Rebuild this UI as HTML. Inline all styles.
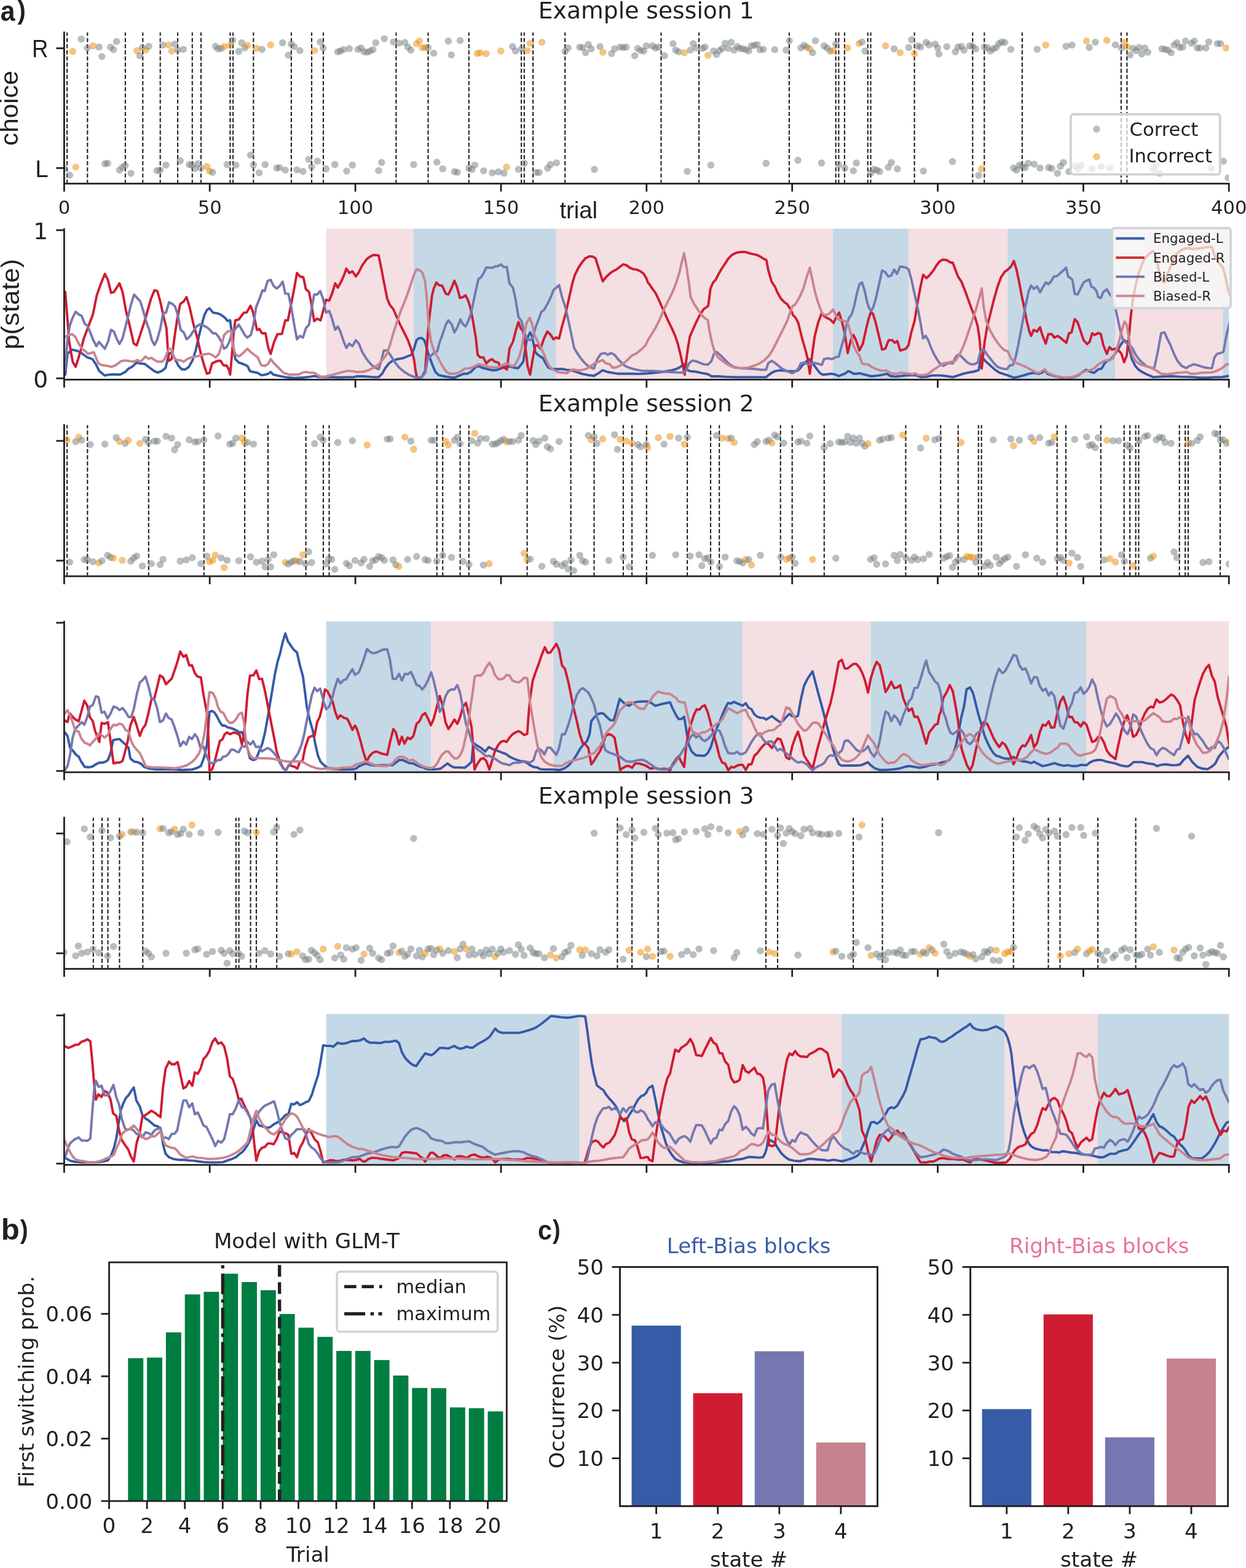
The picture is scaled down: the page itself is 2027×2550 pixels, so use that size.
<!DOCTYPE html>
<html><head><meta charset="utf-8"><title>Figure</title>
<style>html,body{margin:0;padding:0;background:#fff;}svg{display:block;}</style>
</head><body><svg width="2027" height="2550" viewBox="0 0 2027 2550"><rect x="530.7" y="372" width="142.1" height="245.4" fill="#f4dfe2"/><rect x="672.8" y="372" width="232.1" height="245.4" fill="#c5d8e6"/><rect x="905" y="372" width="450" height="245.4" fill="#f4dfe2"/><rect x="1355" y="372" width="123.2" height="245.4" fill="#c5d8e6"/><rect x="1478.1" y="372" width="161.1" height="245.4" fill="#f4dfe2"/><rect x="1639.2" y="372" width="175.3" height="245.4" fill="#c5d8e6"/><rect x="1814.5" y="372" width="175.3" height="245.4" fill="#f4dfe2"/><rect x="1989.7" y="372" width="9.5" height="245.4" fill="#c5d8e6"/><rect x="530.7" y="1010.5" width="170.5" height="245.4" fill="#c5d8e6"/><rect x="701.3" y="1010.5" width="199" height="245.4" fill="#f4dfe2"/><rect x="900.2" y="1010.5" width="307.9" height="245.4" fill="#c5d8e6"/><rect x="1208.1" y="1010.5" width="208.4" height="245.4" fill="#f4dfe2"/><rect x="1416.5" y="1010.5" width="350.5" height="245.4" fill="#c5d8e6"/><rect x="1767.1" y="1010.5" width="232.1" height="245.4" fill="#f4dfe2"/><rect x="530.7" y="1649" width="412.1" height="245.4" fill="#c5d8e6"/><rect x="942.8" y="1649" width="426.3" height="245.4" fill="#f4dfe2"/><rect x="1369.2" y="1649" width="265.3" height="245.4" fill="#c5d8e6"/><rect x="1634.5" y="1649" width="151.6" height="245.4" fill="#f4dfe2"/><rect x="1786" y="1649" width="213.2" height="245.4" fill="#c5d8e6"/><clipPath id="cc0"><rect x="104.4" y="48.4" width="1894.8" height="250.2"/></clipPath><line x1="109.1" y1="52.8" x2="109.1" y2="297.3" stroke="#231f20" stroke-width="2.1" stroke-dasharray="6.68 3.34" stroke-dashoffset="1.11"/><line x1="142.3" y1="52.8" x2="142.3" y2="297.3" stroke="#231f20" stroke-width="2.1" stroke-dasharray="6.68 3.34" stroke-dashoffset="1.11"/><line x1="203.9" y1="52.8" x2="203.9" y2="297.3" stroke="#231f20" stroke-width="2.1" stroke-dasharray="6.68 3.34" stroke-dashoffset="1.11"/><line x1="232.3" y1="52.8" x2="232.3" y2="297.3" stroke="#231f20" stroke-width="2.1" stroke-dasharray="6.68 3.34" stroke-dashoffset="1.11"/><line x1="260.7" y1="52.8" x2="260.7" y2="297.3" stroke="#231f20" stroke-width="2.1" stroke-dasharray="6.68 3.34" stroke-dashoffset="1.11"/><line x1="289.1" y1="52.8" x2="289.1" y2="297.3" stroke="#231f20" stroke-width="2.1" stroke-dasharray="6.68 3.34" stroke-dashoffset="1.11"/><line x1="312.8" y1="52.8" x2="312.8" y2="297.3" stroke="#231f20" stroke-width="2.1" stroke-dasharray="6.68 3.34" stroke-dashoffset="1.11"/><line x1="327" y1="52.8" x2="327" y2="297.3" stroke="#231f20" stroke-width="2.1" stroke-dasharray="6.68 3.34" stroke-dashoffset="1.11"/><line x1="374.4" y1="52.8" x2="374.4" y2="297.3" stroke="#231f20" stroke-width="2.1" stroke-dasharray="6.68 3.34" stroke-dashoffset="1.11"/><line x1="379.1" y1="52.8" x2="379.1" y2="297.3" stroke="#231f20" stroke-width="2.1" stroke-dasharray="6.68 3.34" stroke-dashoffset="1.11"/><line x1="412.3" y1="52.8" x2="412.3" y2="297.3" stroke="#231f20" stroke-width="2.1" stroke-dasharray="6.68 3.34" stroke-dashoffset="1.11"/><line x1="473.9" y1="52.8" x2="473.9" y2="297.3" stroke="#231f20" stroke-width="2.1" stroke-dasharray="6.68 3.34" stroke-dashoffset="1.11"/><line x1="507" y1="52.8" x2="507" y2="297.3" stroke="#231f20" stroke-width="2.1" stroke-dasharray="6.68 3.34" stroke-dashoffset="1.11"/><line x1="526" y1="52.8" x2="526" y2="297.3" stroke="#231f20" stroke-width="2.1" stroke-dasharray="6.68 3.34" stroke-dashoffset="1.11"/><line x1="644.4" y1="52.8" x2="644.4" y2="297.3" stroke="#231f20" stroke-width="2.1" stroke-dasharray="6.68 3.34" stroke-dashoffset="1.11"/><line x1="696.5" y1="52.8" x2="696.5" y2="297.3" stroke="#231f20" stroke-width="2.1" stroke-dasharray="6.68 3.34" stroke-dashoffset="1.11"/><line x1="762.8" y1="52.8" x2="762.8" y2="297.3" stroke="#231f20" stroke-width="2.1" stroke-dasharray="6.68 3.34" stroke-dashoffset="1.11"/><line x1="848.1" y1="52.8" x2="848.1" y2="297.3" stroke="#231f20" stroke-width="2.1" stroke-dasharray="6.68 3.34" stroke-dashoffset="1.11"/><line x1="852.8" y1="52.8" x2="852.8" y2="297.3" stroke="#231f20" stroke-width="2.1" stroke-dasharray="6.68 3.34" stroke-dashoffset="1.11"/><line x1="867.1" y1="52.8" x2="867.1" y2="297.3" stroke="#231f20" stroke-width="2.1" stroke-dasharray="6.68 3.34" stroke-dashoffset="1.11"/><line x1="919.2" y1="52.8" x2="919.2" y2="297.3" stroke="#231f20" stroke-width="2.1" stroke-dasharray="6.68 3.34" stroke-dashoffset="1.11"/><line x1="1075.5" y1="52.8" x2="1075.5" y2="297.3" stroke="#231f20" stroke-width="2.1" stroke-dasharray="6.68 3.34" stroke-dashoffset="1.11"/><line x1="1137.1" y1="52.8" x2="1137.1" y2="297.3" stroke="#231f20" stroke-width="2.1" stroke-dasharray="6.68 3.34" stroke-dashoffset="1.11"/><line x1="1283.9" y1="52.8" x2="1283.9" y2="297.3" stroke="#231f20" stroke-width="2.1" stroke-dasharray="6.68 3.34" stroke-dashoffset="1.11"/><line x1="1359.7" y1="52.8" x2="1359.7" y2="297.3" stroke="#231f20" stroke-width="2.1" stroke-dasharray="6.68 3.34" stroke-dashoffset="1.11"/><line x1="1364.4" y1="52.8" x2="1364.4" y2="297.3" stroke="#231f20" stroke-width="2.1" stroke-dasharray="6.68 3.34" stroke-dashoffset="1.11"/><line x1="1373.9" y1="52.8" x2="1373.9" y2="297.3" stroke="#231f20" stroke-width="2.1" stroke-dasharray="6.68 3.34" stroke-dashoffset="1.11"/><line x1="1411.8" y1="52.8" x2="1411.8" y2="297.3" stroke="#231f20" stroke-width="2.1" stroke-dasharray="6.68 3.34" stroke-dashoffset="1.11"/><line x1="1416.5" y1="52.8" x2="1416.5" y2="297.3" stroke="#231f20" stroke-width="2.1" stroke-dasharray="6.68 3.34" stroke-dashoffset="1.11"/><line x1="1487.6" y1="52.8" x2="1487.6" y2="297.3" stroke="#231f20" stroke-width="2.1" stroke-dasharray="6.68 3.34" stroke-dashoffset="1.11"/><line x1="1582.3" y1="52.8" x2="1582.3" y2="297.3" stroke="#231f20" stroke-width="2.1" stroke-dasharray="6.68 3.34" stroke-dashoffset="1.11"/><line x1="1601.3" y1="52.8" x2="1601.3" y2="297.3" stroke="#231f20" stroke-width="2.1" stroke-dasharray="6.68 3.34" stroke-dashoffset="1.11"/><line x1="1662.9" y1="52.8" x2="1662.9" y2="297.3" stroke="#231f20" stroke-width="2.1" stroke-dasharray="6.68 3.34" stroke-dashoffset="1.11"/><line x1="1823.9" y1="52.8" x2="1823.9" y2="297.3" stroke="#231f20" stroke-width="2.1" stroke-dasharray="6.68 3.34" stroke-dashoffset="1.11"/><line x1="1833.4" y1="52.8" x2="1833.4" y2="297.3" stroke="#231f20" stroke-width="2.1" stroke-dasharray="6.68 3.34" stroke-dashoffset="1.11"/><g clip-path="url(#cc0)" fill-opacity="0.5"><circle cx="104.2" cy="274" r="5.75" fill="#727b80"/><circle cx="113.4" cy="284.7" r="5.75" fill="#727b80"/><circle cx="118.2" cy="83.6" r="5.75" fill="#eb8901"/><circle cx="123.2" cy="271.8" r="5.75" fill="#eb8901"/><circle cx="132.2" cy="63.4" r="5.75" fill="#727b80"/><circle cx="142" cy="78" r="5.75" fill="#727b80"/><circle cx="151.2" cy="74.6" r="5.75" fill="#eb8901"/><circle cx="161.1" cy="76.6" r="5.75" fill="#727b80"/><circle cx="165.8" cy="92" r="5.75" fill="#727b80"/><circle cx="170.6" cy="266.2" r="5.75" fill="#727b80"/><circle cx="175.1" cy="265.6" r="5.75" fill="#727b80"/><circle cx="179.8" cy="76.6" r="5.75" fill="#727b80"/><circle cx="184.6" cy="80.8" r="5.75" fill="#727b80"/><circle cx="189.6" cy="67.4" r="5.75" fill="#727b80"/><circle cx="194.4" cy="276.8" r="5.75" fill="#727b80"/><circle cx="199.4" cy="272.1" r="5.75" fill="#727b80"/><circle cx="203.6" cy="269" r="5.75" fill="#727b80"/><circle cx="213.1" cy="281.9" r="5.75" fill="#727b80"/><circle cx="222.7" cy="82.2" r="5.75" fill="#eb8901"/><circle cx="227.4" cy="90.6" r="5.75" fill="#727b80"/><circle cx="231.6" cy="77.4" r="5.75" fill="#727b80"/><circle cx="237.2" cy="81.4" r="5.75" fill="#eb8901"/><circle cx="242" cy="75.2" r="5.75" fill="#727b80"/><circle cx="255.4" cy="277.4" r="5.75" fill="#727b80"/><circle cx="260.5" cy="276.8" r="5.75" fill="#727b80"/><circle cx="265.2" cy="73.2" r="5.75" fill="#727b80"/><circle cx="270" cy="268.4" r="5.75" fill="#727b80"/><circle cx="274.5" cy="73" r="5.75" fill="#eb8901"/><circle cx="279.2" cy="83" r="5.75" fill="#eb8901"/><circle cx="284.3" cy="71.8" r="5.75" fill="#727b80"/><circle cx="289" cy="81.4" r="5.75" fill="#727b80"/><circle cx="293.2" cy="261.4" r="5.75" fill="#727b80"/><circle cx="298.3" cy="80.2" r="5.75" fill="#727b80"/><circle cx="307.8" cy="267.6" r="5.75" fill="#727b80"/><circle cx="312.3" cy="268.4" r="5.75" fill="#727b80"/><circle cx="317" cy="274" r="5.75" fill="#727b80"/><circle cx="322.1" cy="266.2" r="5.75" fill="#727b80"/><circle cx="326.8" cy="273.5" r="5.75" fill="#727b80"/><circle cx="336.6" cy="270.7" r="5.75" fill="#eb8901"/><circle cx="340.8" cy="278.2" r="5.75" fill="#eb8901"/><circle cx="345.9" cy="280.2" r="5.75" fill="#727b80"/><circle cx="350.6" cy="75.2" r="5.75" fill="#727b80"/><circle cx="354.8" cy="79.4" r="5.75" fill="#727b80"/><circle cx="359.9" cy="78.8" r="5.75" fill="#727b80"/><circle cx="364.6" cy="75.8" r="5.75" fill="#eb8901"/><circle cx="369.4" cy="267.6" r="5.75" fill="#727b80"/><circle cx="373.9" cy="73.8" r="5.75" fill="#eb8901"/><circle cx="378.6" cy="65.4" r="5.75" fill="#727b80"/><circle cx="383.7" cy="268.4" r="5.75" fill="#727b80"/><circle cx="388.4" cy="83.6" r="5.75" fill="#727b80"/><circle cx="393.2" cy="69.6" r="5.75" fill="#727b80"/><circle cx="398.2" cy="78" r="5.75" fill="#727b80"/><circle cx="402.5" cy="73.8" r="5.75" fill="#eb8901"/><circle cx="407.5" cy="252.2" r="5.75" fill="#727b80"/><circle cx="412.3" cy="268.4" r="5.75" fill="#727b80"/><circle cx="417" cy="78.8" r="5.75" fill="#eb8901"/><circle cx="421.5" cy="281" r="5.75" fill="#727b80"/><circle cx="426.3" cy="80.2" r="5.75" fill="#727b80"/><circle cx="431.3" cy="267.6" r="5.75" fill="#727b80"/><circle cx="440.3" cy="73" r="5.75" fill="#eb8901"/><circle cx="450.1" cy="273.2" r="5.75" fill="#727b80"/><circle cx="454.8" cy="272.6" r="5.75" fill="#727b80"/><circle cx="459.6" cy="69.6" r="5.75" fill="#727b80"/><circle cx="464.1" cy="276.8" r="5.75" fill="#727b80"/><circle cx="469.1" cy="89.8" r="5.75" fill="#727b80"/><circle cx="473.9" cy="71.8" r="5.75" fill="#727b80"/><circle cx="478.6" cy="75.8" r="5.75" fill="#727b80"/><circle cx="483.1" cy="276.3" r="5.75" fill="#727b80"/><circle cx="487.9" cy="82.2" r="5.75" fill="#727b80"/><circle cx="492.9" cy="278.8" r="5.75" fill="#727b80"/><circle cx="502.1" cy="259.2" r="5.75" fill="#727b80"/><circle cx="506.9" cy="271.2" r="5.75" fill="#727b80"/><circle cx="511.7" cy="82.2" r="5.75" fill="#eb8901"/><circle cx="516.4" cy="262" r="5.75" fill="#727b80"/><circle cx="520.9" cy="68.2" r="5.75" fill="#727b80"/><circle cx="525.7" cy="78" r="5.75" fill="#727b80"/><circle cx="530.4" cy="274.6" r="5.75" fill="#727b80"/><circle cx="544.7" cy="267.6" r="5.75" fill="#727b80"/><circle cx="549.5" cy="84.2" r="5.75" fill="#727b80"/><circle cx="553.7" cy="83" r="5.75" fill="#727b80"/><circle cx="558.7" cy="80.8" r="5.75" fill="#727b80"/><circle cx="564" cy="278.2" r="5.75" fill="#727b80"/><circle cx="568.2" cy="79.1" r="5.75" fill="#727b80"/><circle cx="573.3" cy="268.4" r="5.75" fill="#727b80"/><circle cx="582.4" cy="80.2" r="5.75" fill="#727b80"/><circle cx="587.4" cy="78" r="5.75" fill="#727b80"/><circle cx="592.2" cy="84.2" r="5.75" fill="#727b80"/><circle cx="597.2" cy="85" r="5.75" fill="#727b80"/><circle cx="602" cy="83" r="5.75" fill="#727b80"/><circle cx="606.8" cy="80.8" r="5.75" fill="#727b80"/><circle cx="611.2" cy="69.6" r="5.75" fill="#727b80"/><circle cx="616" cy="277.4" r="5.75" fill="#727b80"/><circle cx="620.8" cy="264.2" r="5.75" fill="#727b80"/><circle cx="625.2" cy="62.9" r="5.75" fill="#727b80"/><circle cx="639.8" cy="68.2" r="5.75" fill="#727b80"/><circle cx="649.1" cy="70.2" r="5.75" fill="#727b80"/><circle cx="658.6" cy="69" r="5.75" fill="#727b80"/><circle cx="663.6" cy="76.6" r="5.75" fill="#727b80"/><circle cx="668.4" cy="81.4" r="5.75" fill="#727b80"/><circle cx="672.9" cy="267.6" r="5.75" fill="#727b80"/><circle cx="677.6" cy="71" r="5.75" fill="#eb8901"/><circle cx="682.4" cy="66.8" r="5.75" fill="#eb8901"/><circle cx="686.9" cy="77.4" r="5.75" fill="#eb8901"/><circle cx="691.6" cy="77.4" r="5.75" fill="#eb8901"/><circle cx="696.4" cy="77.4" r="5.75" fill="#727b80"/><circle cx="705.6" cy="86.4" r="5.75" fill="#727b80"/><circle cx="710.7" cy="263.7" r="5.75" fill="#727b80"/><circle cx="720.2" cy="274.6" r="5.75" fill="#727b80"/><circle cx="729.4" cy="66.8" r="5.75" fill="#727b80"/><circle cx="734.2" cy="89.2" r="5.75" fill="#727b80"/><circle cx="739.2" cy="279.1" r="5.75" fill="#727b80"/><circle cx="744" cy="280.2" r="5.75" fill="#727b80"/><circle cx="748.5" cy="66" r="5.75" fill="#727b80"/><circle cx="763" cy="273.5" r="5.75" fill="#727b80"/><circle cx="767.8" cy="275.4" r="5.75" fill="#727b80"/><circle cx="772.3" cy="268.4" r="5.75" fill="#727b80"/><circle cx="776.5" cy="87" r="5.75" fill="#eb8901"/><circle cx="781.2" cy="85.8" r="5.75" fill="#eb8901"/><circle cx="786.8" cy="277.7" r="5.75" fill="#727b80"/><circle cx="791" cy="87.2" r="5.75" fill="#eb8901"/><circle cx="800.8" cy="281" r="5.75" fill="#727b80"/><circle cx="810.6" cy="279.6" r="5.75" fill="#727b80"/><circle cx="814.8" cy="83" r="5.75" fill="#eb8901"/><circle cx="819.9" cy="281.6" r="5.75" fill="#727b80"/><circle cx="824.1" cy="271.8" r="5.75" fill="#eb8901"/><circle cx="833.9" cy="75.8" r="5.75" fill="#727b80"/><circle cx="838.6" cy="83" r="5.75" fill="#727b80"/><circle cx="843.4" cy="275.4" r="5.75" fill="#727b80"/><circle cx="848.4" cy="79.4" r="5.75" fill="#727b80"/><circle cx="852.9" cy="265.6" r="5.75" fill="#727b80"/><circle cx="857.7" cy="82.2" r="5.75" fill="#eb8901"/><circle cx="862.4" cy="70.4" r="5.75" fill="#eb8901"/><circle cx="872.2" cy="280.5" r="5.75" fill="#727b80"/><circle cx="877" cy="280.5" r="5.75" fill="#727b80"/><circle cx="881.5" cy="68.8" r="5.75" fill="#eb8901"/><circle cx="891" cy="273.5" r="5.75" fill="#727b80"/><circle cx="895.5" cy="267.6" r="5.75" fill="#727b80"/><circle cx="905.3" cy="264.8" r="5.75" fill="#727b80"/><circle cx="919.3" cy="83.6" r="5.75" fill="#727b80"/><circle cx="924.1" cy="78" r="5.75" fill="#727b80"/><circle cx="943.1" cy="76.6" r="5.75" fill="#727b80"/><circle cx="947.9" cy="77.4" r="5.75" fill="#727b80"/><circle cx="952.6" cy="85.8" r="5.75" fill="#727b80"/><circle cx="957.1" cy="72.4" r="5.75" fill="#727b80"/><circle cx="961.9" cy="79.4" r="5.75" fill="#727b80"/><circle cx="966.9" cy="275.4" r="5.75" fill="#727b80"/><circle cx="976.1" cy="75.8" r="5.75" fill="#727b80"/><circle cx="980.9" cy="85" r="5.75" fill="#eb8901"/><circle cx="994.9" cy="87.2" r="5.75" fill="#727b80"/><circle cx="999.7" cy="79.4" r="5.75" fill="#727b80"/><circle cx="1008.9" cy="76.6" r="5.75" fill="#727b80"/><circle cx="1013.7" cy="77.2" r="5.75" fill="#727b80"/><circle cx="1018.7" cy="76.6" r="5.75" fill="#727b80"/><circle cx="1032.7" cy="90.6" r="5.75" fill="#727b80"/><circle cx="1037.5" cy="78.8" r="5.75" fill="#727b80"/><circle cx="1042.2" cy="82.2" r="5.75" fill="#727b80"/><circle cx="1047.3" cy="83" r="5.75" fill="#727b80"/><circle cx="1051.5" cy="74.6" r="5.75" fill="#727b80"/><circle cx="1061.4" cy="74.6" r="5.75" fill="#727b80"/><circle cx="1066.2" cy="78" r="5.75" fill="#727b80"/><circle cx="1071.2" cy="76.6" r="5.75" fill="#727b80"/><circle cx="1080.8" cy="90.6" r="5.75" fill="#727b80"/><circle cx="1094.8" cy="71" r="5.75" fill="#727b80"/><circle cx="1099.2" cy="81.4" r="5.75" fill="#727b80"/><circle cx="1104" cy="84.2" r="5.75" fill="#727b80"/><circle cx="1113.3" cy="85.8" r="5.75" fill="#eb8901"/><circle cx="1118" cy="278.8" r="5.75" fill="#727b80"/><circle cx="1123.1" cy="81.4" r="5.75" fill="#727b80"/><circle cx="1127.8" cy="71" r="5.75" fill="#727b80"/><circle cx="1132.6" cy="78" r="5.75" fill="#727b80"/><circle cx="1142.4" cy="78.6" r="5.75" fill="#727b80"/><circle cx="1146.9" cy="76.6" r="5.75" fill="#727b80"/><circle cx="1151.6" cy="90" r="5.75" fill="#eb8901"/><circle cx="1156.4" cy="268.4" r="5.75" fill="#727b80"/><circle cx="1160.9" cy="83" r="5.75" fill="#727b80"/><circle cx="1165.6" cy="88.6" r="5.75" fill="#727b80"/><circle cx="1170.4" cy="82.2" r="5.75" fill="#727b80"/><circle cx="1174.9" cy="78.8" r="5.75" fill="#727b80"/><circle cx="1179.6" cy="70.2" r="5.75" fill="#727b80"/><circle cx="1184.4" cy="78.8" r="5.75" fill="#727b80"/><circle cx="1189.4" cy="68.8" r="5.75" fill="#727b80"/><circle cx="1194.2" cy="81.6" r="5.75" fill="#727b80"/><circle cx="1199.2" cy="75.8" r="5.75" fill="#727b80"/><circle cx="1203.7" cy="78.6" r="5.75" fill="#727b80"/><circle cx="1208.5" cy="79.4" r="5.75" fill="#727b80"/><circle cx="1213.2" cy="80.8" r="5.75" fill="#727b80"/><circle cx="1218" cy="82.8" r="5.75" fill="#727b80"/><circle cx="1222.5" cy="74.6" r="5.75" fill="#727b80"/><circle cx="1227.2" cy="73.8" r="5.75" fill="#727b80"/><circle cx="1232" cy="72.4" r="5.75" fill="#727b80"/><circle cx="1236.5" cy="80.8" r="5.75" fill="#727b80"/><circle cx="1241.8" cy="80.2" r="5.75" fill="#727b80"/><circle cx="1246.3" cy="265.6" r="5.75" fill="#727b80"/><circle cx="1260.3" cy="80.8" r="5.75" fill="#727b80"/><circle cx="1279" cy="81.4" r="5.75" fill="#727b80"/><circle cx="1284.1" cy="66.2" r="5.75" fill="#727b80"/><circle cx="1298.1" cy="260.6" r="5.75" fill="#727b80"/><circle cx="1302.8" cy="78" r="5.75" fill="#727b80"/><circle cx="1307.9" cy="73.8" r="5.75" fill="#727b80"/><circle cx="1312.6" cy="76.6" r="5.75" fill="#727b80"/><circle cx="1317.4" cy="79.4" r="5.75" fill="#eb8901"/><circle cx="1321.9" cy="85.8" r="5.75" fill="#727b80"/><circle cx="1326.6" cy="66.2" r="5.75" fill="#727b80"/><circle cx="1336.4" cy="265.1" r="5.75" fill="#727b80"/><circle cx="1340.6" cy="74.6" r="5.75" fill="#727b80"/><circle cx="1345.4" cy="78" r="5.75" fill="#727b80"/><circle cx="1350.5" cy="83" r="5.75" fill="#727b80"/><circle cx="1355.2" cy="82.2" r="5.75" fill="#eb8901"/><circle cx="1359.7" cy="71.8" r="5.75" fill="#727b80"/><circle cx="1364.5" cy="267.6" r="5.75" fill="#727b80"/><circle cx="1374.3" cy="273.5" r="5.75" fill="#727b80"/><circle cx="1379" cy="78" r="5.75" fill="#eb8901"/><circle cx="1388.3" cy="277.7" r="5.75" fill="#727b80"/><circle cx="1393" cy="265.1" r="5.75" fill="#727b80"/><circle cx="1397.5" cy="71" r="5.75" fill="#eb8901"/><circle cx="1402.3" cy="68.2" r="5.75" fill="#727b80"/><circle cx="1407" cy="83" r="5.75" fill="#727b80"/><circle cx="1417.1" cy="281" r="5.75" fill="#727b80"/><circle cx="1421.9" cy="275.4" r="5.75" fill="#727b80"/><circle cx="1426.6" cy="276.8" r="5.75" fill="#727b80"/><circle cx="1431.1" cy="279.1" r="5.75" fill="#727b80"/><circle cx="1440.6" cy="74.6" r="5.75" fill="#eb8901"/><circle cx="1445.1" cy="272.1" r="5.75" fill="#727b80"/><circle cx="1450.1" cy="264.2" r="5.75" fill="#727b80"/><circle cx="1454.6" cy="79.4" r="5.75" fill="#727b80"/><circle cx="1459.7" cy="274.6" r="5.75" fill="#727b80"/><circle cx="1464.4" cy="85.8" r="5.75" fill="#eb8901"/><circle cx="1478.4" cy="77.2" r="5.75" fill="#727b80"/><circle cx="1482.9" cy="64.6" r="5.75" fill="#727b80"/><circle cx="1487.7" cy="87.2" r="5.75" fill="#eb8901"/><circle cx="1492.7" cy="74.6" r="5.75" fill="#727b80"/><circle cx="1497.5" cy="76.6" r="5.75" fill="#727b80"/><circle cx="1502.2" cy="278.2" r="5.75" fill="#727b80"/><circle cx="1506.7" cy="69" r="5.75" fill="#727b80"/><circle cx="1511.5" cy="73" r="5.75" fill="#727b80"/><circle cx="1521.3" cy="71.8" r="5.75" fill="#727b80"/><circle cx="1525.5" cy="78" r="5.75" fill="#727b80"/><circle cx="1527.4" cy="87.8" r="5.75" fill="#727b80"/><circle cx="1540.2" cy="76" r="5.75" fill="#727b80"/><circle cx="1549.4" cy="262.8" r="5.75" fill="#727b80"/><circle cx="1554.2" cy="84.2" r="5.75" fill="#727b80"/><circle cx="1558.4" cy="76.6" r="5.75" fill="#727b80"/><circle cx="1564" cy="75.2" r="5.75" fill="#727b80"/><circle cx="1568.2" cy="81.4" r="5.75" fill="#727b80"/><circle cx="1577.4" cy="74.6" r="5.75" fill="#727b80"/><circle cx="1582.2" cy="75.2" r="5.75" fill="#727b80"/><circle cx="1587.3" cy="79.4" r="5.75" fill="#727b80"/><circle cx="1592" cy="285.2" r="5.75" fill="#727b80"/><circle cx="1596.8" cy="274.6" r="5.75" fill="#eb8901"/><circle cx="1601.3" cy="76.6" r="5.75" fill="#727b80"/><circle cx="1606" cy="77.4" r="5.75" fill="#727b80"/><circle cx="1611.1" cy="83" r="5.75" fill="#727b80"/><circle cx="1615.8" cy="79.4" r="5.75" fill="#727b80"/><circle cx="1620.6" cy="77.2" r="5.75" fill="#727b80"/><circle cx="1625.1" cy="71" r="5.75" fill="#727b80"/><circle cx="1629.8" cy="68.2" r="5.75" fill="#727b80"/><circle cx="1634.6" cy="69" r="5.75" fill="#727b80"/><circle cx="1644.4" cy="80.2" r="5.75" fill="#727b80"/><circle cx="1648.9" cy="273.2" r="5.75" fill="#727b80"/><circle cx="1653.6" cy="276.8" r="5.75" fill="#727b80"/><circle cx="1658.4" cy="268.4" r="5.75" fill="#727b80"/><circle cx="1662.9" cy="270.7" r="5.75" fill="#727b80"/><circle cx="1667.6" cy="272.6" r="5.75" fill="#727b80"/><circle cx="1672.7" cy="265.6" r="5.75" fill="#727b80"/><circle cx="1682.5" cy="267" r="5.75" fill="#727b80"/><circle cx="1687.2" cy="80.2" r="5.75" fill="#727b80"/><circle cx="1692" cy="273.2" r="5.75" fill="#727b80"/><circle cx="1701.2" cy="73.2" r="5.75" fill="#eb8901"/><circle cx="1706" cy="272.6" r="5.75" fill="#727b80"/><circle cx="1711" cy="274" r="5.75" fill="#727b80"/><circle cx="1720.3" cy="281.9" r="5.75" fill="#727b80"/><circle cx="1725" cy="270.4" r="5.75" fill="#727b80"/><circle cx="1729.8" cy="264.2" r="5.75" fill="#727b80"/><circle cx="1734.3" cy="75.2" r="5.75" fill="#727b80"/><circle cx="1739" cy="279.1" r="5.75" fill="#727b80"/><circle cx="1743.8" cy="73.2" r="5.75" fill="#727b80"/><circle cx="1748.8" cy="269.8" r="5.75" fill="#727b80"/><circle cx="1753.9" cy="274.9" r="5.75" fill="#727b80"/><circle cx="1758.6" cy="268.4" r="5.75" fill="#727b80"/><circle cx="1767.6" cy="66.8" r="5.75" fill="#eb8901"/><circle cx="1772.1" cy="77.2" r="5.75" fill="#727b80"/><circle cx="1776.8" cy="274" r="5.75" fill="#727b80"/><circle cx="1781.9" cy="68.8" r="5.75" fill="#727b80"/><circle cx="1791.4" cy="270.7" r="5.75" fill="#727b80"/><circle cx="1800.6" cy="65.4" r="5.75" fill="#eb8901"/><circle cx="1805.4" cy="273.2" r="5.75" fill="#727b80"/><circle cx="1814.6" cy="73" r="5.75" fill="#727b80"/><circle cx="1824.5" cy="78" r="5.75" fill="#727b80"/><circle cx="1829.2" cy="69" r="5.75" fill="#eb8901"/><circle cx="1833.7" cy="76" r="5.75" fill="#eb8901"/><circle cx="1838.5" cy="89.2" r="5.75" fill="#727b80"/><circle cx="1843.2" cy="78.6" r="5.75" fill="#727b80"/><circle cx="1848.3" cy="82.2" r="5.75" fill="#727b80"/><circle cx="1853" cy="77.2" r="5.75" fill="#727b80"/><circle cx="1857.5" cy="87.8" r="5.75" fill="#727b80"/><circle cx="1862.3" cy="78" r="5.75" fill="#727b80"/><circle cx="1867.3" cy="85" r="5.75" fill="#727b80"/><circle cx="1876.3" cy="275.4" r="5.75" fill="#727b80"/><circle cx="1881" cy="267.9" r="5.75" fill="#727b80"/><circle cx="1886.1" cy="281.6" r="5.75" fill="#727b80"/><circle cx="1890.3" cy="79.4" r="5.75" fill="#727b80"/><circle cx="1895.3" cy="80.2" r="5.75" fill="#727b80"/><circle cx="1900.1" cy="81.4" r="5.75" fill="#727b80"/><circle cx="1905.1" cy="85.8" r="5.75" fill="#727b80"/><circle cx="1909.9" cy="73.2" r="5.75" fill="#727b80"/><circle cx="1914.6" cy="69.6" r="5.75" fill="#727b80"/><circle cx="1919.1" cy="77.2" r="5.75" fill="#727b80"/><circle cx="1923.9" cy="76.6" r="5.75" fill="#727b80"/><circle cx="1928.6" cy="66.8" r="5.75" fill="#727b80"/><circle cx="1938.4" cy="70.4" r="5.75" fill="#727b80"/><circle cx="1942.9" cy="66.8" r="5.75" fill="#727b80"/><circle cx="1947.7" cy="78" r="5.75" fill="#727b80"/><circle cx="1952.4" cy="78" r="5.75" fill="#727b80"/><circle cx="1961.7" cy="78" r="5.75" fill="#727b80"/><circle cx="1966.4" cy="68.2" r="5.75" fill="#727b80"/><circle cx="1970.9" cy="273.5" r="5.75" fill="#727b80"/><circle cx="1980.4" cy="71" r="5.75" fill="#727b80"/><circle cx="1985.5" cy="71" r="5.75" fill="#727b80"/><circle cx="1990.2" cy="262" r="5.75" fill="#727b80"/><circle cx="1994.7" cy="78" r="5.75" fill="#eb8901"/><circle cx="1998.1" cy="289.4" r="5.75" fill="#727b80"/></g><clipPath id="cc1"><rect x="104.4" y="686.9" width="1894.8" height="250.2"/></clipPath><line x1="109.1" y1="691.3" x2="109.1" y2="935.8" stroke="#231f20" stroke-width="2.1" stroke-dasharray="6.68 3.34" stroke-dashoffset="1.11"/><line x1="142.3" y1="691.3" x2="142.3" y2="935.8" stroke="#231f20" stroke-width="2.1" stroke-dasharray="6.68 3.34" stroke-dashoffset="1.11"/><line x1="241.8" y1="691.3" x2="241.8" y2="935.8" stroke="#231f20" stroke-width="2.1" stroke-dasharray="6.68 3.34" stroke-dashoffset="1.11"/><line x1="331.8" y1="691.3" x2="331.8" y2="935.8" stroke="#231f20" stroke-width="2.1" stroke-dasharray="6.68 3.34" stroke-dashoffset="1.11"/><line x1="398.1" y1="691.3" x2="398.1" y2="935.8" stroke="#231f20" stroke-width="2.1" stroke-dasharray="6.68 3.34" stroke-dashoffset="1.11"/><line x1="436" y1="691.3" x2="436" y2="935.8" stroke="#231f20" stroke-width="2.1" stroke-dasharray="6.68 3.34" stroke-dashoffset="1.11"/><line x1="497.6" y1="691.3" x2="497.6" y2="935.8" stroke="#231f20" stroke-width="2.1" stroke-dasharray="6.68 3.34" stroke-dashoffset="1.11"/><line x1="526" y1="691.3" x2="526" y2="935.8" stroke="#231f20" stroke-width="2.1" stroke-dasharray="6.68 3.34" stroke-dashoffset="1.11"/><line x1="535.5" y1="691.3" x2="535.5" y2="935.8" stroke="#231f20" stroke-width="2.1" stroke-dasharray="6.68 3.34" stroke-dashoffset="1.11"/><line x1="710.7" y1="691.3" x2="710.7" y2="935.8" stroke="#231f20" stroke-width="2.1" stroke-dasharray="6.68 3.34" stroke-dashoffset="1.11"/><line x1="720.2" y1="691.3" x2="720.2" y2="935.8" stroke="#231f20" stroke-width="2.1" stroke-dasharray="6.68 3.34" stroke-dashoffset="1.11"/><line x1="748.6" y1="691.3" x2="748.6" y2="935.8" stroke="#231f20" stroke-width="2.1" stroke-dasharray="6.68 3.34" stroke-dashoffset="1.11"/><line x1="762.8" y1="691.3" x2="762.8" y2="935.8" stroke="#231f20" stroke-width="2.1" stroke-dasharray="6.68 3.34" stroke-dashoffset="1.11"/><line x1="857.6" y1="691.3" x2="857.6" y2="935.8" stroke="#231f20" stroke-width="2.1" stroke-dasharray="6.68 3.34" stroke-dashoffset="1.11"/><line x1="928.6" y1="691.3" x2="928.6" y2="935.8" stroke="#231f20" stroke-width="2.1" stroke-dasharray="6.68 3.34" stroke-dashoffset="1.11"/><line x1="966.5" y1="691.3" x2="966.5" y2="935.8" stroke="#231f20" stroke-width="2.1" stroke-dasharray="6.68 3.34" stroke-dashoffset="1.11"/><line x1="1013.9" y1="691.3" x2="1013.9" y2="935.8" stroke="#231f20" stroke-width="2.1" stroke-dasharray="6.68 3.34" stroke-dashoffset="1.11"/><line x1="1028.1" y1="691.3" x2="1028.1" y2="935.8" stroke="#231f20" stroke-width="2.1" stroke-dasharray="6.68 3.34" stroke-dashoffset="1.11"/><line x1="1051.8" y1="691.3" x2="1051.8" y2="935.8" stroke="#231f20" stroke-width="2.1" stroke-dasharray="6.68 3.34" stroke-dashoffset="1.11"/><line x1="1118.1" y1="691.3" x2="1118.1" y2="935.8" stroke="#231f20" stroke-width="2.1" stroke-dasharray="6.68 3.34" stroke-dashoffset="1.11"/><line x1="1156" y1="691.3" x2="1156" y2="935.8" stroke="#231f20" stroke-width="2.1" stroke-dasharray="6.68 3.34" stroke-dashoffset="1.11"/><line x1="1170.2" y1="691.3" x2="1170.2" y2="935.8" stroke="#231f20" stroke-width="2.1" stroke-dasharray="6.68 3.34" stroke-dashoffset="1.11"/><line x1="1269.7" y1="691.3" x2="1269.7" y2="935.8" stroke="#231f20" stroke-width="2.1" stroke-dasharray="6.68 3.34" stroke-dashoffset="1.11"/><line x1="1288.7" y1="691.3" x2="1288.7" y2="935.8" stroke="#231f20" stroke-width="2.1" stroke-dasharray="6.68 3.34" stroke-dashoffset="1.11"/><line x1="1340.8" y1="691.3" x2="1340.8" y2="935.8" stroke="#231f20" stroke-width="2.1" stroke-dasharray="6.68 3.34" stroke-dashoffset="1.11"/><line x1="1473.4" y1="691.3" x2="1473.4" y2="935.8" stroke="#231f20" stroke-width="2.1" stroke-dasharray="6.68 3.34" stroke-dashoffset="1.11"/><line x1="1530.2" y1="691.3" x2="1530.2" y2="935.8" stroke="#231f20" stroke-width="2.1" stroke-dasharray="6.68 3.34" stroke-dashoffset="1.11"/><line x1="1558.7" y1="691.3" x2="1558.7" y2="935.8" stroke="#231f20" stroke-width="2.1" stroke-dasharray="6.68 3.34" stroke-dashoffset="1.11"/><line x1="1591.8" y1="691.3" x2="1591.8" y2="935.8" stroke="#231f20" stroke-width="2.1" stroke-dasharray="6.68 3.34" stroke-dashoffset="1.11"/><line x1="1596.6" y1="691.3" x2="1596.6" y2="935.8" stroke="#231f20" stroke-width="2.1" stroke-dasharray="6.68 3.34" stroke-dashoffset="1.11"/><line x1="1719.7" y1="691.3" x2="1719.7" y2="935.8" stroke="#231f20" stroke-width="2.1" stroke-dasharray="6.68 3.34" stroke-dashoffset="1.11"/><line x1="1733.9" y1="691.3" x2="1733.9" y2="935.8" stroke="#231f20" stroke-width="2.1" stroke-dasharray="6.68 3.34" stroke-dashoffset="1.11"/><line x1="1790.8" y1="691.3" x2="1790.8" y2="935.8" stroke="#231f20" stroke-width="2.1" stroke-dasharray="6.68 3.34" stroke-dashoffset="1.11"/><line x1="1828.7" y1="691.3" x2="1828.7" y2="935.8" stroke="#231f20" stroke-width="2.1" stroke-dasharray="6.68 3.34" stroke-dashoffset="1.11"/><line x1="1838.1" y1="691.3" x2="1838.1" y2="935.8" stroke="#231f20" stroke-width="2.1" stroke-dasharray="6.68 3.34" stroke-dashoffset="1.11"/><line x1="1847.6" y1="691.3" x2="1847.6" y2="935.8" stroke="#231f20" stroke-width="2.1" stroke-dasharray="6.68 3.34" stroke-dashoffset="1.11"/><line x1="1852.4" y1="691.3" x2="1852.4" y2="935.8" stroke="#231f20" stroke-width="2.1" stroke-dasharray="6.68 3.34" stroke-dashoffset="1.11"/><line x1="1918.7" y1="691.3" x2="1918.7" y2="935.8" stroke="#231f20" stroke-width="2.1" stroke-dasharray="6.68 3.34" stroke-dashoffset="1.11"/><line x1="1928.1" y1="691.3" x2="1928.1" y2="935.8" stroke="#231f20" stroke-width="2.1" stroke-dasharray="6.68 3.34" stroke-dashoffset="1.11"/><line x1="1932.9" y1="691.3" x2="1932.9" y2="935.8" stroke="#231f20" stroke-width="2.1" stroke-dasharray="6.68 3.34" stroke-dashoffset="1.11"/><line x1="1985" y1="691.3" x2="1985" y2="935.8" stroke="#231f20" stroke-width="2.1" stroke-dasharray="6.68 3.34" stroke-dashoffset="1.11"/><g clip-path="url(#cc1)" fill-opacity="0.5"><circle cx="109" cy="715.4" r="5.75" fill="#eb8901"/><circle cx="113.4" cy="914.3" r="5.75" fill="#727b80"/><circle cx="123.2" cy="718.2" r="5.75" fill="#727b80"/><circle cx="128" cy="711" r="5.75" fill="#eb8901"/><circle cx="132.8" cy="716" r="5.75" fill="#727b80"/><circle cx="137.2" cy="910.1" r="5.75" fill="#727b80"/><circle cx="142" cy="910.1" r="5.75" fill="#727b80"/><circle cx="146.8" cy="723" r="5.75" fill="#727b80"/><circle cx="151.2" cy="913.4" r="5.75" fill="#727b80"/><circle cx="160.8" cy="915.4" r="5.75" fill="#eb8901"/><circle cx="165.8" cy="912" r="5.75" fill="#727b80"/><circle cx="170.6" cy="722.2" r="5.75" fill="#727b80"/><circle cx="175.1" cy="903.1" r="5.75" fill="#727b80"/><circle cx="179.8" cy="906.4" r="5.75" fill="#727b80"/><circle cx="184.6" cy="907.8" r="5.75" fill="#eb8901"/><circle cx="189.1" cy="711.8" r="5.75" fill="#727b80"/><circle cx="194.4" cy="718" r="5.75" fill="#eb8901"/><circle cx="198.9" cy="911.2" r="5.75" fill="#eb8901"/><circle cx="203.6" cy="721" r="5.75" fill="#727b80"/><circle cx="208.4" cy="716" r="5.75" fill="#eb8901"/><circle cx="212.9" cy="912.6" r="5.75" fill="#727b80"/><circle cx="217.6" cy="907.3" r="5.75" fill="#727b80"/><circle cx="222.4" cy="904.2" r="5.75" fill="#727b80"/><circle cx="227.4" cy="721" r="5.75" fill="#eb8901"/><circle cx="231.6" cy="920.4" r="5.75" fill="#727b80"/><circle cx="236.7" cy="714.6" r="5.75" fill="#727b80"/><circle cx="241.4" cy="719.4" r="5.75" fill="#727b80"/><circle cx="246.2" cy="916.8" r="5.75" fill="#727b80"/><circle cx="251.2" cy="717.4" r="5.75" fill="#727b80"/><circle cx="256" cy="717.4" r="5.75" fill="#727b80"/><circle cx="260.5" cy="918.2" r="5.75" fill="#727b80"/><circle cx="265.2" cy="909.8" r="5.75" fill="#727b80"/><circle cx="270" cy="709.6" r="5.75" fill="#727b80"/><circle cx="279.2" cy="712.4" r="5.75" fill="#727b80"/><circle cx="284" cy="731.4" r="5.75" fill="#727b80"/><circle cx="289" cy="723" r="5.75" fill="#727b80"/><circle cx="293.2" cy="912.6" r="5.75" fill="#727b80"/><circle cx="303" cy="910.6" r="5.75" fill="#727b80"/><circle cx="307.8" cy="715.2" r="5.75" fill="#727b80"/><circle cx="312.8" cy="907" r="5.75" fill="#727b80"/><circle cx="317" cy="718.8" r="5.75" fill="#727b80"/><circle cx="321.8" cy="718.2" r="5.75" fill="#727b80"/><circle cx="326.8" cy="916.8" r="5.75" fill="#727b80"/><circle cx="331.6" cy="715.4" r="5.75" fill="#727b80"/><circle cx="336.6" cy="904.5" r="5.75" fill="#727b80"/><circle cx="340.8" cy="913.4" r="5.75" fill="#eb8901"/><circle cx="345.9" cy="911.5" r="5.75" fill="#eb8901"/><circle cx="350.1" cy="902.8" r="5.75" fill="#eb8901"/><circle cx="354.8" cy="709" r="5.75" fill="#727b80"/><circle cx="359.9" cy="907.3" r="5.75" fill="#727b80"/><circle cx="364.6" cy="923.2" r="5.75" fill="#eb8901"/><circle cx="369.4" cy="911.2" r="5.75" fill="#727b80"/><circle cx="373.9" cy="722.2" r="5.75" fill="#727b80"/><circle cx="378.6" cy="721" r="5.75" fill="#727b80"/><circle cx="383.7" cy="712.6" r="5.75" fill="#727b80"/><circle cx="388.4" cy="912" r="5.75" fill="#727b80"/><circle cx="393.2" cy="712.4" r="5.75" fill="#eb8901"/><circle cx="397.7" cy="719.4" r="5.75" fill="#eb8901"/><circle cx="402.5" cy="719.4" r="5.75" fill="#727b80"/><circle cx="407.5" cy="905.6" r="5.75" fill="#727b80"/><circle cx="412.3" cy="722.2" r="5.75" fill="#727b80"/><circle cx="417" cy="914.3" r="5.75" fill="#727b80"/><circle cx="426.3" cy="912.6" r="5.75" fill="#727b80"/><circle cx="431.3" cy="921.8" r="5.75" fill="#727b80"/><circle cx="436.1" cy="909.8" r="5.75" fill="#727b80"/><circle cx="440.3" cy="921.8" r="5.75" fill="#727b80"/><circle cx="445.3" cy="902.2" r="5.75" fill="#727b80"/><circle cx="464.1" cy="914.8" r="5.75" fill="#eb8901"/><circle cx="469.1" cy="917.1" r="5.75" fill="#727b80"/><circle cx="473.9" cy="914.3" r="5.75" fill="#727b80"/><circle cx="478.6" cy="912" r="5.75" fill="#727b80"/><circle cx="483.1" cy="912" r="5.75" fill="#eb8901"/><circle cx="487.9" cy="913.4" r="5.75" fill="#727b80"/><circle cx="492.6" cy="902.2" r="5.75" fill="#eb8901"/><circle cx="497.1" cy="916.8" r="5.75" fill="#727b80"/><circle cx="502.1" cy="897.5" r="5.75" fill="#727b80"/><circle cx="506.9" cy="914.8" r="5.75" fill="#727b80"/><circle cx="511.7" cy="721.6" r="5.75" fill="#727b80"/><circle cx="520.9" cy="711" r="5.75" fill="#727b80"/><circle cx="525.7" cy="716" r="5.75" fill="#727b80"/><circle cx="530.4" cy="917.1" r="5.75" fill="#727b80"/><circle cx="534.9" cy="908.4" r="5.75" fill="#727b80"/><circle cx="539.7" cy="909.8" r="5.75" fill="#727b80"/><circle cx="544.7" cy="926" r="5.75" fill="#727b80"/><circle cx="549.5" cy="719.6" r="5.75" fill="#727b80"/><circle cx="563.5" cy="916.2" r="5.75" fill="#727b80"/><circle cx="568.2" cy="919.9" r="5.75" fill="#727b80"/><circle cx="573.3" cy="716.8" r="5.75" fill="#727b80"/><circle cx="577.5" cy="911.5" r="5.75" fill="#727b80"/><circle cx="587.4" cy="915.4" r="5.75" fill="#727b80"/><circle cx="592.2" cy="909.8" r="5.75" fill="#727b80"/><circle cx="597.2" cy="723.8" r="5.75" fill="#eb8901"/><circle cx="601.4" cy="921" r="5.75" fill="#727b80"/><circle cx="606.2" cy="912" r="5.75" fill="#727b80"/><circle cx="611.2" cy="910.6" r="5.75" fill="#727b80"/><circle cx="616" cy="905" r="5.75" fill="#727b80"/><circle cx="620.8" cy="907" r="5.75" fill="#727b80"/><circle cx="625.2" cy="911.2" r="5.75" fill="#727b80"/><circle cx="630" cy="714" r="5.75" fill="#727b80"/><circle cx="634.8" cy="713.8" r="5.75" fill="#727b80"/><circle cx="639.3" cy="910.6" r="5.75" fill="#727b80"/><circle cx="644" cy="918.5" r="5.75" fill="#727b80"/><circle cx="648.8" cy="921" r="5.75" fill="#eb8901"/><circle cx="658.6" cy="711" r="5.75" fill="#eb8901"/><circle cx="663.1" cy="909.8" r="5.75" fill="#727b80"/><circle cx="668.4" cy="717.4" r="5.75" fill="#727b80"/><circle cx="672.9" cy="730.6" r="5.75" fill="#eb8901"/><circle cx="677.6" cy="905" r="5.75" fill="#727b80"/><circle cx="691.6" cy="910.1" r="5.75" fill="#727b80"/><circle cx="696.4" cy="911.5" r="5.75" fill="#727b80"/><circle cx="701.4" cy="716" r="5.75" fill="#727b80"/><circle cx="706.2" cy="716" r="5.75" fill="#727b80"/><circle cx="710.7" cy="912.6" r="5.75" fill="#727b80"/><circle cx="720.2" cy="903.1" r="5.75" fill="#727b80"/><circle cx="724.7" cy="717.4" r="5.75" fill="#eb8901"/><circle cx="729.4" cy="723.8" r="5.75" fill="#eb8901"/><circle cx="734.5" cy="906.4" r="5.75" fill="#727b80"/><circle cx="739.2" cy="716" r="5.75" fill="#727b80"/><circle cx="744" cy="711" r="5.75" fill="#727b80"/><circle cx="748.5" cy="721.6" r="5.75" fill="#727b80"/><circle cx="753.2" cy="912.9" r="5.75" fill="#727b80"/><circle cx="763" cy="918.2" r="5.75" fill="#727b80"/><circle cx="767.2" cy="716.8" r="5.75" fill="#727b80"/><circle cx="772.3" cy="704.8" r="5.75" fill="#eb8901"/><circle cx="777" cy="720.8" r="5.75" fill="#727b80"/><circle cx="781.8" cy="713.2" r="5.75" fill="#727b80"/><circle cx="786.3" cy="919" r="5.75" fill="#727b80"/><circle cx="791" cy="713.2" r="5.75" fill="#727b80"/><circle cx="795.8" cy="916.8" r="5.75" fill="#eb8901"/><circle cx="800.8" cy="722.2" r="5.75" fill="#727b80"/><circle cx="805.6" cy="722.2" r="5.75" fill="#727b80"/><circle cx="810.1" cy="720.2" r="5.75" fill="#727b80"/><circle cx="814.8" cy="716.8" r="5.75" fill="#727b80"/><circle cx="819.6" cy="714.6" r="5.75" fill="#727b80"/><circle cx="824.1" cy="718.8" r="5.75" fill="#eb8901"/><circle cx="828.8" cy="718" r="5.75" fill="#727b80"/><circle cx="833.9" cy="718" r="5.75" fill="#727b80"/><circle cx="843.4" cy="716" r="5.75" fill="#727b80"/><circle cx="847.9" cy="708.2" r="5.75" fill="#727b80"/><circle cx="852.6" cy="900" r="5.75" fill="#eb8901"/><circle cx="857.7" cy="910.1" r="5.75" fill="#eb8901"/><circle cx="862.4" cy="909.2" r="5.75" fill="#727b80"/><circle cx="867.2" cy="716.6" r="5.75" fill="#727b80"/><circle cx="871.7" cy="723" r="5.75" fill="#727b80"/><circle cx="876.5" cy="717.4" r="5.75" fill="#727b80"/><circle cx="881.5" cy="921" r="5.75" fill="#727b80"/><circle cx="886.3" cy="712.6" r="5.75" fill="#727b80"/><circle cx="890.5" cy="726.6" r="5.75" fill="#727b80"/><circle cx="895.5" cy="730" r="5.75" fill="#727b80"/><circle cx="900.3" cy="912.9" r="5.75" fill="#727b80"/><circle cx="905.3" cy="917.6" r="5.75" fill="#727b80"/><circle cx="909.5" cy="718" r="5.75" fill="#727b80"/><circle cx="914.3" cy="919.9" r="5.75" fill="#727b80"/><circle cx="919" cy="916.2" r="5.75" fill="#727b80"/><circle cx="924.1" cy="925.5" r="5.75" fill="#727b80"/><circle cx="928.8" cy="910.6" r="5.75" fill="#727b80"/><circle cx="933.3" cy="928" r="5.75" fill="#727b80"/><circle cx="943.1" cy="903.1" r="5.75" fill="#727b80"/><circle cx="947.9" cy="912" r="5.75" fill="#727b80"/><circle cx="952.6" cy="914.3" r="5.75" fill="#727b80"/><circle cx="957.1" cy="708.2" r="5.75" fill="#727b80"/><circle cx="961.9" cy="715.2" r="5.75" fill="#eb8901"/><circle cx="966.6" cy="710.4" r="5.75" fill="#727b80"/><circle cx="971.1" cy="721" r="5.75" fill="#727b80"/><circle cx="980.6" cy="713.8" r="5.75" fill="#eb8901"/><circle cx="990.4" cy="911.5" r="5.75" fill="#727b80"/><circle cx="999.7" cy="707" r="5.75" fill="#727b80"/><circle cx="1004.4" cy="730.8" r="5.75" fill="#727b80"/><circle cx="1008.9" cy="714.6" r="5.75" fill="#eb8901"/><circle cx="1013.7" cy="905.9" r="5.75" fill="#727b80"/><circle cx="1018.7" cy="717.4" r="5.75" fill="#eb8901"/><circle cx="1023.5" cy="921.8" r="5.75" fill="#727b80"/><circle cx="1028.2" cy="721" r="5.75" fill="#eb8901"/><circle cx="1037.5" cy="723" r="5.75" fill="#727b80"/><circle cx="1042.2" cy="726.6" r="5.75" fill="#727b80"/><circle cx="1051.5" cy="723" r="5.75" fill="#727b80"/><circle cx="1053.4" cy="728" r="5.75" fill="#eb8901"/><circle cx="1061.4" cy="903.1" r="5.75" fill="#727b80"/><circle cx="1071" cy="711.8" r="5.75" fill="#eb8901"/><circle cx="1080.2" cy="722.2" r="5.75" fill="#727b80"/><circle cx="1090" cy="709.8" r="5.75" fill="#eb8901"/><circle cx="1099.2" cy="902.2" r="5.75" fill="#727b80"/><circle cx="1104" cy="712.4" r="5.75" fill="#727b80"/><circle cx="1113.3" cy="722.4" r="5.75" fill="#eb8901"/><circle cx="1118" cy="711" r="5.75" fill="#727b80"/><circle cx="1122.8" cy="904.2" r="5.75" fill="#727b80"/><circle cx="1137.1" cy="902.2" r="5.75" fill="#727b80"/><circle cx="1141.8" cy="919.9" r="5.75" fill="#727b80"/><circle cx="1146.6" cy="908.4" r="5.75" fill="#727b80"/><circle cx="1151.6" cy="907.3" r="5.75" fill="#727b80"/><circle cx="1156.4" cy="914" r="5.75" fill="#727b80"/><circle cx="1165.6" cy="708.2" r="5.75" fill="#727b80"/><circle cx="1170.4" cy="921.3" r="5.75" fill="#727b80"/><circle cx="1174.9" cy="712.4" r="5.75" fill="#eb8901"/><circle cx="1179.6" cy="905.9" r="5.75" fill="#727b80"/><circle cx="1184.4" cy="713.2" r="5.75" fill="#eb8901"/><circle cx="1189.4" cy="712.6" r="5.75" fill="#727b80"/><circle cx="1194.2" cy="719.6" r="5.75" fill="#eb8901"/><circle cx="1198.7" cy="912" r="5.75" fill="#727b80"/><circle cx="1203.4" cy="912.9" r="5.75" fill="#727b80"/><circle cx="1208.5" cy="915.4" r="5.75" fill="#727b80"/><circle cx="1213.2" cy="910.1" r="5.75" fill="#eb8901"/><circle cx="1218" cy="910.1" r="5.75" fill="#727b80"/><circle cx="1222.5" cy="919" r="5.75" fill="#eb8901"/><circle cx="1227.2" cy="723" r="5.75" fill="#727b80"/><circle cx="1232" cy="718.2" r="5.75" fill="#727b80"/><circle cx="1237" cy="903.1" r="5.75" fill="#727b80"/><circle cx="1246.3" cy="718" r="5.75" fill="#727b80"/><circle cx="1251" cy="716" r="5.75" fill="#727b80"/><circle cx="1255.8" cy="720.2" r="5.75" fill="#eb8901"/><circle cx="1260.3" cy="707.6" r="5.75" fill="#727b80"/><circle cx="1265" cy="710.4" r="5.75" fill="#727b80"/><circle cx="1270.1" cy="905.9" r="5.75" fill="#727b80"/><circle cx="1274.8" cy="720.8" r="5.75" fill="#727b80"/><circle cx="1279.6" cy="909.8" r="5.75" fill="#eb8901"/><circle cx="1284.1" cy="907.8" r="5.75" fill="#eb8901"/><circle cx="1288.8" cy="905.9" r="5.75" fill="#727b80"/><circle cx="1293.6" cy="916.2" r="5.75" fill="#727b80"/><circle cx="1298.1" cy="718.8" r="5.75" fill="#727b80"/><circle cx="1302.8" cy="717.4" r="5.75" fill="#727b80"/><circle cx="1312.6" cy="720.8" r="5.75" fill="#727b80"/><circle cx="1317.4" cy="709" r="5.75" fill="#727b80"/><circle cx="1321.9" cy="909.8" r="5.75" fill="#eb8901"/><circle cx="1340.6" cy="727.8" r="5.75" fill="#727b80"/><circle cx="1350.5" cy="721.6" r="5.75" fill="#727b80"/><circle cx="1359.7" cy="907.8" r="5.75" fill="#727b80"/><circle cx="1364.5" cy="718.8" r="5.75" fill="#727b80"/><circle cx="1369.2" cy="719.4" r="5.75" fill="#727b80"/><circle cx="1374.3" cy="718.8" r="5.75" fill="#727b80"/><circle cx="1379" cy="709.6" r="5.75" fill="#727b80"/><circle cx="1383.5" cy="719.6" r="5.75" fill="#727b80"/><circle cx="1388.3" cy="712.6" r="5.75" fill="#727b80"/><circle cx="1393" cy="721" r="5.75" fill="#727b80"/><circle cx="1398.1" cy="712.4" r="5.75" fill="#727b80"/><circle cx="1402.8" cy="721" r="5.75" fill="#727b80"/><circle cx="1407" cy="725.8" r="5.75" fill="#727b80"/><circle cx="1412.1" cy="721.6" r="5.75" fill="#eb8901"/><circle cx="1416.3" cy="909.8" r="5.75" fill="#727b80"/><circle cx="1421.9" cy="907" r="5.75" fill="#727b80"/><circle cx="1426.1" cy="917.6" r="5.75" fill="#727b80"/><circle cx="1430.8" cy="716" r="5.75" fill="#727b80"/><circle cx="1435.9" cy="714" r="5.75" fill="#727b80"/><circle cx="1440.6" cy="917.1" r="5.75" fill="#727b80"/><circle cx="1445.1" cy="712.4" r="5.75" fill="#727b80"/><circle cx="1449.9" cy="711.8" r="5.75" fill="#727b80"/><circle cx="1454.6" cy="903.1" r="5.75" fill="#727b80"/><circle cx="1459.7" cy="911.5" r="5.75" fill="#727b80"/><circle cx="1464.4" cy="901.7" r="5.75" fill="#727b80"/><circle cx="1468.6" cy="707.6" r="5.75" fill="#eb8901"/><circle cx="1473.7" cy="907.3" r="5.75" fill="#727b80"/><circle cx="1482.9" cy="911.2" r="5.75" fill="#727b80"/><circle cx="1487.7" cy="905.9" r="5.75" fill="#727b80"/><circle cx="1492.7" cy="910.1" r="5.75" fill="#727b80"/><circle cx="1497.5" cy="728.6" r="5.75" fill="#727b80"/><circle cx="1502.2" cy="908.7" r="5.75" fill="#727b80"/><circle cx="1506.7" cy="712.6" r="5.75" fill="#eb8901"/><circle cx="1511.5" cy="901.7" r="5.75" fill="#727b80"/><circle cx="1520.7" cy="715.2" r="5.75" fill="#727b80"/><circle cx="1527.4" cy="713.2" r="5.75" fill="#727b80"/><circle cx="1535.4" cy="907.8" r="5.75" fill="#727b80"/><circle cx="1540.2" cy="905" r="5.75" fill="#727b80"/><circle cx="1545" cy="903.6" r="5.75" fill="#727b80"/><circle cx="1549.4" cy="922.7" r="5.75" fill="#727b80"/><circle cx="1554.2" cy="914.3" r="5.75" fill="#727b80"/><circle cx="1559" cy="910.6" r="5.75" fill="#727b80"/><circle cx="1563.4" cy="719.6" r="5.75" fill="#eb8901"/><circle cx="1568.2" cy="909.8" r="5.75" fill="#727b80"/><circle cx="1573.2" cy="905" r="5.75" fill="#eb8901"/><circle cx="1578" cy="905.9" r="5.75" fill="#eb8901"/><circle cx="1582.8" cy="906.4" r="5.75" fill="#eb8901"/><circle cx="1587.3" cy="914.3" r="5.75" fill="#727b80"/><circle cx="1592" cy="905.9" r="5.75" fill="#727b80"/><circle cx="1601.8" cy="920.4" r="5.75" fill="#727b80"/><circle cx="1606.6" cy="914.8" r="5.75" fill="#727b80"/><circle cx="1611.1" cy="919.6" r="5.75" fill="#727b80"/><circle cx="1615.8" cy="715.2" r="5.75" fill="#727b80"/><circle cx="1620.6" cy="905.9" r="5.75" fill="#727b80"/><circle cx="1625.6" cy="916.8" r="5.75" fill="#727b80"/><circle cx="1629.8" cy="912" r="5.75" fill="#727b80"/><circle cx="1634.6" cy="908.4" r="5.75" fill="#727b80"/><circle cx="1639.6" cy="905.9" r="5.75" fill="#727b80"/><circle cx="1644.4" cy="714" r="5.75" fill="#727b80"/><circle cx="1648.9" cy="725" r="5.75" fill="#eb8901"/><circle cx="1653.6" cy="921" r="5.75" fill="#727b80"/><circle cx="1658.4" cy="716" r="5.75" fill="#727b80"/><circle cx="1668.2" cy="902.2" r="5.75" fill="#727b80"/><circle cx="1677.4" cy="711.8" r="5.75" fill="#727b80"/><circle cx="1682.2" cy="718" r="5.75" fill="#eb8901"/><circle cx="1686.7" cy="907.8" r="5.75" fill="#727b80"/><circle cx="1691.4" cy="711.8" r="5.75" fill="#727b80"/><circle cx="1696.2" cy="914.3" r="5.75" fill="#727b80"/><circle cx="1706" cy="720.8" r="5.75" fill="#727b80"/><circle cx="1711" cy="719.6" r="5.75" fill="#727b80"/><circle cx="1715.2" cy="710.4" r="5.75" fill="#eb8901"/><circle cx="1720.3" cy="908.4" r="5.75" fill="#727b80"/><circle cx="1725" cy="906.4" r="5.75" fill="#727b80"/><circle cx="1729.8" cy="911.2" r="5.75" fill="#727b80"/><circle cx="1739" cy="915.7" r="5.75" fill="#eb8901"/><circle cx="1743.8" cy="899.4" r="5.75" fill="#727b80"/><circle cx="1748.3" cy="714.6" r="5.75" fill="#727b80"/><circle cx="1753" cy="906.4" r="5.75" fill="#727b80"/><circle cx="1758.1" cy="921.3" r="5.75" fill="#727b80"/><circle cx="1767.6" cy="710.4" r="5.75" fill="#727b80"/><circle cx="1772.1" cy="724.4" r="5.75" fill="#727b80"/><circle cx="1776.8" cy="723" r="5.75" fill="#727b80"/><circle cx="1781.9" cy="728" r="5.75" fill="#727b80"/><circle cx="1786.6" cy="711.8" r="5.75" fill="#727b80"/><circle cx="1795.9" cy="910.6" r="5.75" fill="#727b80"/><circle cx="1800.6" cy="716" r="5.75" fill="#eb8901"/><circle cx="1805.4" cy="908.7" r="5.75" fill="#eb8901"/><circle cx="1810.4" cy="716.8" r="5.75" fill="#727b80"/><circle cx="1814.6" cy="914" r="5.75" fill="#eb8901"/><circle cx="1819.7" cy="716.8" r="5.75" fill="#727b80"/><circle cx="1824.5" cy="902.2" r="5.75" fill="#727b80"/><circle cx="1829.2" cy="912.9" r="5.75" fill="#727b80"/><circle cx="1833.7" cy="723.8" r="5.75" fill="#727b80"/><circle cx="1838.5" cy="728.6" r="5.75" fill="#727b80"/><circle cx="1843.2" cy="919.9" r="5.75" fill="#eb8901"/><circle cx="1853" cy="716.6" r="5.75" fill="#727b80"/><circle cx="1862.3" cy="709.8" r="5.75" fill="#727b80"/><circle cx="1867" cy="708.4" r="5.75" fill="#727b80"/><circle cx="1871.5" cy="907.8" r="5.75" fill="#727b80"/><circle cx="1876.3" cy="904.5" r="5.75" fill="#eb8901"/><circle cx="1881" cy="715.2" r="5.75" fill="#727b80"/><circle cx="1886.1" cy="711.2" r="5.75" fill="#727b80"/><circle cx="1891.1" cy="711.8" r="5.75" fill="#727b80"/><circle cx="1895.3" cy="719.4" r="5.75" fill="#727b80"/><circle cx="1905.1" cy="721" r="5.75" fill="#727b80"/><circle cx="1909.9" cy="897.5" r="5.75" fill="#727b80"/><circle cx="1914.6" cy="907" r="5.75" fill="#727b80"/><circle cx="1933.1" cy="720.8" r="5.75" fill="#eb8901"/><circle cx="1938.4" cy="721" r="5.75" fill="#727b80"/><circle cx="1947.7" cy="716.6" r="5.75" fill="#727b80"/><circle cx="1952.4" cy="710.4" r="5.75" fill="#727b80"/><circle cx="1956.9" cy="914.8" r="5.75" fill="#727b80"/><circle cx="1966.7" cy="913.4" r="5.75" fill="#727b80"/><circle cx="1976.2" cy="704.8" r="5.75" fill="#727b80"/><circle cx="1980.7" cy="706.2" r="5.75" fill="#727b80"/><circle cx="1985.5" cy="716" r="5.75" fill="#727b80"/><circle cx="1990.2" cy="715.2" r="5.75" fill="#727b80"/><circle cx="1995.3" cy="721" r="5.75" fill="#727b80"/><circle cx="1999.5" cy="718.8" r="5.75" fill="#eb8901"/><circle cx="1999.5" cy="917.1" r="5.75" fill="#727b80"/></g><clipPath id="cc2"><rect x="104.4" y="1325.4" width="1894.8" height="250.2"/></clipPath><line x1="151.8" y1="1329.8" x2="151.8" y2="1574.3" stroke="#231f20" stroke-width="2.1" stroke-dasharray="6.68 3.34" stroke-dashoffset="1.11"/><line x1="166" y1="1329.8" x2="166" y2="1574.3" stroke="#231f20" stroke-width="2.1" stroke-dasharray="6.68 3.34" stroke-dashoffset="1.11"/><line x1="175.5" y1="1329.8" x2="175.5" y2="1574.3" stroke="#231f20" stroke-width="2.1" stroke-dasharray="6.68 3.34" stroke-dashoffset="1.11"/><line x1="194.4" y1="1329.8" x2="194.4" y2="1574.3" stroke="#231f20" stroke-width="2.1" stroke-dasharray="6.68 3.34" stroke-dashoffset="1.11"/><line x1="232.3" y1="1329.8" x2="232.3" y2="1574.3" stroke="#231f20" stroke-width="2.1" stroke-dasharray="6.68 3.34" stroke-dashoffset="1.11"/><line x1="383.9" y1="1329.8" x2="383.9" y2="1574.3" stroke="#231f20" stroke-width="2.1" stroke-dasharray="6.68 3.34" stroke-dashoffset="1.11"/><line x1="388.6" y1="1329.8" x2="388.6" y2="1574.3" stroke="#231f20" stroke-width="2.1" stroke-dasharray="6.68 3.34" stroke-dashoffset="1.11"/><line x1="407.6" y1="1329.8" x2="407.6" y2="1574.3" stroke="#231f20" stroke-width="2.1" stroke-dasharray="6.68 3.34" stroke-dashoffset="1.11"/><line x1="417" y1="1329.8" x2="417" y2="1574.3" stroke="#231f20" stroke-width="2.1" stroke-dasharray="6.68 3.34" stroke-dashoffset="1.11"/><line x1="450.2" y1="1329.8" x2="450.2" y2="1574.3" stroke="#231f20" stroke-width="2.1" stroke-dasharray="6.68 3.34" stroke-dashoffset="1.11"/><line x1="1004.4" y1="1329.8" x2="1004.4" y2="1574.3" stroke="#231f20" stroke-width="2.1" stroke-dasharray="6.68 3.34" stroke-dashoffset="1.11"/><line x1="1028.1" y1="1329.8" x2="1028.1" y2="1574.3" stroke="#231f20" stroke-width="2.1" stroke-dasharray="6.68 3.34" stroke-dashoffset="1.11"/><line x1="1070.7" y1="1329.8" x2="1070.7" y2="1574.3" stroke="#231f20" stroke-width="2.1" stroke-dasharray="6.68 3.34" stroke-dashoffset="1.11"/><line x1="1246" y1="1329.8" x2="1246" y2="1574.3" stroke="#231f20" stroke-width="2.1" stroke-dasharray="6.68 3.34" stroke-dashoffset="1.11"/><line x1="1265" y1="1329.8" x2="1265" y2="1574.3" stroke="#231f20" stroke-width="2.1" stroke-dasharray="6.68 3.34" stroke-dashoffset="1.11"/><line x1="1388.1" y1="1329.8" x2="1388.1" y2="1574.3" stroke="#231f20" stroke-width="2.1" stroke-dasharray="6.68 3.34" stroke-dashoffset="1.11"/><line x1="1435.5" y1="1329.8" x2="1435.5" y2="1574.3" stroke="#231f20" stroke-width="2.1" stroke-dasharray="6.68 3.34" stroke-dashoffset="1.11"/><line x1="1648.7" y1="1329.8" x2="1648.7" y2="1574.3" stroke="#231f20" stroke-width="2.1" stroke-dasharray="6.68 3.34" stroke-dashoffset="1.11"/><line x1="1705.5" y1="1329.8" x2="1705.5" y2="1574.3" stroke="#231f20" stroke-width="2.1" stroke-dasharray="6.68 3.34" stroke-dashoffset="1.11"/><line x1="1724.5" y1="1329.8" x2="1724.5" y2="1574.3" stroke="#231f20" stroke-width="2.1" stroke-dasharray="6.68 3.34" stroke-dashoffset="1.11"/><line x1="1786" y1="1329.8" x2="1786" y2="1574.3" stroke="#231f20" stroke-width="2.1" stroke-dasharray="6.68 3.34" stroke-dashoffset="1.11"/><line x1="1847.6" y1="1329.8" x2="1847.6" y2="1574.3" stroke="#231f20" stroke-width="2.1" stroke-dasharray="6.68 3.34" stroke-dashoffset="1.11"/><g clip-path="url(#cc2)" fill-opacity="0.5"><circle cx="104.2" cy="1548.8" r="5.75" fill="#727b80"/><circle cx="109" cy="1369" r="5.75" fill="#727b80"/><circle cx="123" cy="1554.4" r="5.75" fill="#727b80"/><circle cx="127.4" cy="1538.4" r="5.75" fill="#727b80"/><circle cx="132.8" cy="1550.2" r="5.75" fill="#727b80"/><circle cx="137.2" cy="1348" r="5.75" fill="#727b80"/><circle cx="142" cy="1548.2" r="5.75" fill="#727b80"/><circle cx="146.8" cy="1361.2" r="5.75" fill="#727b80"/><circle cx="151.2" cy="1544" r="5.75" fill="#727b80"/><circle cx="160.8" cy="1549.6" r="5.75" fill="#727b80"/><circle cx="165.8" cy="1350.8" r="5.75" fill="#727b80"/><circle cx="175.1" cy="1554.7" r="5.75" fill="#727b80"/><circle cx="179.8" cy="1362.6" r="5.75" fill="#727b80"/><circle cx="184.6" cy="1539.3" r="5.75" fill="#727b80"/><circle cx="194.4" cy="1360" r="5.75" fill="#727b80"/><circle cx="198.9" cy="1357" r="5.75" fill="#eb8901"/><circle cx="212.9" cy="1353" r="5.75" fill="#727b80"/><circle cx="217.6" cy="1353" r="5.75" fill="#eb8901"/><circle cx="222.4" cy="1353.6" r="5.75" fill="#727b80"/><circle cx="232.2" cy="1354.2" r="5.75" fill="#727b80"/><circle cx="236.4" cy="1546.8" r="5.75" fill="#727b80"/><circle cx="241.4" cy="1550.2" r="5.75" fill="#727b80"/><circle cx="246.2" cy="1556.1" r="5.75" fill="#727b80"/><circle cx="260.2" cy="1348" r="5.75" fill="#eb8901"/><circle cx="265.2" cy="1347.2" r="5.75" fill="#727b80"/><circle cx="270" cy="1550.2" r="5.75" fill="#727b80"/><circle cx="274.5" cy="1354.2" r="5.75" fill="#727b80"/><circle cx="279.2" cy="1352.8" r="5.75" fill="#727b80"/><circle cx="284" cy="1348.6" r="5.75" fill="#eb8901"/><circle cx="289" cy="1357.2" r="5.75" fill="#727b80"/><circle cx="293.8" cy="1355.6" r="5.75" fill="#727b80"/><circle cx="298.3" cy="1348.6" r="5.75" fill="#727b80"/><circle cx="303" cy="1550.2" r="5.75" fill="#727b80"/><circle cx="307.8" cy="1357" r="5.75" fill="#727b80"/><circle cx="312.3" cy="1341.8" r="5.75" fill="#eb8901"/><circle cx="317" cy="1544.6" r="5.75" fill="#727b80"/><circle cx="321.8" cy="1543.2" r="5.75" fill="#727b80"/><circle cx="326.8" cy="1354.4" r="5.75" fill="#727b80"/><circle cx="336.1" cy="1551.9" r="5.75" fill="#727b80"/><circle cx="345.6" cy="1547.4" r="5.75" fill="#727b80"/><circle cx="354.8" cy="1353.6" r="5.75" fill="#727b80"/><circle cx="359.9" cy="1545.4" r="5.75" fill="#727b80"/><circle cx="364.6" cy="1550.5" r="5.75" fill="#727b80"/><circle cx="369.4" cy="1566.4" r="5.75" fill="#727b80"/><circle cx="373.9" cy="1546" r="5.75" fill="#727b80"/><circle cx="378.6" cy="1551" r="5.75" fill="#727b80"/><circle cx="388.4" cy="1551" r="5.75" fill="#727b80"/><circle cx="393.2" cy="1555.2" r="5.75" fill="#727b80"/><circle cx="397.7" cy="1351.4" r="5.75" fill="#727b80"/><circle cx="402.5" cy="1354.2" r="5.75" fill="#727b80"/><circle cx="417" cy="1353.6" r="5.75" fill="#eb8901"/><circle cx="421.5" cy="1550.2" r="5.75" fill="#727b80"/><circle cx="431" cy="1546" r="5.75" fill="#727b80"/><circle cx="440.3" cy="1551.6" r="5.75" fill="#727b80"/><circle cx="445.3" cy="1353" r="5.75" fill="#727b80"/><circle cx="450.1" cy="1345.2" r="5.75" fill="#727b80"/><circle cx="454.8" cy="1555.2" r="5.75" fill="#727b80"/><circle cx="469.1" cy="1551" r="5.75" fill="#727b80"/><circle cx="473.9" cy="1551.6" r="5.75" fill="#eb8901"/><circle cx="478.1" cy="1357" r="5.75" fill="#727b80"/><circle cx="483.1" cy="1547.7" r="5.75" fill="#eb8901"/><circle cx="487.9" cy="1350" r="5.75" fill="#727b80"/><circle cx="492.6" cy="1554.7" r="5.75" fill="#727b80"/><circle cx="497.1" cy="1560.8" r="5.75" fill="#727b80"/><circle cx="502.1" cy="1560" r="5.75" fill="#727b80"/><circle cx="506.6" cy="1545.4" r="5.75" fill="#727b80"/><circle cx="511.7" cy="1549.6" r="5.75" fill="#727b80"/><circle cx="516.4" cy="1553.8" r="5.75" fill="#727b80"/><circle cx="520.9" cy="1560.8" r="5.75" fill="#727b80"/><circle cx="525.7" cy="1543.5" r="5.75" fill="#eb8901"/><circle cx="544.7" cy="1558" r="5.75" fill="#727b80"/><circle cx="549.5" cy="1539" r="5.75" fill="#eb8901"/><circle cx="554.2" cy="1553" r="5.75" fill="#727b80"/><circle cx="559.3" cy="1560" r="5.75" fill="#727b80"/><circle cx="563.5" cy="1541.2" r="5.75" fill="#727b80"/><circle cx="573.3" cy="1543.5" r="5.75" fill="#727b80"/><circle cx="579.4" cy="1541.2" r="5.75" fill="#727b80"/><circle cx="587.4" cy="1561.7" r="5.75" fill="#727b80"/><circle cx="592.2" cy="1551.6" r="5.75" fill="#eb8901"/><circle cx="601.4" cy="1542.1" r="5.75" fill="#727b80"/><circle cx="606.2" cy="1550.2" r="5.75" fill="#727b80"/><circle cx="616" cy="1558" r="5.75" fill="#727b80"/><circle cx="620.8" cy="1560.8" r="5.75" fill="#727b80"/><circle cx="630" cy="1550.5" r="5.75" fill="#727b80"/><circle cx="634.8" cy="1549.1" r="5.75" fill="#727b80"/><circle cx="639.3" cy="1538.4" r="5.75" fill="#727b80"/><circle cx="649.1" cy="1549.1" r="5.75" fill="#eb8901"/><circle cx="653.8" cy="1546.8" r="5.75" fill="#727b80"/><circle cx="658.6" cy="1555.2" r="5.75" fill="#727b80"/><circle cx="663.1" cy="1551.9" r="5.75" fill="#727b80"/><circle cx="668.4" cy="1543.2" r="5.75" fill="#727b80"/><circle cx="672.9" cy="1363.4" r="5.75" fill="#727b80"/><circle cx="677.6" cy="1554.7" r="5.75" fill="#727b80"/><circle cx="682.4" cy="1545.4" r="5.75" fill="#727b80"/><circle cx="686.9" cy="1556.1" r="5.75" fill="#727b80"/><circle cx="691.6" cy="1550.2" r="5.75" fill="#eb8901"/><circle cx="696.4" cy="1543.2" r="5.75" fill="#727b80"/><circle cx="700.9" cy="1542.6" r="5.75" fill="#727b80"/><circle cx="705.6" cy="1552.4" r="5.75" fill="#727b80"/><circle cx="710.4" cy="1544.9" r="5.75" fill="#727b80"/><circle cx="715.4" cy="1543.2" r="5.75" fill="#eb8901"/><circle cx="720.2" cy="1550.2" r="5.75" fill="#727b80"/><circle cx="729.4" cy="1546" r="5.75" fill="#727b80"/><circle cx="739.2" cy="1547.4" r="5.75" fill="#eb8901"/><circle cx="744" cy="1557.5" r="5.75" fill="#727b80"/><circle cx="748.5" cy="1543.2" r="5.75" fill="#727b80"/><circle cx="753.2" cy="1535.6" r="5.75" fill="#727b80"/><circle cx="758" cy="1543.2" r="5.75" fill="#eb8901"/><circle cx="763" cy="1553.3" r="5.75" fill="#727b80"/><circle cx="767.8" cy="1543.5" r="5.75" fill="#727b80"/><circle cx="772.3" cy="1552.4" r="5.75" fill="#727b80"/><circle cx="781.8" cy="1549.1" r="5.75" fill="#727b80"/><circle cx="786.3" cy="1554.4" r="5.75" fill="#727b80"/><circle cx="791" cy="1544.9" r="5.75" fill="#727b80"/><circle cx="795.8" cy="1551" r="5.75" fill="#727b80"/><circle cx="800.8" cy="1543.5" r="5.75" fill="#727b80"/><circle cx="805.3" cy="1555.8" r="5.75" fill="#eb8901"/><circle cx="810.1" cy="1550.2" r="5.75" fill="#727b80"/><circle cx="814.8" cy="1543.2" r="5.75" fill="#727b80"/><circle cx="819.6" cy="1548.8" r="5.75" fill="#727b80"/><circle cx="828.8" cy="1546" r="5.75" fill="#727b80"/><circle cx="838.6" cy="1551.9" r="5.75" fill="#727b80"/><circle cx="843.4" cy="1536.5" r="5.75" fill="#727b80"/><circle cx="847.9" cy="1544" r="5.75" fill="#727b80"/><circle cx="852.6" cy="1553.8" r="5.75" fill="#727b80"/><circle cx="862.4" cy="1541.8" r="5.75" fill="#727b80"/><circle cx="867.2" cy="1549.1" r="5.75" fill="#727b80"/><circle cx="871.7" cy="1551" r="5.75" fill="#727b80"/><circle cx="876.5" cy="1551" r="5.75" fill="#727b80"/><circle cx="885.7" cy="1557.5" r="5.75" fill="#727b80"/><circle cx="895.5" cy="1553" r="5.75" fill="#eb8901"/><circle cx="900.3" cy="1542.6" r="5.75" fill="#727b80"/><circle cx="905" cy="1558" r="5.75" fill="#eb8901"/><circle cx="914.3" cy="1555.8" r="5.75" fill="#727b80"/><circle cx="919" cy="1549.1" r="5.75" fill="#727b80"/><circle cx="924.1" cy="1546.8" r="5.75" fill="#727b80"/><circle cx="928.8" cy="1537.6" r="5.75" fill="#727b80"/><circle cx="943.1" cy="1544.6" r="5.75" fill="#eb8901"/><circle cx="947.3" cy="1553.8" r="5.75" fill="#727b80"/><circle cx="952.1" cy="1544.9" r="5.75" fill="#eb8901"/><circle cx="961.9" cy="1551" r="5.75" fill="#727b80"/><circle cx="966.6" cy="1355" r="5.75" fill="#727b80"/><circle cx="971.1" cy="1554.4" r="5.75" fill="#727b80"/><circle cx="976.1" cy="1544.6" r="5.75" fill="#727b80"/><circle cx="985.1" cy="1548.8" r="5.75" fill="#727b80"/><circle cx="990.4" cy="1544.6" r="5.75" fill="#727b80"/><circle cx="1008.9" cy="1346.6" r="5.75" fill="#727b80"/><circle cx="1013.7" cy="1560" r="5.75" fill="#727b80"/><circle cx="1018.7" cy="1357.2" r="5.75" fill="#727b80"/><circle cx="1023.5" cy="1545.4" r="5.75" fill="#eb8901"/><circle cx="1028.2" cy="1349.4" r="5.75" fill="#727b80"/><circle cx="1032.7" cy="1362.8" r="5.75" fill="#727b80"/><circle cx="1042.2" cy="1548.8" r="5.75" fill="#eb8901"/><circle cx="1047.3" cy="1353.6" r="5.75" fill="#727b80"/><circle cx="1051.5" cy="1555.8" r="5.75" fill="#727b80"/><circle cx="1053.4" cy="1543.5" r="5.75" fill="#eb8901"/><circle cx="1061.4" cy="1555.2" r="5.75" fill="#eb8901"/><circle cx="1066.2" cy="1347.2" r="5.75" fill="#727b80"/><circle cx="1071" cy="1357.2" r="5.75" fill="#727b80"/><circle cx="1075.4" cy="1547.4" r="5.75" fill="#727b80"/><circle cx="1080.2" cy="1546.8" r="5.75" fill="#727b80"/><circle cx="1085" cy="1355" r="5.75" fill="#727b80"/><circle cx="1090" cy="1555.2" r="5.75" fill="#eb8901"/><circle cx="1094.8" cy="1354.2" r="5.75" fill="#727b80"/><circle cx="1099.2" cy="1365.6" r="5.75" fill="#727b80"/><circle cx="1104" cy="1364" r="5.75" fill="#727b80"/><circle cx="1108.8" cy="1552.4" r="5.75" fill="#727b80"/><circle cx="1113.3" cy="1353" r="5.75" fill="#727b80"/><circle cx="1118" cy="1546.8" r="5.75" fill="#727b80"/><circle cx="1127.8" cy="1552.4" r="5.75" fill="#727b80"/><circle cx="1132.6" cy="1352.2" r="5.75" fill="#727b80"/><circle cx="1137.1" cy="1543.2" r="5.75" fill="#727b80"/><circle cx="1146.6" cy="1348" r="5.75" fill="#727b80"/><circle cx="1151.6" cy="1357.2" r="5.75" fill="#727b80"/><circle cx="1156.4" cy="1344.4" r="5.75" fill="#727b80"/><circle cx="1160.9" cy="1546" r="5.75" fill="#727b80"/><circle cx="1170.4" cy="1348" r="5.75" fill="#727b80"/><circle cx="1184.4" cy="1354.4" r="5.75" fill="#727b80"/><circle cx="1194.2" cy="1557.2" r="5.75" fill="#727b80"/><circle cx="1198.7" cy="1549.1" r="5.75" fill="#727b80"/><circle cx="1203.4" cy="1352.2" r="5.75" fill="#eb8901"/><circle cx="1208.2" cy="1357.8" r="5.75" fill="#727b80"/><circle cx="1213.2" cy="1348.6" r="5.75" fill="#727b80"/><circle cx="1232" cy="1355.8" r="5.75" fill="#727b80"/><circle cx="1237" cy="1546.3" r="5.75" fill="#727b80"/><circle cx="1241.8" cy="1357" r="5.75" fill="#727b80"/><circle cx="1251" cy="1548.2" r="5.75" fill="#eb8901"/><circle cx="1255.8" cy="1348.8" r="5.75" fill="#727b80"/><circle cx="1260.3" cy="1550.5" r="5.75" fill="#eb8901"/><circle cx="1265" cy="1358.6" r="5.75" fill="#727b80"/><circle cx="1269.8" cy="1346.6" r="5.75" fill="#727b80"/><circle cx="1274.3" cy="1371.8" r="5.75" fill="#727b80"/><circle cx="1279" cy="1355" r="5.75" fill="#727b80"/><circle cx="1284.1" cy="1347.2" r="5.75" fill="#727b80"/><circle cx="1288.8" cy="1352.8" r="5.75" fill="#727b80"/><circle cx="1293.6" cy="1355.8" r="5.75" fill="#727b80"/><circle cx="1298.1" cy="1553.3" r="5.75" fill="#727b80"/><circle cx="1302.8" cy="1359.2" r="5.75" fill="#727b80"/><circle cx="1307.9" cy="1348.6" r="5.75" fill="#727b80"/><circle cx="1317.4" cy="1347.2" r="5.75" fill="#727b80"/><circle cx="1321.9" cy="1354.4" r="5.75" fill="#727b80"/><circle cx="1331.7" cy="1355.8" r="5.75" fill="#727b80"/><circle cx="1336.4" cy="1357" r="5.75" fill="#727b80"/><circle cx="1345.7" cy="1357" r="5.75" fill="#727b80"/><circle cx="1350.5" cy="1356.4" r="5.75" fill="#727b80"/><circle cx="1355.2" cy="1548.2" r="5.75" fill="#eb8901"/><circle cx="1359.7" cy="1546.8" r="5.75" fill="#727b80"/><circle cx="1364.5" cy="1355.6" r="5.75" fill="#727b80"/><circle cx="1369.5" cy="1555.2" r="5.75" fill="#727b80"/><circle cx="1383.5" cy="1555.2" r="5.75" fill="#727b80"/><circle cx="1388.3" cy="1551.9" r="5.75" fill="#727b80"/><circle cx="1393" cy="1532.8" r="5.75" fill="#727b80"/><circle cx="1397.5" cy="1361.2" r="5.75" fill="#727b80"/><circle cx="1402.3" cy="1341.8" r="5.75" fill="#eb8901"/><circle cx="1412.1" cy="1541.2" r="5.75" fill="#727b80"/><circle cx="1417.1" cy="1553.8" r="5.75" fill="#eb8901"/><circle cx="1426.1" cy="1551.6" r="5.75" fill="#727b80"/><circle cx="1431.1" cy="1556.6" r="5.75" fill="#727b80"/><circle cx="1435.9" cy="1552.4" r="5.75" fill="#727b80"/><circle cx="1440.6" cy="1560.8" r="5.75" fill="#727b80"/><circle cx="1445.1" cy="1549.1" r="5.75" fill="#727b80"/><circle cx="1454.6" cy="1548.8" r="5.75" fill="#727b80"/><circle cx="1459.7" cy="1550.2" r="5.75" fill="#727b80"/><circle cx="1464.4" cy="1544.9" r="5.75" fill="#727b80"/><circle cx="1468.9" cy="1553.3" r="5.75" fill="#727b80"/><circle cx="1473.7" cy="1553.8" r="5.75" fill="#727b80"/><circle cx="1482.9" cy="1547.4" r="5.75" fill="#727b80"/><circle cx="1487.7" cy="1547.4" r="5.75" fill="#727b80"/><circle cx="1497.5" cy="1551.9" r="5.75" fill="#eb8901"/><circle cx="1502.2" cy="1548.2" r="5.75" fill="#727b80"/><circle cx="1506.7" cy="1550.2" r="5.75" fill="#727b80"/><circle cx="1511.5" cy="1541.2" r="5.75" fill="#eb8901"/><circle cx="1516.2" cy="1544.9" r="5.75" fill="#727b80"/><circle cx="1521.3" cy="1550.2" r="5.75" fill="#eb8901"/><circle cx="1526.9" cy="1354.2" r="5.75" fill="#727b80"/><circle cx="1535.4" cy="1535.6" r="5.75" fill="#727b80"/><circle cx="1540.2" cy="1547.4" r="5.75" fill="#727b80"/><circle cx="1545" cy="1554.4" r="5.75" fill="#727b80"/><circle cx="1554.2" cy="1550.2" r="5.75" fill="#727b80"/><circle cx="1563.4" cy="1548.2" r="5.75" fill="#727b80"/><circle cx="1568.2" cy="1549.6" r="5.75" fill="#727b80"/><circle cx="1573.2" cy="1551.9" r="5.75" fill="#727b80"/><circle cx="1578" cy="1555.2" r="5.75" fill="#eb8901"/><circle cx="1582.8" cy="1552.4" r="5.75" fill="#727b80"/><circle cx="1587.3" cy="1559.4" r="5.75" fill="#727b80"/><circle cx="1597.1" cy="1556.1" r="5.75" fill="#727b80"/><circle cx="1601.8" cy="1547.4" r="5.75" fill="#727b80"/><circle cx="1606.6" cy="1549.1" r="5.75" fill="#727b80"/><circle cx="1611.1" cy="1544.6" r="5.75" fill="#727b80"/><circle cx="1615.8" cy="1561.7" r="5.75" fill="#727b80"/><circle cx="1620.6" cy="1545.4" r="5.75" fill="#eb8901"/><circle cx="1625.6" cy="1562.2" r="5.75" fill="#727b80"/><circle cx="1634.6" cy="1551" r="5.75" fill="#eb8901"/><circle cx="1639.6" cy="1547.7" r="5.75" fill="#eb8901"/><circle cx="1644.4" cy="1547.7" r="5.75" fill="#eb8901"/><circle cx="1648.9" cy="1540.7" r="5.75" fill="#727b80"/><circle cx="1653.6" cy="1361.2" r="5.75" fill="#727b80"/><circle cx="1658.4" cy="1346" r="5.75" fill="#727b80"/><circle cx="1667.6" cy="1366.8" r="5.75" fill="#727b80"/><circle cx="1672.7" cy="1356.4" r="5.75" fill="#727b80"/><circle cx="1682.2" cy="1343.8" r="5.75" fill="#727b80"/><circle cx="1687.2" cy="1347.2" r="5.75" fill="#727b80"/><circle cx="1691.4" cy="1355.8" r="5.75" fill="#727b80"/><circle cx="1696.2" cy="1362.8" r="5.75" fill="#727b80"/><circle cx="1701.2" cy="1348.8" r="5.75" fill="#727b80"/><circle cx="1706" cy="1355" r="5.75" fill="#727b80"/><circle cx="1715.2" cy="1351.6" r="5.75" fill="#727b80"/><circle cx="1720.3" cy="1360" r="5.75" fill="#727b80"/><circle cx="1725" cy="1554.7" r="5.75" fill="#eb8901"/><circle cx="1734.3" cy="1357.2" r="5.75" fill="#727b80"/><circle cx="1739" cy="1551" r="5.75" fill="#eb8901"/><circle cx="1743.8" cy="1345.8" r="5.75" fill="#727b80"/><circle cx="1748.3" cy="1549.1" r="5.75" fill="#727b80"/><circle cx="1753" cy="1543.5" r="5.75" fill="#eb8901"/><circle cx="1758.1" cy="1345.8" r="5.75" fill="#727b80"/><circle cx="1762.8" cy="1358.6" r="5.75" fill="#727b80"/><circle cx="1767.6" cy="1551" r="5.75" fill="#727b80"/><circle cx="1772.1" cy="1546.8" r="5.75" fill="#eb8901"/><circle cx="1776.8" cy="1544" r="5.75" fill="#eb8901"/><circle cx="1781.9" cy="1355" r="5.75" fill="#727b80"/><circle cx="1786.1" cy="1550.2" r="5.75" fill="#727b80"/><circle cx="1791.4" cy="1553" r="5.75" fill="#727b80"/><circle cx="1795.9" cy="1561.7" r="5.75" fill="#727b80"/><circle cx="1800.6" cy="1546.8" r="5.75" fill="#727b80"/><circle cx="1810.4" cy="1557.2" r="5.75" fill="#727b80"/><circle cx="1814.6" cy="1553.3" r="5.75" fill="#727b80"/><circle cx="1824.5" cy="1545.4" r="5.75" fill="#727b80"/><circle cx="1829.2" cy="1542.1" r="5.75" fill="#727b80"/><circle cx="1833.7" cy="1557.2" r="5.75" fill="#727b80"/><circle cx="1838.5" cy="1544.6" r="5.75" fill="#727b80"/><circle cx="1848.3" cy="1553" r="5.75" fill="#727b80"/><circle cx="1853" cy="1553.8" r="5.75" fill="#727b80"/><circle cx="1857.5" cy="1551.9" r="5.75" fill="#727b80"/><circle cx="1867" cy="1543.5" r="5.75" fill="#727b80"/><circle cx="1871.5" cy="1553.3" r="5.75" fill="#727b80"/><circle cx="1876.3" cy="1539.8" r="5.75" fill="#eb8901"/><circle cx="1881.3" cy="1347.2" r="5.75" fill="#727b80"/><circle cx="1886.1" cy="1548.8" r="5.75" fill="#727b80"/><circle cx="1909.9" cy="1544.9" r="5.75" fill="#eb8901"/><circle cx="1914.6" cy="1557.2" r="5.75" fill="#727b80"/><circle cx="1919.1" cy="1558.6" r="5.75" fill="#727b80"/><circle cx="1923.9" cy="1548.8" r="5.75" fill="#727b80"/><circle cx="1928.6" cy="1543.5" r="5.75" fill="#727b80"/><circle cx="1933.7" cy="1540.7" r="5.75" fill="#727b80"/><circle cx="1938.4" cy="1359.8" r="5.75" fill="#727b80"/><circle cx="1942.9" cy="1554.4" r="5.75" fill="#727b80"/><circle cx="1952.4" cy="1541.8" r="5.75" fill="#727b80"/><circle cx="1956.9" cy="1553.3" r="5.75" fill="#727b80"/><circle cx="1961.7" cy="1568.4" r="5.75" fill="#727b80"/><circle cx="1966.7" cy="1550.2" r="5.75" fill="#727b80"/><circle cx="1971.5" cy="1547.4" r="5.75" fill="#727b80"/><circle cx="1976.2" cy="1549.1" r="5.75" fill="#727b80"/><circle cx="1980.7" cy="1550.2" r="5.75" fill="#727b80"/><circle cx="1985.5" cy="1537.6" r="5.75" fill="#727b80"/><circle cx="1990.2" cy="1556.1" r="5.75" fill="#727b80"/></g><clipPath id="pc0"><rect x="104.4" y="367.3" width="1894.8" height="254.1"/></clipPath><polyline clip-path="url(#pc0)" points="103.4,609.2 106.2,609.2 109.8,575.6 116.8,568.6 123.8,570 130.8,572.8 136.4,577 142,581.2 150.4,584 156,592.4 161.6,603.6 170,610.6 178.4,609.2 186.8,608.7 195.2,609.2 203.6,605 209.2,599.4 214.8,596.6 222.4,589.6 227.4,591 235.8,591.9 242.8,597.5 251.2,603.6 256.8,605.9 263.8,603.1 269.4,598 272.2,586.8 275,575.6 279.2,572.8 284.8,584 290.4,595.2 296,600.8 301.6,600.8 307.2,596.6 312.8,586.8 318.4,570 324,544.8 328.2,528 332.4,512.6 336.6,504.2 340.8,501.4 346.4,508.4 354.8,509.8 360.4,512.6 366,516.8 370.2,521.9 374.4,521 377.2,542 380,567.2 382.8,584 388.4,589.6 396.8,592.4 402.5,595.2 406.7,603.6 412.3,605 419.3,606.4 424.9,610.1 431.9,609.2 436.1,607.8 440.3,605 444.5,609.2 452.9,611.2 464.1,613.4 478.1,614.8 492.1,614 503.3,612.9 511.7,611.5 520.1,613.4 531.3,613.4 542.5,613.4 553.7,613.7 564.9,613.4 576.1,613.4 580,612 582.4,612 590.8,612 602,612.9 610.4,613.4 616,613.4 621.6,607.8 627.2,598 632.8,591 638.4,586.8 646.8,584 655.2,582.6 662.2,579.8 669.2,577 673.4,567.2 677.6,553.2 681.8,549.9 686,549.6 690.2,553.2 693,561.6 695.8,572.8 700,584 704.2,595.2 708.4,605 714,610.1 722.4,612 730.8,613.4 739.2,614.3 747.6,610.6 754.6,607.8 760.2,607.8 765.8,605 770,600.8 774.2,596.6 778.4,595.2 784,598 789.6,599.4 795.2,600.8 800.8,602.2 807.8,601.7 814.8,599.4 820.4,596.6 826,596.1 831.6,596.6 837.2,598 842.8,598.9 847,593.8 851.2,588.2 854,570 856.8,553.2 859.6,546.2 862.4,540.6 865.2,546.2 868,558.8 870.8,572.8 875.1,577 879.3,579.8 883.5,582.6 887.7,591 891.9,597.5 897.5,600 904.5,600.3 914.3,600 921.3,601.4 929.7,602.2 938.1,605 946.5,607.8 957.7,610.1 966.1,611.2 974.5,606.4 980.1,602.2 988.5,605 996.9,606.4 1005.3,607.8 1016.5,607.8 1027.7,607.8 1038.9,608.1 1054,607.3 1056.4,607 1064.8,606.4 1076,605 1084.4,603.6 1092.8,602.2 1099.8,600.3 1105.4,597.5 1109.6,594.7 1113,592.4 1116.6,600.8 1122.2,603.6 1132,604.5 1140.4,606.4 1148.8,607.8 1153,609.2 1157.2,612 1168.4,612 1182.4,612.9 1199.2,613.4 1216,613.4 1232.8,613.4 1246.3,613.4 1249.6,610.6 1255.2,606.4 1260.8,603.6 1269.2,602.2 1277.6,603.1 1284.6,603.6 1291.6,603.6 1297.2,603.1 1301.4,599.4 1305.6,593.8 1311.2,588.2 1316.8,584 1321,589.6 1325.2,595.2 1329.4,600.8 1333.6,606.4 1337.8,609.2 1344.8,608.7 1353.3,607.8 1358.9,609.2 1364.5,611.5 1370.1,609.2 1374.3,607.8 1379.9,603.6 1384.1,605 1388.3,607.8 1393.9,607.8 1398.1,607 1406.5,609.2 1417.7,612 1428.9,610.6 1437.3,609.2 1442.9,607.8 1448.5,611.5 1456.9,612.6 1465.3,611.5 1473.7,610.6 1482.1,610.1 1490.5,610.6 1498.9,613.4 1507.3,612.9 1515.7,610.6 1528,610.6 1530.4,610.6 1538.8,611.5 1550,613.4 1558.4,610.6 1566.8,607.8 1575.2,605.9 1583.6,604.5 1592,602.2 1595.4,584 1599,582.6 1603.2,587.4 1608.8,592.4 1614.4,597.5 1620,602.2 1625.6,605.9 1634,608.7 1642.4,611.5 1649.4,614.3 1656.4,612.9 1664.8,610.6 1673.2,607.8 1681.6,606.4 1690,607.8 1695.6,605.9 1699.8,602.2 1704,607.8 1712.4,610.6 1720.8,612.9 1729.2,614.3 1737.6,614.3 1746,613.4 1754.4,610.1 1761.4,605 1767,601.4 1772.6,604.2 1779.6,606.4 1786.6,600.8 1792.2,599.4 1797.8,589.6 1802,586.8 1807.6,584 1811.8,578.4 1816,572.8 1820.2,565.8 1824.5,558.8 1828.7,553.2 1832.9,556 1837.1,567.2 1841.3,584 1846.9,595.2 1852.5,601.4 1858.1,605 1866.5,609.2 1876.3,613.4 1886.1,612.6 1897.3,612 1908.5,612 1919.7,612.6 1930.9,612.9 1942.1,613.4 1953.3,614.3 1964.5,614.3 1975.7,613.4 1986.9,613.4 1995.3,612 2002,610.6" fill="none" stroke="#345aa8" stroke-width="3.9" stroke-linejoin="round"/><polyline clip-path="url(#pc0)" points="103.4,474.8 106.2,474.8 112.6,556 118.2,588.2 123,596.6 128,581.2 136.4,550.4 144.8,528 151.2,511.2 157.4,480.4 164.4,460.8 170.6,445.4 175.6,455.2 180.7,476.2 185.4,474.8 194.4,460.8 199.4,474.8 205,505.6 210.6,528 217.6,558.8 222.4,561.6 228.8,542 234.4,525.2 240,505.6 245.6,486 251.2,472 256,473.4 261,491.6 266.6,516.8 270.8,533.6 274.2,586.8 279.2,584 284.8,542 288.2,519.6 293.2,494.4 298.8,490.2 303.6,483.2 308.6,500 314.2,525.2 321.2,550.4 326.8,575.6 332.4,595.2 336.6,607.8 340.8,606.4 345,591 350.6,588.2 354.8,586.8 359,586.8 363.2,593.8 368.8,594.7 372.2,600.8 374.4,609.2 377.2,578.4 380,542 382.8,521 388.4,519.6 392.6,514 396.8,508.4 401.1,508.4 407.5,497.2 410.9,505.6 415.1,522.4 417.9,536.4 422.1,535 426.3,542 431.9,542 436.1,564.4 440.3,575.6 445.9,556 451.5,543.4 458.5,543.4 464.1,521 468.3,521 472.5,500 478.1,472 483.1,444 487.9,449.6 493.5,451 497.7,470.6 502.7,474.8 506.1,491.6 511.1,522.4 515.9,518.2 521.5,521 525.7,505.6 530.4,487.4 535.5,488.8 540.2,477.6 545.3,460.8 549.5,467.8 555.1,458 559.3,448.2 563.5,437 568.2,444 573.3,441.2 578.9,449.6 583.8,442.6 589.4,431.4 596.4,421.6 602,417.4 607.6,414.6 616,415.4 620.2,435.6 624.4,458 630,486 634.2,495.8 639.8,502.8 645.4,515.4 651,528 656.6,539.2 663.6,553.2 669.2,568.6 673.4,584 676.2,603.6 678.2,613.4 681.8,614.3 686,613.4 691.6,603.6 697.2,528 702.8,480.4 705.6,469.2 709.8,459.4 714,463.6 719.6,465 725.2,477.6 729.4,479 734.2,469.2 739.2,456.6 743.4,466.4 748.2,484.6 753.2,483.2 757.4,480.4 761.6,488.8 765.8,502.8 770,525.2 774.2,550.4 777,577 781.2,581.2 786.3,581.2 791,591 795.2,586.8 800.3,584 805,588.2 810.6,589.6 814.8,598 820.4,598 824.6,600.8 828.8,567.2 834.4,556 839.5,536.4 843.4,523.8 847,533.6 851.2,539.2 855.4,570 858.2,595.2 862.4,609.2 866.6,584 870.8,561.6 875.1,561.6 879.3,567.2 884.9,550.4 890.5,539.2 896.1,544.8 900.3,551.8 904.5,549 909.5,550.4 914.3,530.8 919.9,511.2 925.5,486 931.1,460.8 935.3,446.8 940.9,435.6 946.5,427.2 952.1,420.2 959.1,416.8 964.7,417.4 968.9,420.2 974.5,438.4 980.6,457.5 985.7,451 991.3,445.4 996.9,441.2 1002.5,438.4 1008.1,434.2 1013.7,430 1019.3,431.4 1024.9,435.6 1030.5,437.9 1036.1,438.4 1041.7,441.2 1047.3,445.4 1051.5,452.4 1054,459.4 1056.4,462.2 1062,470.6 1066.2,476.2 1070.4,484.6 1076,497.2 1081.6,509.8 1087.2,522.4 1092.8,533.6 1098.4,546.2 1102.6,558.8 1106.8,575.6 1111,595.2 1113.8,609.2 1116.6,584 1119.4,564.4 1122.2,547.6 1126.4,537.8 1132,525.2 1137.6,514 1144.6,502.8 1148.8,500 1152.2,497.2 1155.8,469.2 1160,459.4 1164.2,455.2 1168.4,446.8 1174,437 1179.6,428.6 1185.2,420.2 1190.8,414.6 1197.8,411 1204.8,409.8 1213.2,409.8 1218.8,411.8 1224.4,413.2 1231.4,414.6 1237,417.4 1241.2,420.2 1246.8,423 1249.6,438.4 1255.2,458 1260.8,466.4 1265,476.2 1270.6,486 1276.2,491.6 1280.4,494.4 1286,502.8 1290.2,512.6 1294.4,516.8 1298.6,525.2 1301.4,536.4 1305.6,553.2 1309.8,567.2 1314,584 1317.4,607.8 1321,578.4 1325.2,547.6 1330.8,525.2 1336.4,509.8 1340.6,514 1344.8,516.8 1350.5,519.6 1356.1,525.2 1360.3,515.4 1365,508.4 1369.5,522.4 1374.3,542 1379,574.2 1384.1,553.2 1388.3,544.8 1392.5,553.2 1398.1,570 1403.7,558.8 1409.3,533.6 1413.5,516.8 1417.1,507 1420.5,511.2 1424.7,525.2 1429.4,544.8 1435,568.6 1440.1,567.2 1445.7,553.2 1451.3,553.2 1455.5,557.4 1459.7,554.6 1464.4,570 1469.5,568.6 1473.7,567.2 1477.9,561.6 1482.1,542 1487.7,522.4 1493.3,488.8 1497.5,466.4 1501.7,446.8 1507.3,452.4 1512.9,446.8 1518.5,439.8 1522.7,432.8 1528,425.8 1533.2,422.2 1540.2,423 1545.8,426.7 1550,427.2 1554.2,438.4 1558.4,449.6 1564,458 1569.6,472 1575.2,487.4 1580.8,502.8 1586.4,516.8 1590.6,530.8 1593.4,550.4 1595.4,572.8 1597.1,599.4 1599,581.2 1601.8,556 1606,530.8 1611.6,508.4 1617.2,486 1622.8,466.4 1628.4,451 1634,442.6 1639.6,438.4 1645.2,432.8 1649.4,424.4 1653.6,438.4 1657.8,458 1662,480.4 1666.2,500 1670.4,522.4 1674.6,539.2 1677.4,546.2 1681.6,536.4 1687.2,539.2 1692,532.2 1695.6,544.8 1701.2,558.8 1705.4,543.4 1711,543.4 1715.2,549 1720.8,546.2 1726.4,550.4 1734.8,557.4 1739,542 1743.2,540.6 1748.3,519.1 1753,523.8 1757.2,536.4 1762.8,553.2 1768.4,559.4 1772.6,556 1776.8,542 1781,544.8 1786.6,541.5 1790.8,543.4 1795,561.6 1800.6,575.6 1804.8,564.4 1809,568.6 1814.6,567.2 1818.8,568.6 1824.5,575.6 1828.7,589.1 1832.9,578.4 1837.1,542 1839.9,511.2 1842.7,488.8 1846.9,466.4 1852.5,444 1858.1,428.6 1863.7,418.8 1869.3,413.2 1876.3,408.2 1881.9,424.4 1886.1,444 1890.3,456.6 1894.5,459.4 1898.7,446.8 1904.3,434.2 1911.3,416 1916.9,410.4 1922.5,406.2 1930.9,403.4 1939.3,404.8 1947.7,404.2 1956.1,403.4 1963.1,402 1971.5,401.4 1977.1,418.8 1982.7,427.2 1989.7,435.6 1993.9,452.4 1998.1,472 2002,483.2" fill="none" stroke="#d01c32" stroke-width="3.9" stroke-linejoin="round"/><polyline clip-path="url(#pc0)" points="103.4,600.8 106.2,600.8 109.8,550.4 114,528 118.2,516.8 123,507 128,511.2 133,514 137.8,526.6 142,529.4 146.2,539.2 151.8,553.2 156.8,563 161.1,556 165.8,561.6 170.6,567.2 175.6,556 180.7,536.4 185.4,539.2 189.6,550.4 194.4,559.4 199.4,550.4 205,528 209.2,511.2 213.4,494.4 218.2,479 223.2,484.6 228.3,490.2 233,505.6 238.6,525.2 242.8,536.4 247,553.2 251.2,561.1 255.4,553.2 261,533.6 265.2,509.8 270,508.4 275,491.6 280.6,494.4 284.8,498.6 289,511.2 293.8,536.4 298.8,540.6 303.6,551.8 308.6,547.6 314.2,539.2 319.8,530.8 325.4,527.5 331,529.4 336.6,532.2 341.4,536.4 346.4,542 350.6,542 355.4,547.6 360.4,556 364.6,567.2 368.8,564.4 373,556 377.2,542 382.8,535 388.4,528 392.6,535 398.2,544.8 402.5,549 408.1,544.8 412.3,528 416.5,500 422.1,486 427.1,472 430.5,473.4 435.5,456.6 440.3,455.2 445,465 450.1,469.2 455.1,465 459.9,458 464.1,477.6 469.1,477.6 473.9,500 478.1,525.2 483.1,551.8 487.9,546.2 492.9,549 497.7,533.6 502.7,528 507.5,498.6 511.1,479 515.9,479 520.9,473.4 525.7,486 530.4,508.4 535.5,505.6 539.7,516.8 545.3,536.4 549.5,530.8 553.7,539.2 559.3,556 563.5,565.8 568.2,558.8 573.3,563 578.9,553.2 583.8,558.8 589.4,572.8 596.4,584 603.4,592.4 610.4,598 616,600.3 620.2,586.8 624.4,570 630,570 635.6,578.4 642.6,589.6 649.6,598 658,605 666.4,610.1 673.4,612.9 679,614.3 686,613.4 691.6,606.4 695.8,584 700,579.8 705.6,574.2 711.2,571.4 715.4,556 719.6,544.8 725.2,528 729.4,521 735,528 739.2,540.6 743.4,533.6 749,519.6 753.2,527.5 757.4,530.8 761.6,522.4 765.8,511.2 770,491.6 774.2,472 778.4,453.8 782.6,451 786.8,444 791,435.1 795.2,435.1 800.8,435.6 805,433.4 810.1,432.8 814.8,430 819,434.2 824.6,434.2 828.8,460.8 834.4,467.8 838.6,486 843.4,515.4 848.4,522.4 852.6,539.2 856.8,550.4 862.4,553.2 866.6,550.4 870.8,533.6 875.1,522.4 880.7,507 884.9,504.2 890.5,494.4 896.1,483.2 900.3,472 905,467.8 909.5,463.6 914.3,483.2 919.9,500 925.5,525.2 929.7,544.8 933.9,565.8 938.1,572.8 943.7,581.2 949.3,588.2 954.9,593.8 961.9,598 966.1,599.4 971.7,584 977.3,575.6 984.3,574.2 988.5,577 994.1,574.2 999.7,577 1005.3,584 1010.9,589.6 1016.5,594.7 1022.1,597.5 1033.3,600.8 1044.5,603.1 1054,603.1 1062,603.1 1076,604.2 1090,605 1104,605.9 1112.4,605.9 1116.6,600.8 1120.8,591 1126.4,586.3 1132,587.4 1137.6,589.6 1144.6,592.4 1151.6,593 1157.2,587.4 1161.4,575.6 1165.6,572.3 1171.2,577 1178.2,584 1185.2,591 1193.6,596.6 1204.8,598.9 1216,599.4 1227.2,600 1238.4,601.4 1246.3,601.4 1249.6,591 1255.2,586.8 1260.8,590.2 1266.4,594.7 1272,599.4 1280.4,603.6 1288.8,607 1294.4,603.6 1298.6,599.4 1302.8,591 1308.4,589.6 1314,592.4 1318.2,593 1322.4,589.6 1328,591 1333.6,592.4 1337,593.3 1340.6,584 1346.2,582.6 1353.3,584 1358.9,581.2 1364.5,579.8 1368.7,564.4 1372.9,550.4 1377.1,528 1381.3,516.8 1385.5,511.2 1389.7,497.2 1393.9,477.6 1398.1,462.2 1402.3,459.4 1406.5,472 1410.7,491.6 1413.5,500 1417.1,505.6 1420.5,500 1424.7,486 1429.4,465 1435,439.8 1440.1,442.6 1445.1,449.6 1449.9,448.2 1454.6,438.4 1459.1,445.4 1464.4,433.4 1469.5,434.2 1473.7,435.1 1478.4,438.4 1483.5,458 1487.7,477.6 1493.3,502.8 1497.5,525.2 1501.7,550.4 1505.9,546.2 1510.1,553.2 1514.3,564.4 1518.5,574.2 1524.1,584 1528,589.6 1530.4,592.4 1534.6,595.2 1538.8,592.4 1544.4,590.2 1550,591 1554.2,581.2 1558.4,577 1562.6,578.4 1568.2,584 1573.8,589.6 1579.4,592.4 1585,592.4 1590.6,589.6 1594.8,572.8 1597.6,568.6 1601.8,570.6 1606,577 1611.6,584 1617.2,591 1622.8,596.6 1628.4,598.9 1634,600 1638.2,600.3 1642.4,594.7 1648,593.3 1652.2,581.2 1656.4,561.6 1660.6,539.2 1664.8,516.8 1669,494.4 1673.2,474.8 1677.4,464.2 1681.6,469.8 1687.2,465.9 1692,475.4 1697,466.4 1701.2,459.4 1705.4,462.2 1709.6,458 1714.7,449.6 1719.4,449.1 1725,444 1729.8,439.8 1734.3,435.1 1737.6,449.6 1741.8,452.4 1744.6,455.2 1748.3,477.6 1753,479 1757.2,470.6 1762.8,459.4 1767,456.6 1772.1,454.7 1775.4,466.4 1779.6,467.8 1783.8,473.4 1786.6,483.2 1790.8,484.6 1795,474.8 1800.6,470.6 1804.8,477.6 1809,483.2 1813.2,494.4 1817.4,514 1821.6,533.6 1825.9,550.4 1830.1,556 1834.3,558.8 1838.5,561.6 1842.7,567.2 1846.9,575.6 1852.5,584 1858.1,589.6 1865.1,595.2 1872.1,598 1877.7,599.4 1883.3,572.8 1888.9,542 1894.5,540.6 1898.7,550.4 1904.3,561.6 1909.9,575.6 1915.5,586.8 1922.5,595.2 1929.5,598.6 1935.1,595.2 1942.1,592.4 1950.5,594.7 1958.9,597.5 1967.3,598.6 1971.5,598.9 1975.7,581.2 1979.9,575.6 1985.5,574.2 1990.2,572.3 1995.3,544.8 1999.5,528 2002,519.6" fill="none" stroke="#7678b0" stroke-width="3.9" stroke-linejoin="round"/><polyline clip-path="url(#pc0)" points="103.4,547.6 106.2,547.6 111.2,544.8 117.4,543.4 122.4,547.6 128,558.8 133.6,567.2 139.2,571.4 143.4,575.6 147.6,574.2 152.6,572.8 156,581.2 160.2,591 165.8,593.8 172.8,594.7 181.2,596.6 186.8,594.7 192.4,591 196.6,587.4 203.6,586.3 212,587.4 217.6,588.2 223.2,585.4 227.4,588.2 231.6,585.4 236.4,579.8 241.4,583.5 246.2,581.8 251.2,585.4 256.8,588.2 263.8,588.2 268,584 272.2,572.8 275,567.2 279.2,567.8 282.6,581.2 287.6,585.4 294.6,586.3 298.8,588.2 304.4,584 311.4,581.2 318.4,579.8 325.4,578.4 332.4,576.2 339.4,575.1 345,577 350.6,581.2 356.2,575.6 360.4,561.6 364.6,544.8 370.2,539.2 375.8,537.8 378.6,561.6 382.8,575.6 388.4,579.8 394,575.6 398.2,571.4 402.5,567.2 408.1,572.8 413.7,577 419.3,581.2 424.9,593.8 430.5,595.2 436.1,591.9 440.3,584 445.9,591 452.9,598 461.3,606.4 469.7,609.2 478.1,609.2 486.5,608.7 492.1,605.9 497.7,605 503.3,605.9 511.7,606.4 517.3,610.6 522.9,612.9 531.3,612 542.5,609.2 553.7,605.9 564.9,603.1 573.3,603.6 580,605 582.4,605 590.8,604.5 599.2,602.2 607.6,598 616,592.4 623,584 628.6,577 634.2,561.6 639.8,542 645.4,525.2 651,508.4 656.6,494.4 662.2,480.4 667.8,463.6 673.4,446.8 677.6,437.9 683.2,439.8 687.4,444 691.6,458 694.4,486 697.2,528 701.4,556 707,572.8 714,584 719.6,595.2 725.2,603.6 730.8,607.8 739.2,607.8 744.8,606.4 750.4,603.6 756,599.4 761.6,599.4 767.2,598 772.8,595.2 778.4,592.4 784,593.3 789.6,595.2 795.2,596.6 800.8,597.5 806.4,597.5 812,596.6 817.6,593.8 823.2,591 827.4,592.4 831.6,595.2 835.8,595.2 840,589.6 844.2,581.2 848.4,567.2 852.6,542 856.8,525.2 861.9,516.8 865.2,525.2 869.4,544.8 875.1,556 880.7,567.2 884.9,575.6 889.1,586.8 893.3,595.2 898.9,600.8 904.5,603.6 910.1,605.9 915.7,605.9 921.3,607 926.9,603.6 932.5,600.8 938.1,602.2 943.7,602.2 950.7,600.8 957.7,598 963.3,593.8 968.9,589.6 974.5,588.2 980.1,585.4 985.7,591 991.3,591.9 996.9,598 1002.5,597.5 1010.9,593.8 1019.3,586.8 1027.7,578.4 1036.1,574.2 1044.5,567.2 1050.1,561.6 1054,553.2 1059.2,544.8 1066.2,533.6 1073.2,519.6 1080.2,502.8 1087.2,488.8 1094.2,474.8 1099.8,460.8 1105.4,442.6 1109.6,424.4 1113,411.8 1116.6,432.8 1120.8,460.8 1123.6,483.2 1129.2,494.4 1134.8,502.8 1140.4,511.2 1146,516.8 1151.6,521 1154.4,539.2 1158.6,558.8 1162.8,572.8 1168.4,581.2 1176.8,588.2 1185.2,593.8 1193.6,597.5 1204.8,598.6 1216,598 1227.2,594.7 1235.6,591 1244,585.4 1251,578.4 1258,567.2 1265,553.2 1272,539.2 1280.4,522.4 1288.8,498.6 1294.4,494.4 1301.4,481.8 1307,469.2 1312.6,449.6 1317.4,435.6 1321,452.4 1325.2,472 1329.4,487.4 1333.6,500 1337.8,509.8 1342,512.6 1347.6,511.2 1351.9,507 1355.5,503.4 1360.3,514 1364.5,519.6 1370.1,521 1374.3,522.4 1379,525.2 1384.1,542 1388.3,561.6 1393.9,572.8 1398.1,578.4 1402.3,591 1406.5,592.4 1412.1,592.4 1417.7,596.6 1423.3,599.4 1428.9,601.4 1435.9,603.1 1441.5,602.2 1447.1,605.9 1452.7,607.8 1459.7,607.8 1465.3,605.9 1470.9,607 1479.3,607.8 1484.9,608.7 1489.1,607 1493.3,609.8 1500.3,610.1 1507.3,609.2 1512.9,605.9 1518.5,601.4 1524.1,598 1528,595.2 1534.6,591 1541.6,589.6 1548.6,588.2 1554.2,586.8 1559.8,578.4 1565.4,567.2 1571,553.2 1576.6,536.4 1582.2,519.6 1587.8,502.8 1593.4,483.2 1597.1,469.2 1600.4,500 1604.6,522.4 1610.2,536.4 1617.2,549 1622.8,557.4 1628.4,564.4 1634,569.5 1639.6,571.4 1643.8,581.2 1649.4,588.2 1655,591 1662,593.8 1669,596.6 1676,600.8 1681.6,603.6 1687.2,606.4 1691.4,605.9 1695.6,603.1 1699.8,600.8 1704,605.9 1711,609.2 1719.4,612 1727.8,613.4 1734.8,614.3 1743.2,613.4 1751.6,610.6 1758.6,607 1765.6,603.6 1772.6,602.2 1779.6,599.4 1785.2,593.8 1790.8,590.2 1797.8,586.3 1804.8,586.3 1810.4,582.6 1816,570 1820.2,556 1824.5,539.2 1829.2,523 1832.9,528 1835.7,544.8 1838.5,561.6 1842.7,578.4 1848.3,588.2 1855.3,593 1863.7,595.2 1872.1,598 1880.5,602.2 1888.9,607.8 1897.3,608.7 1905.7,607.8 1914.1,606.4 1922.5,605.9 1930.9,605 1936.5,607.8 1944.9,607.8 1953.3,606.4 1961.7,605.9 1970.1,605.9 1978.5,603.6 1986.9,599.4 1992.5,595.2 1995.3,591.9 1999.5,593 2002,595.2" fill="none" stroke="#c88490" stroke-width="3.9" stroke-linejoin="round"/><clipPath id="pc1"><rect x="104.4" y="1005.8" width="1894.8" height="254.1"/></clipPath><polyline clip-path="url(#pc1)" points="103.4,1191.2 105.6,1191.2 109.8,1196.8 114,1216.4 119.6,1222 123.8,1227.6 128,1230.4 132.2,1238.8 137.8,1247.2 144.8,1247.8 150.4,1246.7 156,1243 161.6,1240.2 167.2,1240.2 171.4,1238.8 175.6,1236 179.8,1224.8 184,1203.8 189.6,1202.4 194.4,1201.9 199.4,1206.6 204.2,1210.8 209.2,1216.4 212,1233.2 217.6,1238.3 223.2,1239.4 228.8,1241.6 234.4,1247.2 242.8,1250 254,1251.4 268,1251.4 282,1251.4 296,1252.3 312.8,1251.4 321.2,1248.6 326.8,1245.8 332.4,1230.4 336.6,1210.8 340.8,1157.6 345,1156.2 349.2,1159 353.4,1166 357.6,1174.4 361.8,1180 366,1180 370.2,1182.8 375.8,1184.2 381.4,1186.2 385.6,1188.4 389.8,1191.2 393.5,1190.7 398.2,1202.4 402.5,1216.4 406.7,1233.2 410.9,1236 416.5,1234.6 421.5,1222 426.3,1210.8 430.5,1194 434.7,1171.6 438.9,1146.4 443.1,1121.2 447.3,1096 451.5,1076.4 455.7,1062.4 459.9,1044.2 464.1,1030.2 468.3,1042.8 473.9,1051.2 478.1,1056.8 483.1,1061 487.9,1082 492.9,1100.2 496.3,1126.8 499.1,1149.2 503.3,1168.8 508.9,1188.4 513.1,1210.8 517.3,1229 521.5,1238.8 527.1,1244.4 532.7,1248.6 542.5,1250.6 553.7,1251.4 564.9,1251.4 576.1,1250.9 580,1249.5 582.4,1247.2 590.8,1243 596.4,1241.6 602,1243.9 610.4,1245 620.2,1244.4 630,1244.4 638.4,1244.4 644,1240.2 649.6,1236 655.2,1236 660.8,1238.8 666.4,1241.1 672,1241.6 677.6,1244.4 683.2,1246.7 688.8,1248.1 694.4,1250.6 702.8,1251.4 711.2,1250.9 716.8,1250 722.4,1245.8 728,1241.6 733.6,1245.8 739.2,1248.1 747.6,1248.1 756,1248.6 761.6,1244.4 767.2,1238.8 770,1208 775.6,1212.2 782.6,1216.4 789.6,1222 795.2,1215 800.8,1217.8 806.4,1219.8 812,1222 817.6,1224.3 823.2,1226.2 828.8,1230.4 834.4,1233.2 840,1235.5 845.6,1237.4 851.2,1238.3 856.8,1240.2 862.4,1244.4 868,1247.2 873.6,1248.1 879.3,1250.9 887.7,1251.4 898.9,1251.4 910.1,1252.3 918.5,1249.5 925.5,1244.4 932.5,1236 938.1,1227.6 943.7,1217.8 949.3,1210.3 954.9,1205.2 959.1,1194 961.9,1173 966.1,1167.4 971.7,1161.8 977.3,1159.9 981.5,1160.4 987.1,1166 992.7,1171.1 998.3,1171.6 1002.5,1157.6 1008.1,1136.6 1013.7,1142.2 1019.3,1146.4 1023.5,1147.8 1029.1,1143.6 1036.1,1141.4 1044.5,1140.8 1054,1140.8 1057.8,1142.2 1062,1145 1066.2,1147.8 1076,1145 1090,1142.2 1094.2,1152 1099.8,1163.2 1104,1169.4 1108.2,1169.4 1113,1165.5 1116.6,1188.4 1120.3,1210.8 1125,1222 1132,1228.2 1140.4,1229 1146.6,1229 1151.6,1224.3 1156.4,1215 1160.9,1199.6 1165.6,1185.6 1170.4,1174.4 1174.9,1163.2 1179.6,1152 1184.4,1143.1 1189.4,1144.2 1193.6,1141.4 1198.7,1143.6 1203.4,1145.6 1208.2,1147.8 1213.2,1143.6 1217.4,1150.6 1222.5,1153.4 1227.2,1161.8 1232,1165.5 1237,1167.4 1241.8,1167.4 1246.3,1170.2 1251,1167.4 1255.8,1164.6 1260.3,1168.3 1265,1171.6 1269.8,1175 1274.3,1171.6 1279,1166 1284.1,1161 1288.8,1164.6 1293.6,1166 1298.1,1164.1 1302.8,1138 1307.9,1115.6 1312.6,1105.8 1317.4,1098.3 1321.9,1091.8 1326.6,1110 1331.7,1129.6 1336.4,1146.4 1341.5,1166 1346.2,1184.2 1351,1202.4 1355.5,1219.2 1360.3,1233.2 1365,1243 1369.5,1245.3 1375.7,1245 1384.1,1245 1392.5,1245 1400.9,1244.4 1407.9,1241.6 1412.1,1239.4 1416.3,1244.4 1423.3,1249.5 1431.7,1252.3 1440.1,1252.3 1451.3,1251.4 1462.5,1250 1473.7,1246.7 1479.3,1245.8 1487.7,1247.2 1496.1,1248.6 1504.5,1247.2 1512.9,1244.4 1521.3,1243 1528,1241.6 1530.4,1240.2 1537.4,1238.8 1544.4,1236 1550,1227.6 1555.6,1210.8 1559.8,1188.4 1564,1166 1568.2,1149.2 1572.4,1121.2 1578,1117.9 1582.8,1126.8 1587.8,1146.4 1592,1163.2 1597.1,1180 1601.8,1196.8 1606.6,1208 1611.6,1217.8 1615.8,1224.3 1620.6,1229 1625.6,1230.4 1631.2,1232.7 1636.8,1233.8 1642.4,1233.8 1648.9,1231 1653.6,1234.6 1659.2,1236.9 1664.8,1238.3 1670.4,1238.8 1677.4,1241.1 1682.2,1238.8 1687.2,1241.6 1695.6,1245.8 1704,1244.4 1715.2,1241.1 1723.6,1243.9 1730.6,1245.3 1737.6,1244.4 1744.6,1245.8 1751.6,1245.8 1758.6,1243.9 1767.6,1244.4 1772.6,1240.2 1778.2,1237.4 1785.2,1236 1792.2,1236 1799.2,1238.3 1807.6,1240.2 1814.6,1241.6 1821.6,1244.4 1828.7,1245.8 1834.3,1246.4 1838.5,1244.4 1844.1,1239.4 1851.1,1239.4 1858.1,1239.4 1865.1,1241.1 1872.1,1242.2 1877.7,1243 1881.9,1245.8 1888.9,1243.9 1897.3,1243 1905.7,1244.4 1914.1,1244.4 1919.7,1243 1925.3,1236 1932.8,1229 1939.3,1238.8 1947.7,1247.2 1956.1,1250 1964.5,1250.9 1971.5,1246.7 1977.1,1241.6 1982.7,1230.4 1989.7,1222 1996.7,1216.4 2002,1212.2" fill="none" stroke="#345aa8" stroke-width="3.9" stroke-linejoin="round"/><polyline clip-path="url(#pc1)" points="103.4,1171.6 105.6,1171.6 109.8,1174.4 113.4,1159.9 118.2,1166 123,1170.2 128,1173 132.2,1157.6 137.2,1139.4 142,1147.8 146.2,1166 151,1173 154.6,1188.4 158.8,1199.6 161.6,1206.6 165.3,1175.8 170,1177.2 175.6,1174.4 179.8,1205.2 184.6,1241.6 189.6,1240.2 194.4,1240.2 199.4,1237.4 203.6,1222 207.8,1205.2 212,1180 217.6,1166 222.4,1180 227.4,1196.8 231.6,1185.6 236.7,1178.6 241.4,1160.4 246.2,1138 251.2,1135.2 255.4,1118.4 260.2,1098.3 265.2,1101.6 270,1112.8 274.2,1108.6 279.2,1103.9 284,1090.4 289,1075 293.2,1059.6 298.3,1068 303,1065.2 307.8,1082 312.3,1082 317,1094.6 321.2,1100.2 326.8,1101.6 331,1129.6 335.2,1152 338,1168.8 340.8,1252.8 345,1251.4 349.2,1238.8 353.4,1222 357.6,1205.2 361.8,1202.4 365.5,1194 369.4,1191.2 374.4,1194 380,1191.2 385.6,1192.6 389.8,1195.4 393.5,1210.8 396.8,1194 399.6,1166 402.5,1129.6 406.7,1098.8 412.3,1098.3 417,1090.4 421.5,1104.4 426.3,1103.9 430.5,1121.2 435.5,1146.4 440.3,1171.6 445.9,1199.6 450.1,1222 455.7,1238.8 461.3,1250 465.5,1252.3 469.7,1244.4 475.3,1245.8 479.5,1247.2 483.7,1250 487.9,1238.8 492.1,1237.4 496.3,1216.4 501.9,1199.6 507.5,1196.8 511.7,1196.8 515.9,1174.4 520.1,1166 524.3,1149.2 528.5,1121.2 532.7,1124 536.9,1132.4 541.1,1140.8 545.3,1157.6 549.5,1168.8 553.7,1163.2 559.3,1167.4 564.9,1168.8 569.1,1177.2 573.3,1187 577.5,1180 580,1184.2 582.4,1191.2 586.6,1205.2 590.8,1222 596.4,1238.8 600.6,1230.4 606.2,1224.3 611.8,1222 617.4,1224.3 623,1226.2 630,1227.6 634.2,1208 639.8,1185.6 644,1191.2 649.1,1210.8 653.8,1198.2 658,1209.4 663.1,1199.6 667.8,1201.9 672.6,1196.8 677.6,1177.2 682.4,1173 686.9,1163.2 691.6,1159.6 696.4,1168.8 700.9,1179.5 705.6,1168.8 710.7,1149.2 715.4,1131.9 719.6,1146.4 724.7,1174.4 729.4,1185.6 734.2,1178.6 739.2,1170.2 744,1177.2 748.5,1166 753.2,1149.2 758,1143.1 762.2,1160.4 767.2,1182.8 770,1216.4 772,1251.4 777,1241.6 781.8,1234.6 786.3,1232.7 791,1237.4 796.1,1251.4 800.8,1236 805,1222 810.1,1212.2 814.8,1206.6 819.6,1204.7 824.1,1206.6 828.8,1199.6 833.9,1194 838.6,1191.2 843.4,1189 847.9,1191.2 852.6,1195.4 857.7,1193.5 859.6,1166 862.4,1135.2 866.6,1107.2 870.8,1094.6 876.5,1079.2 881.2,1065.2 886.3,1052.6 891,1061.9 895.5,1061 900.3,1054 905,1047 909.5,1056.8 914.3,1082 919,1087.6 924.1,1107.2 928.3,1126.8 932.5,1149.2 938.1,1171.6 943.1,1194 947.9,1208 952.6,1210.8 957.1,1216.4 961.9,1243 966.1,1237.4 971.1,1229 975.9,1222 980.6,1210.8 985.1,1196.8 989.9,1194 994.9,1195.4 999.7,1199.6 1004.4,1224.8 1008.9,1252.3 1013.7,1248.6 1019.3,1245.8 1023.5,1245.8 1028.2,1248.6 1033.3,1241.6 1038.9,1241.6 1044.5,1243 1050.1,1245 1054,1247.2 1057.8,1250 1064.8,1248.6 1073.2,1250.9 1081.6,1250 1090,1252.8 1094.2,1243 1099.8,1234.6 1104,1229.9 1108.2,1238.8 1113,1247.2 1116.6,1210.8 1120.8,1188.4 1125,1174.4 1129.2,1161.8 1133.4,1153.4 1137.6,1154.3 1141.8,1149.2 1146.6,1147 1151.6,1159 1156.4,1177.2 1160.9,1194 1165.6,1210.8 1170.4,1230.4 1174.9,1240.2 1179.6,1241.6 1184.7,1252.8 1189.4,1247.2 1194.2,1248.1 1199.2,1245 1203.4,1243.9 1208.2,1243.9 1213.2,1252.3 1218,1243 1222.5,1243 1227.2,1229 1232,1224.8 1237,1217.8 1241.2,1213.1 1246.3,1208 1251,1210.8 1255.8,1216.4 1260.3,1208 1265,1201 1269.8,1202.4 1274.3,1215 1279,1231.8 1284.1,1234.6 1288.8,1213.6 1293.6,1199.6 1298.1,1189.8 1302.8,1205.2 1307.9,1228.2 1312.6,1236 1317.4,1243 1321.9,1250 1326.6,1230.4 1331.7,1210.8 1336.4,1194 1341.5,1174.4 1346.2,1159 1351,1143.6 1355.5,1124 1360.3,1098.8 1364.5,1076.4 1369.5,1073.1 1374.3,1087.1 1379,1087.1 1383.5,1083.4 1388.3,1079.8 1393,1079.8 1398.1,1085.4 1402.8,1094.6 1407.3,1107.2 1412.1,1126.3 1416.3,1104.4 1421.9,1086.2 1426.1,1076.4 1431.1,1082 1435.9,1101.6 1440.6,1125.4 1445.1,1118.4 1449.9,1108.6 1454.6,1119 1459.7,1117.9 1464.4,1114.2 1469.5,1135.8 1473.7,1146.4 1478.4,1156.2 1483.5,1152 1487.7,1166 1492.7,1165.5 1497.5,1177.2 1502.2,1194 1506.7,1209.4 1511.5,1191.2 1516.2,1185.6 1521.3,1178.6 1525.5,1177.2 1528,1163.2 1530.4,1157.6 1534.6,1135.2 1540.2,1125.4 1545,1114.2 1550,1124 1554.2,1146.4 1558.4,1171.6 1561.2,1194 1564,1216.4 1568.2,1230.4 1573,1244.4 1578,1252.8 1582.2,1244.4 1587,1222 1592,1199.6 1596.2,1182.8 1600.4,1174.4 1606,1177.2 1611.1,1188.4 1615.8,1199.6 1620.6,1208 1625.6,1215 1630.4,1207.5 1634.9,1210.8 1639.6,1219.2 1644.4,1230.4 1648.9,1243 1653.6,1233.2 1658.7,1219.2 1663.4,1212.2 1667.6,1213.6 1672.7,1205.2 1677.4,1195.4 1682.2,1215 1687.2,1208 1691.4,1191.2 1696.2,1178.6 1701.2,1180 1706,1173 1710.2,1183.4 1715.2,1182.8 1720.3,1159 1725,1140.8 1729.8,1133 1734.3,1146.4 1739,1166 1743.8,1166 1748.3,1174.4 1753,1175 1758.1,1181.4 1762.8,1174.4 1767.6,1178.6 1772.1,1192.6 1776.8,1206.6 1781.9,1204.7 1786.6,1198.2 1791.4,1199.6 1795.9,1207.5 1800.6,1220.6 1805.7,1227.6 1810.4,1231 1814.6,1234.6 1818.8,1213.6 1824.5,1188.4 1829.5,1171.6 1833.7,1163.2 1838.5,1177.2 1843.5,1198.2 1848.3,1195.4 1853,1185.6 1857.5,1171.6 1862.3,1160.4 1867,1152.9 1872.1,1149.2 1876.3,1150.6 1881.3,1137.5 1886.1,1142.2 1891.1,1141.4 1895.9,1138 1900.6,1133.8 1905.1,1129.6 1909.9,1131.9 1914.6,1138 1919.7,1146.4 1923.9,1171.6 1928.6,1194 1933.7,1208 1938.4,1177.2 1943.5,1138 1947.7,1124 1952.4,1108.6 1956.9,1096 1961.7,1087.1 1966.7,1081.2 1971.5,1098.8 1976.2,1108.6 1980.7,1132.4 1985.5,1149.2 1990.2,1164.6 1995.3,1182.8 1999.5,1210.8 2002,1222" fill="none" stroke="#d01c32" stroke-width="3.9" stroke-linejoin="round"/><polyline clip-path="url(#pc1)" points="103.4,1252.8 105.6,1252.8 109.8,1245.8 114,1227.6 118.2,1199.6 122.4,1185.6 128,1179.5 132.8,1174.4 137.2,1178.6 142,1166 146.2,1149.2 151,1146.4 156,1132.4 160.2,1133.8 165.3,1159 170,1157.6 175.1,1168.3 179.8,1160.4 184.6,1149.2 189.6,1150.6 194.4,1154.8 199.4,1151.5 204.2,1157.6 209.2,1166 213.4,1166 217.6,1153.4 222.4,1129.6 227.4,1110 232.2,1105.8 236.7,1100.2 241.4,1115.6 246.2,1135.2 251.2,1138 255.4,1150.6 260.2,1174.4 265.2,1171.6 270,1160.4 274.2,1167.4 279.2,1170.2 284,1182.8 289,1198.2 293.2,1213.6 298.3,1205.8 303,1210.8 307.8,1198.2 312.3,1201.9 317,1194 321.2,1199.6 326.3,1216.4 331,1214.5 335.2,1227.6 340.8,1240.2 346.4,1241.1 350.6,1238.8 354.8,1236 359,1236 363.2,1230.4 367.4,1229.9 371.6,1226.2 375.8,1219.2 380,1219.2 384.2,1222 388.4,1223.4 393.5,1213.6 398.2,1214.2 402.5,1206.6 407.5,1210.8 411.7,1205.2 416.5,1215 421.5,1214.2 426.3,1222 430.5,1219.2 435.5,1216.4 440.3,1219.2 445.9,1224.8 450.1,1230.4 455.7,1241.6 459.9,1248.6 464.1,1252.3 468.3,1247.2 473.9,1240.2 479.5,1233.2 485.1,1224.8 490.7,1210.8 494.9,1194 499.1,1171.6 503.3,1149.2 507.5,1129.6 511.7,1118.4 515.9,1124 520.9,1119.8 525.7,1138 530.4,1153.4 535.5,1149.2 539.7,1138 543.9,1121.2 549.5,1103.9 553.7,1111.4 559.3,1105.8 563.5,1104.4 568.2,1096 573.3,1088.2 577.5,1097.4 580,1096 583.8,1093.2 589.4,1079.2 593.6,1066.6 597,1055.4 602,1060.2 607.6,1062.4 613.2,1061 618.8,1058.2 624.4,1056.2 630,1056.2 634.2,1072.2 639,1103.9 644,1104.4 649.1,1096 653.8,1106.7 658.6,1096 663.6,1096.6 668.4,1092.7 672.6,1101.6 677.6,1113.7 682.4,1115.6 686.9,1121.2 691.6,1115.6 696.4,1105.8 701.4,1093.2 705.6,1107.2 710.7,1129.6 715.4,1157.6 719.6,1150.6 724.7,1132.4 729.4,1124 734.2,1121.2 739.2,1121.2 744,1114.2 748.5,1126.8 753.2,1152 758,1177.2 762.2,1188.4 767.2,1205.2 772.3,1213.6 777,1219.2 781.8,1222 786.8,1226.2 791,1229.9 796.1,1229 800.8,1231.8 806.4,1234.6 812,1238.8 817.6,1241.6 824.1,1243 828.8,1244.4 834.4,1241.1 840,1240.2 845.6,1240.2 851.2,1238.3 856.8,1238.8 862.4,1240.2 868,1236 872.2,1222 876.5,1217.8 881.2,1220.6 885.7,1227.1 890.5,1215.9 895.5,1215.9 900.3,1222 905,1227.6 909.5,1216.4 914.3,1194 919,1194 924.1,1180 928.3,1166 932.5,1149.2 938.1,1131 943.1,1122.6 947.9,1119 952.6,1122.6 957.1,1126.3 961.9,1135.2 966.6,1146.4 971.1,1166 975.9,1180 980.1,1199.6 984.3,1219.2 989.9,1223.4 995.5,1225.4 1001.1,1227.6 1008.1,1230.4 1013.7,1234.6 1019.3,1238.3 1027.7,1238.8 1036.1,1236.6 1044.5,1235.5 1050.1,1237.4 1054,1240.2 1060.6,1244.4 1067.6,1250 1076,1251.4 1084.4,1251.4 1091.4,1248.6 1097,1241.6 1102.6,1233.2 1108.2,1224.8 1113.8,1216.4 1119.4,1206.6 1123.6,1198.2 1127.8,1194 1132.6,1199.6 1137.1,1195.4 1141.8,1202.4 1146.6,1205.2 1151.6,1201.9 1156.4,1196.8 1160.9,1190.7 1165.6,1187 1170.4,1188.4 1174.9,1198.2 1179.6,1213.6 1184.7,1224.8 1189.4,1225.4 1194.2,1225.4 1199.2,1222.6 1203.4,1226.2 1208.2,1226.2 1213.2,1223.4 1218,1215 1222.5,1206.6 1227.2,1199.6 1232,1194 1236.2,1192.6 1241.2,1202.4 1246.3,1208 1251,1205.8 1255.8,1205.8 1260.3,1213.6 1265,1220.6 1269.8,1217.8 1274.3,1221.5 1279,1224.8 1284.1,1229 1288.8,1233.2 1293.6,1237.4 1298.1,1240.2 1302.8,1238.8 1307.9,1240.2 1312.6,1243 1317.4,1248.6 1321.9,1252.8 1326.6,1248.6 1331.7,1245.8 1336.4,1243.9 1341.5,1240.2 1346.2,1231.8 1351,1228.2 1355.5,1229 1360.3,1229 1365,1224.3 1369.5,1220.6 1374.3,1205.2 1379,1203.8 1383.5,1208 1388.3,1213.6 1393,1219.2 1398.1,1222 1402.8,1222 1407.3,1219.2 1412.1,1213.6 1416.3,1223.4 1421.9,1230.4 1426.1,1223.4 1431.1,1205.2 1435.9,1177.2 1440.6,1157.1 1445.1,1159.9 1449.9,1173 1454.6,1163.2 1459.7,1168.8 1464.4,1178.6 1469.5,1163.2 1473.7,1153.4 1478.4,1140.8 1482.9,1135.8 1487.7,1119 1492.7,1118.4 1497.5,1104.4 1502.2,1087.6 1506.7,1074.2 1511.5,1093.2 1516.2,1100.2 1521.3,1108.6 1525.5,1111.4 1528,1118.4 1530.4,1126.8 1534.6,1157.6 1538.8,1168.8 1541.6,1180 1545.8,1191.2 1550,1194 1554.2,1191.2 1559.2,1187 1563.4,1187 1568.2,1194 1573,1206.6 1578,1210.3 1582.8,1205.2 1587.8,1194 1592,1190.7 1597.1,1187.9 1601.8,1177.2 1606.6,1154.8 1611.1,1135.2 1615.8,1115.6 1620.6,1098.8 1625.1,1087.6 1630.4,1094.6 1634.9,1091.8 1639.6,1083.4 1644.4,1074.2 1648.9,1065.2 1653.6,1066.6 1658.4,1082 1663.4,1089 1668.2,1087.1 1672.7,1097.4 1677.4,1111.4 1682.2,1101.1 1687.2,1101.6 1691.4,1115.6 1696.5,1123.5 1701.2,1119.8 1706,1131 1710.2,1125.4 1715.2,1132.4 1720.3,1157.6 1725,1180 1729.8,1185.1 1734.3,1171.6 1739,1153.4 1743.8,1143.6 1748.3,1126.8 1753,1125.4 1758.1,1117.9 1762.8,1128.2 1767.6,1124 1772.1,1117 1776.8,1105 1781.9,1115.6 1786.6,1138 1791.4,1157.6 1795.9,1171.6 1800.6,1181.4 1805.7,1177.2 1810.4,1169.4 1815.5,1160.4 1820.2,1167.4 1825,1178.6 1829.5,1188.4 1834.3,1194 1839,1182.8 1843.5,1161.8 1848.3,1165.5 1853,1178.6 1857.5,1191.2 1862.3,1201 1867,1210.3 1872.1,1217 1876.8,1219.2 1881.3,1228.2 1886.1,1220.6 1891.1,1216.4 1895.9,1217.8 1900.6,1221.5 1905.1,1224.8 1909.9,1228.2 1914.6,1219.2 1919.1,1217.8 1923.9,1199.6 1928.6,1177.2 1933.1,1165.5 1938.4,1185.6 1943.5,1194 1947.7,1193.5 1952.4,1199.6 1956.9,1205.2 1961.7,1213.6 1966.7,1219.2 1971.5,1215 1976.2,1216.4 1980.7,1205.2 1985.5,1208 1990.2,1215 1995.3,1226.2 1999.5,1236" fill="none" stroke="#7678b0" stroke-width="3.9" stroke-linejoin="round"/><polyline clip-path="url(#pc1)" points="103.4,1160.4 105.6,1160.4 109.8,1154.8 114,1163.2 118.2,1174.4 122.4,1188.4 128,1189.8 132.2,1201 137.8,1208 142,1209.4 146.2,1212.2 151,1206.6 156,1201 160.8,1192.6 165.3,1195.4 170,1199.6 175.1,1195.4 179.8,1185.6 184.6,1178.6 189.6,1179.5 194.4,1176.7 199.4,1178.6 204.2,1187 209.2,1189.8 213.4,1205.2 217.6,1213.6 222.4,1219.2 227.4,1224.8 231.6,1233.2 236.7,1245.8 241.4,1247.2 251.2,1248.1 262.4,1248.1 273.6,1248.6 284.8,1249.5 296,1247.2 304.4,1244.4 312.8,1238.8 318.4,1233.2 324,1224.8 328.2,1213.6 332.4,1194 336.6,1160.4 340.8,1125.4 345.9,1126.8 350.6,1135.2 354.8,1150.6 359,1157.6 363.2,1159 368.8,1170.2 373.9,1175.8 378.6,1175 383.7,1170.2 388.4,1161.8 393.5,1159 396.8,1174.4 399.6,1199.6 403,1219.2 408.1,1230.4 412.3,1233.2 419.3,1232.7 426.3,1233.2 436.1,1233.2 444.5,1234.1 452.9,1236 461.3,1237.4 469.7,1238.8 480.9,1238.3 492.1,1238.8 499.1,1243 506.1,1246.4 514.5,1249.2 522.9,1250.6 531.3,1249.5 539.7,1249.5 548.1,1250 559.3,1248.1 567.7,1248.1 573.3,1247.2 580,1243 586.6,1241.1 595,1238.3 602,1241.1 610.4,1244.4 620.2,1245.8 630,1245.8 638.4,1241.6 644,1234.6 649.6,1231 655.2,1231 660.8,1233.2 665,1237.4 670.6,1235.5 676.2,1238.8 681.8,1243 687.4,1245.8 694.4,1248.1 701.4,1249.2 707,1246.7 711.2,1241.6 715.4,1233.2 720.2,1226.2 725.2,1222 729.4,1222 734.2,1228.2 739.2,1233.2 744,1233.2 749,1227.6 753.2,1217.8 758,1196.8 762.2,1171.6 767.2,1138 770,1118.4 772.3,1100.2 777,1098.3 781.8,1098.8 786.3,1094.6 791,1084.8 796.1,1077.8 800.8,1084.8 805,1097.4 810.1,1103.9 814.8,1105 819.6,1103 824.1,1097.4 828.8,1098.8 833.9,1107.2 838.6,1108.6 843.4,1110 847.9,1107.2 852.6,1102.2 857.7,1103 859.6,1118.4 862.4,1143.6 866.6,1168.8 870.8,1194 875.1,1216.4 880.7,1231.8 886.3,1238.8 893.3,1243 900.3,1245 907.3,1245.8 914.3,1245.3 919.9,1241.6 925.5,1238.8 932.5,1236.6 938.1,1235.5 943.7,1233.8 949.3,1232.7 954.9,1230.4 960.5,1226.2 966.1,1225.4 971.1,1219.2 975.9,1213.6 980.6,1205.2 985.1,1194 990.4,1187 994.9,1182.8 999.7,1176.7 1004.4,1166 1008.9,1154.8 1013.7,1150.6 1018.7,1143.6 1023.5,1142.2 1028.2,1142.2 1033.3,1146.4 1038.9,1151.5 1047.3,1153.4 1054,1143.6 1057.8,1139.4 1063.4,1131 1070.4,1124.6 1076,1126.3 1084.4,1128.2 1090,1128.2 1095.6,1132.4 1099.8,1135.2 1104,1140.8 1109.6,1142.2 1113.8,1142.2 1118,1160.4 1122.2,1177.2 1126.4,1189.8 1132.6,1192.6 1137.1,1194.6 1141.8,1191.2 1146.6,1190.7 1151.6,1188.4 1156.4,1184.2 1160.9,1181.4 1165.6,1177.2 1170.4,1173.9 1174.9,1170.2 1179.6,1160.4 1184.4,1152 1189.4,1154.3 1194.2,1157.1 1199.2,1159.9 1203.4,1157.6 1208.2,1155.4 1213.2,1154.3 1217.4,1164.6 1222.5,1171.6 1227.2,1182.8 1232,1192.6 1236.2,1196.8 1241.2,1192.6 1246.3,1189.8 1251,1187.9 1255.8,1187.9 1260.3,1186.2 1265,1181.4 1269.8,1178.6 1274.3,1166 1279,1150.6 1284.1,1152 1288.8,1159.9 1293.6,1168.8 1298.1,1177.2 1302.8,1182.8 1307.9,1188.4 1312.6,1187 1317.4,1181.4 1321.9,1175.8 1326.6,1175 1331.7,1176.7 1336.4,1184.2 1341.5,1191.2 1346.2,1199.1 1351,1206.6 1355.5,1212.2 1360.3,1222 1365,1230.4 1369.5,1235.5 1374.3,1237.4 1379,1238.3 1383.5,1237.4 1388.3,1235.5 1393,1231.8 1398.1,1226.2 1402.8,1217.8 1407.3,1206.6 1412.1,1195.4 1416.3,1201.9 1421.9,1208.6 1426.1,1217.8 1431.1,1227.6 1435.9,1233.2 1440.6,1238.3 1445.1,1241.6 1449.9,1240.2 1454.6,1240.2 1459.7,1236 1464.4,1230.4 1469.5,1226.2 1473.7,1227.6 1478.4,1230.4 1482.9,1236 1487.7,1239.4 1492.7,1242.2 1497.5,1243.9 1502.2,1244.4 1511.5,1243 1516.2,1242.2 1521.3,1241.6 1528,1243.9 1530.4,1244.4 1537.4,1241.6 1544.4,1234.6 1550,1226.2 1555.6,1217.8 1561.2,1210.8 1566.8,1203.8 1572.4,1196.8 1578,1193.5 1582.8,1196.8 1587.8,1205.2 1593.4,1216.4 1599,1224.8 1606,1231.8 1613,1237.4 1620,1241.1 1625.6,1242.2 1631.2,1240.2 1639.6,1238.3 1648,1236.6 1656.4,1236 1664.8,1234.6 1670.4,1231.8 1676,1224.8 1682.2,1218.7 1687.2,1220.6 1692.8,1223.4 1701.2,1226.2 1708.2,1224.3 1715.2,1219.2 1720.3,1215.9 1725,1209.4 1734.3,1209.4 1739,1212.2 1743.8,1219.2 1748.3,1224.3 1753,1227.6 1758.1,1229 1762.8,1227.1 1767.6,1226.2 1772.6,1224.8 1776.8,1223.4 1781.9,1219.2 1786.6,1206.6 1791.4,1182.8 1795.9,1157.6 1800.6,1136.6 1805.7,1131.9 1810.4,1133.8 1814.6,1136.6 1818.8,1152 1824.5,1160.4 1829.5,1170.2 1834.3,1172.2 1839,1173 1843.5,1173 1848.3,1173 1853,1173 1857.5,1173 1862.3,1171.6 1867,1167.4 1872.1,1163.2 1876.3,1159.9 1881.3,1163.2 1886.1,1166 1891.1,1173 1895.9,1173.9 1900.6,1173.9 1905.1,1173 1909.9,1168.8 1914.6,1169.4 1919.1,1166.6 1923.9,1166.6 1928.6,1168.3 1933.1,1171.6 1938.4,1191.2 1943.5,1203.8 1947.7,1212.2 1952.4,1217.8 1956.9,1224.3 1961.7,1224.3 1967.3,1222 1972.9,1216.4 1978.5,1208 1984.1,1194 1989.7,1174.4 1995.3,1138 1999.5,1098.8" fill="none" stroke="#c88490" stroke-width="3.9" stroke-linejoin="round"/><clipPath id="pc2"><rect x="104.4" y="1644.3" width="1894.8" height="254.1"/></clipPath><polyline clip-path="url(#pc2)" points="103.4,1882.9 105.6,1882.9 114,1887.6 122.4,1889.6 133.6,1890.4 144.8,1890.4 156,1890.4 167.2,1889 175.6,1887.1 181.2,1877.8 185.4,1866.6 189.6,1849.8 192.4,1830.2 196.6,1805 200.8,1793.8 205,1785.4 209.2,1781.2 213.4,1774.2 217.6,1768.6 221.8,1789.6 227.4,1799.4 231.6,1813.4 236.7,1819 241.4,1821.8 246.2,1826 251.2,1830.2 256,1831.6 261,1834.4 265.2,1861 269.4,1876.4 275,1882 282,1884.8 290.4,1886.2 298.8,1886.2 307.2,1887.1 315.6,1887.6 324,1889 332.4,1889.9 340.8,1890.4 352,1890.4 363.2,1889.9 370.2,1887.1 377.2,1884.8 383.7,1882 388.4,1877.8 394,1873.6 398.2,1868.9 402.5,1862.4 407.5,1852.6 411.7,1838.6 417,1821.8 421.5,1830.2 426.3,1831.6 431,1832.5 435.5,1834.4 440.3,1832.5 445,1828.8 450.1,1826 454.8,1823.2 459.3,1819 464.1,1813.4 469.1,1812 473.9,1795.2 478.6,1796.1 483.1,1792.4 487.9,1797.2 492.6,1795.2 497.7,1792.4 502.4,1790.5 507.5,1779.8 511.7,1765.8 517.3,1749 521.5,1726.6 525.7,1700 531.3,1700.9 536.9,1700.9 542.5,1702 549.5,1695.8 554.2,1697.2 559.3,1697.2 564.9,1695.8 573.3,1693 580,1693 586.6,1691.6 592.2,1688.8 596.4,1693 602,1695.8 610.4,1695.8 618.8,1696.4 625.8,1694.4 634.2,1694.4 644,1692.4 649.1,1696.4 653.8,1711.2 659.4,1721 666.4,1728 672,1732.2 677.1,1733.6 681.8,1726.6 686.9,1719.6 691.6,1713.2 697.2,1714.9 702,1716 707,1712.6 711.2,1708.4 715.4,1704.2 721,1704.2 729.4,1705.1 735,1702.8 739.2,1700.9 744,1704.2 749,1705.6 754.6,1704.2 758.8,1702 764.4,1703.7 769.2,1703.7 774.2,1700 779.8,1696.4 785.4,1693.6 791,1690.2 796.6,1686 801.4,1679 805.6,1672.8 810.6,1677.6 817.6,1679.8 826,1679.6 834.4,1679.6 844.2,1679.8 852.6,1677.6 859.6,1675.6 866.6,1673.4 873.6,1670 880.7,1665 887.7,1659.4 896.1,1652.4 904.5,1653.2 912.9,1654.4 924.1,1655.2 932.5,1653.8 940.9,1652.4 946.5,1652.4 952.1,1653.2 955.4,1676.2 959.1,1704.2 962.7,1729.4 966.1,1746.2 971.1,1765.3 977.3,1770 981.5,1772.8 985.7,1779.8 991.3,1786.8 995.5,1791 1001.1,1798 1005.3,1805 1009.5,1816.2 1015.1,1823.2 1019.3,1820.4 1023.5,1813.4 1029.1,1805 1033.3,1796.6 1038,1788.2 1043.1,1782.6 1047.3,1781.2 1051.5,1777 1054,1771.4 1056.4,1768.6 1061.4,1765.8 1066.2,1788.2 1070.4,1810.6 1074.6,1830.2 1078.8,1844.2 1083,1858.2 1087.2,1868.9 1092.8,1877.8 1098.4,1884.8 1104,1887.6 1112.4,1890.4 1123.6,1891.3 1137.6,1891.3 1151.6,1891.3 1165.6,1890.4 1176.8,1889 1185.2,1888.5 1189.4,1887.6 1193.6,1886.8 1199.2,1885.7 1207.6,1884.8 1213.2,1882.9 1218.8,1881.5 1227.2,1882 1234.2,1882.6 1241.2,1882 1244.9,1875 1247.4,1866.6 1249.6,1852.6 1255.2,1855.4 1260.3,1858.2 1265,1866.6 1270.6,1875 1276.2,1880.6 1283.2,1885.7 1291.6,1887.6 1300,1888.5 1308.4,1886.8 1314,1884.8 1322.4,1884.8 1330.8,1885.7 1339.2,1886.2 1347.6,1887.6 1356.1,1886.2 1364.5,1887.6 1370.1,1888.5 1378.5,1886.2 1386.9,1883.4 1393.9,1880.1 1398.1,1876.4 1402.3,1866.6 1407.3,1855.4 1412.1,1838.6 1417.1,1825.2 1421.9,1824.6 1426.6,1827.4 1431.1,1824.6 1435.9,1819 1440.6,1812 1445.1,1803.6 1449.9,1800.8 1454.6,1802.2 1459.7,1798 1464.4,1789.6 1469.5,1781.2 1473.7,1771.4 1478.4,1754.6 1482.9,1739.2 1487.7,1722.4 1492.7,1704.2 1497.5,1690.2 1502.2,1689.6 1507.3,1688 1511.5,1686 1516.2,1687.4 1521.3,1688 1525.5,1690.2 1528,1693 1532.6,1694.4 1537.4,1693 1543,1688.8 1550,1684.6 1555.6,1680.4 1561.2,1676.8 1566.8,1672.8 1573,1669.2 1578,1665 1583.1,1671.2 1589.2,1674.2 1597.6,1675.6 1606,1674.8 1613,1672 1620.6,1669.2 1625.6,1672 1630.4,1674.8 1634.9,1678.4 1639.1,1687.4 1642.4,1698.6 1645.2,1712.6 1648,1737.8 1650.8,1763 1653.6,1785.4 1657.8,1807.8 1662,1827.4 1666.2,1841.4 1670.4,1852.6 1674.6,1861 1678.8,1865.2 1684.4,1868 1690,1869.4 1697,1870.8 1704,1870.8 1711,1873.6 1718,1873.6 1723.6,1874.2 1729.2,1872.2 1734.8,1873.1 1743.2,1874.5 1750.2,1875 1755.8,1876.4 1760,1877.3 1765.6,1877.8 1771.2,1878.4 1776.8,1879.2 1782.4,1880.6 1788,1882 1795,1882 1800.6,1879.2 1805.7,1876.4 1814.6,1876.4 1820.2,1872.8 1827.3,1870.8 1834.3,1869.4 1838.5,1865.2 1843.5,1858.2 1848.3,1851.2 1853,1844.2 1857.5,1838.6 1862.3,1834.4 1867,1827.4 1872.1,1819 1876.3,1812 1881.3,1824.6 1886.1,1831.6 1891.1,1833.6 1895.9,1837.2 1900.6,1841.4 1905.1,1845.6 1909.9,1848.4 1914.6,1855.4 1919.7,1861 1924.4,1865.2 1929.5,1872.2 1933.7,1879.2 1939.3,1883.4 1947.7,1884 1954.7,1884 1961.7,1879.2 1967.3,1873.6 1972.9,1865.2 1978.5,1855.4 1984.1,1844.2 1989.7,1834.4 1995.3,1826 1999.5,1824.1 2002,1823.2" fill="none" stroke="#345aa8" stroke-width="3.9" stroke-linejoin="round"/><polyline clip-path="url(#pc2)" points="103.4,1701.4 105.6,1701.4 111.2,1704.2 116.8,1702 122.4,1699.2 128,1698.6 132.2,1694.4 137.8,1692.4 142,1690.2 147,1693.6 150.4,1729.4 153.2,1763 156,1788.2 160.2,1779.8 165,1784 170,1774.2 175.1,1777 179.8,1788.2 184,1810.6 189.1,1814.8 193.8,1838.6 198,1854 203.6,1862.4 208.4,1868.9 212.9,1880.6 217.6,1889 222.4,1858.2 226.9,1844.2 231.6,1816.2 236.7,1813.4 241.4,1810.1 246.2,1806.4 251.2,1809.2 256,1812.9 261,1816.8 265.2,1768.6 269.4,1737.8 275,1726.6 279.2,1730.8 284,1730.8 289,1727.2 293.2,1746.2 298.3,1770 303,1767.2 307.8,1758 312.8,1765.8 317,1744 321.8,1746.2 326.3,1737.8 331,1722.4 336.1,1716.8 340.8,1708.4 345.6,1694.4 350.1,1688.8 354.8,1697.2 359.9,1695.2 364.6,1701.4 369.4,1721 373.9,1750.4 378.6,1754.6 383.7,1770 388.4,1788.2 392.6,1786.8 396.8,1796.6 402.5,1807.8 407.5,1819 411.7,1841.4 413.7,1861 417,1887.6 421.5,1872.2 426.3,1866.6 431,1865.2 435.5,1859.6 440.3,1859.6 445,1861 450.1,1852.6 454.8,1840 459.3,1841.4 464.1,1842.8 469.1,1845.6 473.9,1876.4 478.6,1875 483.1,1882 487.9,1866.6 492.6,1858.2 497.7,1845.6 502.4,1836.4 507.5,1844.2 511.7,1852.6 517.3,1858.2 521.5,1872.2 525.7,1890.4 531.3,1889 536.9,1886.8 542.5,1887.1 548.1,1888.5 553.7,1887.6 559.3,1886.2 564.9,1886.2 573.3,1887.1 580,1886.2 585.2,1884.8 590.8,1889 595,1888.5 599.2,1884.8 604.8,1882.9 613.2,1883.4 621.6,1884.8 630,1885.7 639.8,1887.1 648.2,1884 653.8,1875 659.4,1873.6 667.8,1874.5 677.6,1875.6 683.2,1880.6 687.4,1883.4 691.6,1889 695.8,1882 700,1875 704.2,1874.5 708.4,1877.8 712.6,1882 716.8,1882.9 721,1879.2 726.6,1878.4 730.8,1880.6 735,1882.9 739.2,1885.7 743.4,1880.6 749,1880.1 754.6,1881.5 758.8,1883.4 763,1880.6 767.2,1878.4 772.8,1877.8 777,1880.1 782.6,1882 786.8,1882.6 792.4,1881.2 798,1882.6 802.2,1886.2 805.9,1890.4 810.6,1886.2 816.2,1884.8 826,1884.8 834.4,1885.7 842.8,1885.7 851.2,1885.7 856.8,1883.4 862.4,1883.4 868,1884 873.6,1885.4 882.1,1887.6 890.5,1890.4 898.9,1891.3 910.1,1891.3 924.1,1891.3 938.1,1891.3 950.7,1891.3 954.3,1880.6 958.2,1866.6 963.3,1856.8 968.9,1854.9 973.1,1856.8 977.3,1862.4 981.5,1866.1 985.7,1860.5 991.3,1858.2 995.5,1852.6 1000.2,1845.6 1004.4,1833 1008.6,1817.6 1013.7,1820.4 1019.3,1819 1023.5,1841.4 1027.7,1852.6 1033.3,1854.9 1037.5,1866.6 1042.2,1883.4 1047.3,1882.9 1051.5,1881.5 1054,1882 1056.4,1886.2 1061.4,1888.5 1064.8,1861 1069,1833 1073.2,1810.6 1077.4,1788.2 1081.6,1768.6 1085.8,1753.2 1090,1746.2 1094.2,1726.6 1098.4,1707 1104,1710.4 1108.2,1704.2 1113,1700.9 1118,1697.2 1123.1,1689.6 1127.8,1698.6 1132.6,1716 1137.1,1716.3 1141.8,1717.4 1146.6,1707 1151.6,1697.2 1156.4,1688 1160.9,1695.8 1165.6,1698.6 1170.4,1712.6 1174.9,1713.2 1179.6,1726.1 1184.7,1731.7 1189.4,1753.2 1194.2,1760.2 1199.2,1758.8 1203.4,1756 1208.2,1732.2 1213.2,1742 1218,1744.8 1222.5,1740.6 1227.2,1736.4 1232,1746.2 1236.2,1746.8 1241.2,1752.4 1244,1768.6 1246.3,1793.8 1249.1,1833 1251,1862.4 1255.8,1863.8 1260.8,1862.4 1263.6,1835.8 1267.8,1799.4 1272,1771.4 1276.2,1744.8 1280.4,1722.4 1284.6,1713.2 1288.8,1716 1293.6,1709.3 1298.1,1715.4 1302.8,1718.2 1307.9,1718.2 1312.6,1719.1 1317.4,1714 1321.9,1712.1 1326.6,1709.3 1331.7,1705.6 1336.4,1705.6 1341.5,1709 1346.2,1712.6 1351,1732.2 1355.5,1751.3 1360.3,1744.8 1364.5,1739.2 1369.5,1743.4 1374.3,1751.8 1379,1764.4 1383.5,1772.8 1388.3,1779.8 1393,1789.6 1398.1,1805 1402.3,1838.6 1407.3,1849.8 1412.1,1872.2 1417.1,1889 1421.9,1872.2 1426.6,1854 1431.1,1845.6 1435.9,1845.6 1440.6,1849.8 1445.1,1855.4 1449.9,1849.8 1454.6,1841.4 1459.7,1838.6 1464.4,1844.2 1469.5,1842.8 1473.7,1849.8 1478.4,1858.2 1482.9,1865.2 1487.7,1873.6 1493.3,1883.4 1497.5,1890.4 1502.2,1890.4 1507.3,1890.4 1512.9,1889 1518.5,1889 1524.1,1886.2 1528,1884 1534.6,1883.4 1541.6,1884.8 1550,1884.8 1558.4,1885.7 1566.8,1885.7 1573,1888.5 1578,1890.4 1583.6,1885.7 1592,1884.8 1601.8,1886.8 1611.6,1889 1620,1891.3 1628.4,1891.3 1636.8,1890.4 1642.4,1884.8 1646.6,1877.8 1650.8,1870.8 1655,1866.6 1659.2,1864.4 1663.4,1863.3 1668.2,1861 1671.8,1852.6 1677.4,1844.2 1682.2,1841.4 1687.2,1830.2 1691.4,1816.2 1696.2,1802.2 1701.2,1805 1706,1795.2 1710.2,1788.2 1715.2,1785.4 1720.3,1789.6 1725,1802.2 1729.8,1810.6 1734.3,1821.8 1739,1838.6 1743.8,1842.8 1748.3,1855.4 1753,1866.6 1758.1,1858.2 1762.8,1854 1767.6,1850.4 1772.1,1855.4 1776.8,1852.6 1781,1827.4 1785.2,1805 1789.4,1791 1795.9,1777 1800.6,1782.6 1805.7,1782.6 1810.4,1777 1814.6,1770.9 1820.2,1779.8 1825,1778.4 1829.5,1777 1834.3,1772.8 1839,1788.2 1843.5,1805 1848.3,1821.8 1853,1835.8 1857.5,1835.8 1862.3,1842.8 1867,1854 1872.1,1872.2 1876.8,1890.4 1881.3,1882 1886.1,1875 1891.1,1876.4 1895.9,1878.4 1900.6,1880.1 1905.1,1881.2 1909.9,1880.6 1914.6,1861 1919.7,1854 1924.4,1852.1 1929.5,1827.4 1933.7,1799.4 1938.4,1789.6 1942.9,1793.8 1947.7,1788.2 1952.4,1782.6 1956.9,1788.2 1961.7,1783.2 1966.7,1793.8 1971.5,1810.6 1976.2,1824.1 1981.3,1835.8 1985.5,1845.6 1990.2,1838.6 1995.3,1840 1999.5,1833 2002,1830.2" fill="none" stroke="#d01c32" stroke-width="3.9" stroke-linejoin="round"/><polyline clip-path="url(#pc2)" points="103.4,1883.4 105.6,1883.4 109.8,1869.4 114,1859.6 118.2,1855.4 123,1852.1 128,1849.8 133,1854.9 137.8,1854.9 142,1855.4 147,1851.2 150.4,1805 153.2,1771.4 156,1757.4 160.2,1767.2 165.3,1765.8 170,1781.2 175.1,1781.2 179.8,1774.2 184.6,1764.4 189.1,1784 193.8,1796.6 198,1819 203.6,1835.8 208.4,1837.2 212.9,1835.8 217.6,1838.6 222.4,1844.2 226.9,1845.6 231.6,1849.8 236.7,1841.4 241.4,1842.8 246.2,1845.6 251.2,1838.6 256,1835.8 261,1834.4 265.2,1851.2 270,1849.8 274.5,1852.6 279.2,1844.2 284,1843.7 288.2,1838.6 293.2,1813.4 298.3,1789.6 303,1789.6 307.8,1800.8 312.8,1794.4 317,1812 321.8,1809.2 326.3,1819 331,1830.2 336.1,1833 340.8,1842.8 345.6,1852.6 350.1,1863.8 354.8,1855.4 359.9,1858.2 364.6,1852.6 369.4,1833 373.9,1812 378.6,1812 383.7,1802.2 388.4,1789.6 393.5,1800.8 398.2,1802.2 403,1810.6 407.5,1819 412.3,1827.4 417,1816.2 421.5,1807.8 426.3,1802.2 431,1798 435.5,1796.1 440.3,1793.8 445.9,1791 450.1,1805 454.8,1824.6 459.3,1838.6 464.1,1851.2 469.1,1853.2 473.9,1845.6 478.6,1841.4 483.1,1836.4 487.9,1836.4 492.9,1836.4 497.7,1844.2 502.4,1861 507.5,1866.6 511.7,1869.4 517.3,1876.4 521.5,1883.4 525.7,1888.5 531.3,1890.4 539.7,1890.4 548.1,1890.4 556.5,1888.5 564.9,1884.8 573.3,1882 580,1881.5 582.4,1881.5 589.4,1879.2 596.4,1876.4 604.8,1875 613.2,1872.2 620.2,1869.4 630,1866.6 638.4,1865.2 645.4,1866.1 649.6,1863.8 653.8,1856.8 658,1849.8 663.6,1842.8 669.2,1837.2 677.1,1834.4 683.2,1836.4 688.8,1839.2 694.4,1842.8 701.4,1851.2 708.4,1854 718.2,1855.4 725.2,1859.1 730.8,1859.1 740.6,1857.4 749,1857.7 756,1856.8 763,1856 770,1859.6 777,1862.4 785.4,1865.2 792.4,1870.8 799.4,1875 805,1877.8 812,1876.4 819,1875 826,1873.6 834.4,1872.2 842.8,1872.2 851.2,1873.6 858.2,1877.3 866.6,1880.1 873.6,1882 882.1,1885.7 890.5,1889.9 898.9,1891.3 910.1,1891.3 924.1,1890.4 938.1,1890.4 949.3,1891.3 953.5,1890.4 957.7,1875 962.7,1849.8 967.5,1830.2 971.7,1817.6 977.3,1807.8 981.5,1802.2 985.7,1802.2 990.4,1800 995.5,1805 999.7,1802.2 1004.4,1805 1008.9,1812 1013.7,1802.2 1018.7,1808.4 1023.5,1801.7 1028.2,1800 1033.3,1807.8 1037.5,1809.2 1042.2,1805.6 1047.3,1808.4 1051.5,1814.8 1054,1820.4 1056.4,1823.2 1061.4,1831.6 1066.2,1825.2 1071,1826.9 1075.4,1828.8 1080.2,1835.8 1085,1840 1089.4,1843.7 1094.2,1852.1 1099,1859.6 1104,1852.1 1108.8,1849.3 1113.8,1847.6 1118,1850.4 1123.1,1856.8 1127.8,1841.4 1132.6,1829.7 1137.1,1829.7 1141.8,1830.2 1146.6,1838.6 1151.6,1849.8 1156.4,1859.6 1160.9,1852.1 1165.6,1850.4 1170.4,1837.2 1174.9,1838.1 1179.6,1828 1184.7,1823.2 1189.4,1807.8 1194.2,1798.9 1198.7,1803.6 1203.4,1813.4 1208.2,1837.2 1213.2,1832.5 1218,1837.2 1222.5,1843.7 1227.2,1847 1232,1835.3 1237,1834.4 1241.2,1835.3 1245.4,1805 1249.6,1774.2 1254.7,1764.4 1260.3,1762.5 1263.6,1782.6 1267.8,1805 1272,1827.4 1276.2,1845.6 1280.4,1855.4 1284.6,1861 1288.8,1854 1293.6,1856.8 1298.1,1847 1302.8,1841.4 1307.9,1844.2 1312.6,1845.6 1317.4,1851.2 1321.9,1856.8 1326.6,1861.9 1331.7,1866.6 1336.4,1870.3 1341.5,1870.8 1346.2,1870.8 1351,1855.4 1355.5,1847.6 1360.3,1854 1364.5,1859.6 1369.5,1864.4 1374.3,1868 1379,1869.4 1383.5,1873.1 1388.3,1876.4 1393,1872.2 1398.1,1871.7 1402.8,1875 1407.3,1876.4 1412.1,1876.4 1417.1,1878.4 1421.9,1876.4 1426.6,1866.6 1431.1,1855.4 1435.9,1845.6 1440.6,1840 1445.1,1836.4 1449.9,1842.8 1454.6,1844.2 1459.7,1844.2 1464.4,1844.2 1469.5,1847 1473.7,1851.2 1478.4,1856.8 1482.9,1863.8 1487.7,1872.2 1492.7,1877.8 1497.5,1882 1502.2,1881.2 1507.3,1880.6 1512.9,1879.2 1518.5,1877.8 1524.1,1876.4 1528,1875 1534.6,1869.4 1540.2,1870.8 1545.8,1873.6 1550,1876.4 1555.6,1878.4 1562.6,1880.6 1568.2,1883.4 1573.8,1886.2 1580.8,1887.1 1589.2,1886.2 1597.6,1885.4 1606,1885.4 1614.4,1886.2 1620,1886.8 1625.6,1884.8 1632.6,1882 1636.8,1879.2 1641,1869.4 1643.8,1855.4 1646.6,1833 1649.4,1810.6 1653.6,1788.2 1657.8,1768.6 1662,1749 1666.2,1735 1670.4,1734.5 1674.6,1737.3 1678.8,1733.6 1682.2,1732.2 1687.2,1742 1691.4,1754.6 1696.2,1770.9 1701.2,1769.2 1706,1789.6 1710.2,1803.6 1715.2,1816.2 1720.3,1830.2 1725,1843.7 1729.8,1844.2 1734.8,1845.6 1739,1851.2 1743.8,1858.2 1748.3,1865.2 1753,1870.8 1758.1,1875 1762.8,1877.8 1767.6,1878.4 1772.1,1877.8 1776.8,1877.3 1781,1868 1786.6,1866.6 1791.4,1865.2 1795.9,1866.6 1800.6,1858.2 1805.7,1854 1810.4,1856.8 1814.6,1862.4 1820.2,1855.4 1825,1853.2 1829.5,1852.6 1834.3,1856.8 1838.5,1849.8 1843.5,1838.6 1848.3,1824.6 1853,1815.7 1857.5,1819 1862.3,1816.8 1867,1812.9 1872.1,1805 1876.8,1796.6 1881.3,1785.4 1886.1,1774.8 1891.1,1766.4 1895.9,1757.4 1900.6,1747.6 1905.1,1737.8 1909.9,1732.2 1914.6,1735.6 1919.1,1733.6 1923.9,1729.4 1928.6,1737.8 1933.1,1763 1938.4,1767.2 1942.9,1763 1947.7,1768.6 1952.4,1772.8 1956.9,1770.9 1961.7,1777 1966.7,1773.7 1971.5,1765.8 1976.2,1760.2 1980.7,1756.9 1985.5,1756 1990.2,1774.2 1995.3,1784 1999.5,1793.8" fill="none" stroke="#7678b0" stroke-width="3.9" stroke-linejoin="round"/><polyline clip-path="url(#pc2)" points="103.4,1855.4 105.6,1855.4 109.8,1865.2 114,1873.6 118.2,1880.6 123,1885.7 128,1887.1 136.4,1888.5 146.2,1890.4 156,1889.9 165.8,1887.1 174.2,1883.4 181.2,1880.6 185.4,1877.8 189.6,1866.6 193.8,1858.2 198.6,1844.2 203.6,1839.2 208.4,1837.2 212.9,1834.4 217.6,1830.2 222.4,1835.8 226.9,1841.4 231.6,1848.4 236.7,1852.6 241.4,1851.2 246.2,1847.6 251.2,1848.4 256,1844.2 261,1840 265.2,1854 269.4,1862.4 275,1865.2 279.2,1866.6 284,1867.2 289,1872.2 293.2,1877.3 298.3,1880.6 303,1882.9 312.8,1880.6 321.2,1882.9 329.6,1883.4 338,1884.8 346.4,1884.8 354.8,1884 363.2,1882.9 371.6,1880.6 378.6,1877.3 385.6,1873.6 391.2,1869.4 396.8,1863.8 402.5,1858.2 407.5,1838.6 412.3,1819 417,1806.4 421.5,1819 426.3,1827.4 431,1833 435.5,1838.1 440.3,1842.8 445.9,1844.8 450.1,1841.4 454.8,1835.8 459.3,1828.8 464.1,1820.4 469.1,1814.8 473.9,1810.6 478.6,1812 483.1,1815.7 487.9,1824.6 492.9,1834.4 497.7,1838.6 502.4,1838.1 507.5,1839.2 511.7,1841.4 517.3,1843.7 522.9,1845.6 528.5,1847 535.5,1849.3 542.5,1847.6 549.5,1848.4 556.5,1854 564.9,1860.5 573.3,1865.2 580,1867.2 582.4,1868 590.8,1868.9 599.2,1871.7 607.6,1874.5 618.8,1877.8 630,1880.1 641.2,1882 652.4,1882.9 663.6,1883.4 674.8,1884.8 686,1884.8 700,1884.8 714,1884.8 725.2,1883.4 736.4,1884 747.6,1884 758.8,1884.8 770,1885.4 784,1885.4 798,1884.8 812,1884.8 826,1886.2 840,1886.8 854,1888.2 868,1889 882.1,1889.9 896.1,1890.4 910.1,1890.4 924.1,1890.4 938.1,1891.3 949.3,1891.3 954.9,1890.4 963.3,1888.5 974.5,1887.6 985.7,1885.7 994.1,1884 1002.5,1882.9 1013.7,1882 1019.3,1874.5 1023.5,1868 1029.1,1863.8 1033.3,1861 1038.9,1858.2 1044.5,1854 1050.1,1854 1054,1852.6 1056.4,1849.8 1061.4,1842 1066.2,1850.4 1071,1858.2 1076,1863.8 1080.2,1866.6 1085,1866.6 1089.4,1864.4 1094.2,1868.9 1099,1873.6 1104,1878.4 1108.8,1882.9 1113.8,1887.6 1123.6,1889.6 1137.6,1890.4 1151.6,1889.6 1162.8,1888.5 1174,1885.7 1182.4,1883.4 1189.4,1881.5 1193.6,1880.6 1199.2,1877.3 1204,1872.2 1209,1870 1213.2,1868 1218,1863.8 1222.5,1860.5 1227.2,1861 1232,1863.3 1236.2,1862.4 1241.2,1858.2 1245.4,1849.8 1251,1840 1255.8,1845.6 1260.8,1845.6 1265.9,1852.1 1270.6,1856.8 1276.2,1860.5 1281.8,1862.4 1288.8,1866.6 1294.4,1871.7 1301.4,1877.3 1308.4,1877.3 1316.8,1876.4 1323.8,1872.8 1330.8,1868 1336.4,1863.3 1342,1858.2 1346.2,1854 1351,1849.8 1355.5,1844.8 1360.3,1842.8 1365,1838.1 1369.5,1827.4 1374.3,1813.4 1379,1802.2 1383.5,1792.4 1388.3,1786.8 1393,1784 1398.1,1777 1402.3,1749 1407.3,1744.8 1412.1,1742.9 1417.1,1735 1421.9,1754.6 1426.6,1774.2 1431.1,1792.4 1435.9,1807.8 1440.6,1821.8 1445.1,1831.6 1449.9,1834.4 1454.6,1838.6 1459.7,1844.2 1464.4,1848.4 1469.5,1851.2 1473.7,1854 1478.4,1856 1482.9,1858.2 1487.7,1860.5 1493.3,1861.6 1498.9,1863.8 1504.5,1866.6 1510.1,1869.4 1518.5,1873.6 1528,1876.4 1530.4,1877.8 1538.8,1880.6 1550,1882.9 1561.2,1883.4 1572.4,1882.9 1583.6,1881.2 1594.8,1880.1 1606,1879.2 1617.2,1878.4 1628.4,1877.8 1636.8,1876.4 1642.4,1876.4 1648,1877.8 1655,1880.6 1662,1882.9 1670.4,1884.8 1678.8,1886.2 1687.2,1886.2 1694.2,1884.8 1701.2,1882 1706.8,1875 1712.4,1861 1718,1849.8 1720.8,1833 1725,1805 1729.8,1791 1734.8,1777 1739,1765.8 1743.8,1751.8 1748.3,1735 1753,1713.2 1758.1,1712.6 1762.8,1716.8 1767.6,1718.8 1772.1,1714 1776.8,1719.6 1781,1754.6 1786.6,1779.8 1791.4,1793.8 1795.9,1800.8 1800.6,1807.8 1805.7,1813.4 1810.4,1816.2 1816,1816.8 1820.2,1819 1825,1824.1 1829.5,1827.4 1834.3,1827.4 1838.5,1826.9 1843.5,1827.4 1848.3,1828.8 1853,1830.2 1857.5,1831.6 1862.3,1831.6 1867,1831.6 1872.1,1829.7 1876.3,1827.4 1881.3,1835.8 1886.1,1844.2 1891.1,1849.3 1895.9,1853.2 1900.6,1856.8 1905.1,1861 1909.9,1864.4 1914.6,1868 1919.7,1871.7 1924.4,1875 1929.5,1879.2 1933.7,1882.6 1939.3,1884.8 1947.7,1886.2 1958.9,1886.8 1970.1,1885.7 1978.5,1884.8 1984.1,1884.3 1988.3,1881.2 1992.5,1878.4 1998.1,1877.3 2002,1877.3" fill="none" stroke="#c88490" stroke-width="3.9" stroke-linejoin="round"/><line x1="104.4" y1="51.4" x2="104.4" y2="300" stroke="#231f20" stroke-width="2.8"/><line x1="103" y1="298.6" x2="2000.6" y2="298.6" stroke="#231f20" stroke-width="2.8"/><line x1="91.4" y1="78.5" x2="104.4" y2="78.5" stroke="#231f20" stroke-width="2.8"/><line x1="91.4" y1="273.3" x2="104.4" y2="273.3" stroke="#231f20" stroke-width="2.8"/><line x1="104.4" y1="298.6" x2="104.4" y2="311.6" stroke="#231f20" stroke-width="2.8"/><line x1="341.2" y1="298.6" x2="341.2" y2="311.6" stroke="#231f20" stroke-width="2.8"/><line x1="578.1" y1="298.6" x2="578.1" y2="311.6" stroke="#231f20" stroke-width="2.8"/><line x1="815" y1="298.6" x2="815" y2="311.6" stroke="#231f20" stroke-width="2.8"/><line x1="1051.8" y1="298.6" x2="1051.8" y2="311.6" stroke="#231f20" stroke-width="2.8"/><line x1="1288.7" y1="298.6" x2="1288.7" y2="311.6" stroke="#231f20" stroke-width="2.8"/><line x1="1525.5" y1="298.6" x2="1525.5" y2="311.6" stroke="#231f20" stroke-width="2.8"/><line x1="1762.4" y1="298.6" x2="1762.4" y2="311.6" stroke="#231f20" stroke-width="2.8"/><line x1="1999.2" y1="298.6" x2="1999.2" y2="311.6" stroke="#231f20" stroke-width="2.8"/><line x1="104.4" y1="371.3" x2="104.4" y2="618.8" stroke="#231f20" stroke-width="2.8"/><line x1="103" y1="617.4" x2="2000.6" y2="617.4" stroke="#231f20" stroke-width="2.8"/><line x1="91.4" y1="374.3" x2="104.4" y2="374.3" stroke="#231f20" stroke-width="2.8"/><line x1="91.4" y1="615.3" x2="104.4" y2="615.3" stroke="#231f20" stroke-width="2.8"/><line x1="104.4" y1="617.4" x2="104.4" y2="630.4" stroke="#231f20" stroke-width="2.8"/><line x1="341.2" y1="617.4" x2="341.2" y2="630.4" stroke="#231f20" stroke-width="2.8"/><line x1="578.1" y1="617.4" x2="578.1" y2="630.4" stroke="#231f20" stroke-width="2.8"/><line x1="815" y1="617.4" x2="815" y2="630.4" stroke="#231f20" stroke-width="2.8"/><line x1="1051.8" y1="617.4" x2="1051.8" y2="630.4" stroke="#231f20" stroke-width="2.8"/><line x1="1288.7" y1="617.4" x2="1288.7" y2="630.4" stroke="#231f20" stroke-width="2.8"/><line x1="1525.5" y1="617.4" x2="1525.5" y2="630.4" stroke="#231f20" stroke-width="2.8"/><line x1="1762.4" y1="617.4" x2="1762.4" y2="630.4" stroke="#231f20" stroke-width="2.8"/><line x1="1999.2" y1="617.4" x2="1999.2" y2="630.4" stroke="#231f20" stroke-width="2.8"/><line x1="104.4" y1="689.9" x2="104.4" y2="938.5" stroke="#231f20" stroke-width="2.8"/><line x1="103" y1="937.1" x2="2000.6" y2="937.1" stroke="#231f20" stroke-width="2.8"/><line x1="91.4" y1="717" x2="104.4" y2="717" stroke="#231f20" stroke-width="2.8"/><line x1="91.4" y1="911.8" x2="104.4" y2="911.8" stroke="#231f20" stroke-width="2.8"/><line x1="104.4" y1="937.1" x2="104.4" y2="950.1" stroke="#231f20" stroke-width="2.8"/><line x1="341.2" y1="937.1" x2="341.2" y2="950.1" stroke="#231f20" stroke-width="2.8"/><line x1="578.1" y1="937.1" x2="578.1" y2="950.1" stroke="#231f20" stroke-width="2.8"/><line x1="815" y1="937.1" x2="815" y2="950.1" stroke="#231f20" stroke-width="2.8"/><line x1="1051.8" y1="937.1" x2="1051.8" y2="950.1" stroke="#231f20" stroke-width="2.8"/><line x1="1288.7" y1="937.1" x2="1288.7" y2="950.1" stroke="#231f20" stroke-width="2.8"/><line x1="1525.5" y1="937.1" x2="1525.5" y2="950.1" stroke="#231f20" stroke-width="2.8"/><line x1="1762.4" y1="937.1" x2="1762.4" y2="950.1" stroke="#231f20" stroke-width="2.8"/><line x1="1999.2" y1="937.1" x2="1999.2" y2="950.1" stroke="#231f20" stroke-width="2.8"/><line x1="104.4" y1="1009.8" x2="104.4" y2="1257.3" stroke="#231f20" stroke-width="2.8"/><line x1="103" y1="1255.9" x2="2000.6" y2="1255.9" stroke="#231f20" stroke-width="2.8"/><line x1="91.4" y1="1012.8" x2="104.4" y2="1012.8" stroke="#231f20" stroke-width="2.8"/><line x1="91.4" y1="1253.8" x2="104.4" y2="1253.8" stroke="#231f20" stroke-width="2.8"/><line x1="104.4" y1="1255.9" x2="104.4" y2="1268.9" stroke="#231f20" stroke-width="2.8"/><line x1="341.2" y1="1255.9" x2="341.2" y2="1268.9" stroke="#231f20" stroke-width="2.8"/><line x1="578.1" y1="1255.9" x2="578.1" y2="1268.9" stroke="#231f20" stroke-width="2.8"/><line x1="815" y1="1255.9" x2="815" y2="1268.9" stroke="#231f20" stroke-width="2.8"/><line x1="1051.8" y1="1255.9" x2="1051.8" y2="1268.9" stroke="#231f20" stroke-width="2.8"/><line x1="1288.7" y1="1255.9" x2="1288.7" y2="1268.9" stroke="#231f20" stroke-width="2.8"/><line x1="1525.5" y1="1255.9" x2="1525.5" y2="1268.9" stroke="#231f20" stroke-width="2.8"/><line x1="1762.4" y1="1255.9" x2="1762.4" y2="1268.9" stroke="#231f20" stroke-width="2.8"/><line x1="1999.2" y1="1255.9" x2="1999.2" y2="1268.9" stroke="#231f20" stroke-width="2.8"/><line x1="104.4" y1="1328.4" x2="104.4" y2="1577" stroke="#231f20" stroke-width="2.8"/><line x1="103" y1="1575.6" x2="2000.6" y2="1575.6" stroke="#231f20" stroke-width="2.8"/><line x1="91.4" y1="1355.5" x2="104.4" y2="1355.5" stroke="#231f20" stroke-width="2.8"/><line x1="91.4" y1="1550.3" x2="104.4" y2="1550.3" stroke="#231f20" stroke-width="2.8"/><line x1="104.4" y1="1575.6" x2="104.4" y2="1588.6" stroke="#231f20" stroke-width="2.8"/><line x1="341.2" y1="1575.6" x2="341.2" y2="1588.6" stroke="#231f20" stroke-width="2.8"/><line x1="578.1" y1="1575.6" x2="578.1" y2="1588.6" stroke="#231f20" stroke-width="2.8"/><line x1="815" y1="1575.6" x2="815" y2="1588.6" stroke="#231f20" stroke-width="2.8"/><line x1="1051.8" y1="1575.6" x2="1051.8" y2="1588.6" stroke="#231f20" stroke-width="2.8"/><line x1="1288.7" y1="1575.6" x2="1288.7" y2="1588.6" stroke="#231f20" stroke-width="2.8"/><line x1="1525.5" y1="1575.6" x2="1525.5" y2="1588.6" stroke="#231f20" stroke-width="2.8"/><line x1="1762.4" y1="1575.6" x2="1762.4" y2="1588.6" stroke="#231f20" stroke-width="2.8"/><line x1="1999.2" y1="1575.6" x2="1999.2" y2="1588.6" stroke="#231f20" stroke-width="2.8"/><line x1="104.4" y1="1648.3" x2="104.4" y2="1895.8" stroke="#231f20" stroke-width="2.8"/><line x1="103" y1="1894.4" x2="2000.6" y2="1894.4" stroke="#231f20" stroke-width="2.8"/><line x1="91.4" y1="1651.3" x2="104.4" y2="1651.3" stroke="#231f20" stroke-width="2.8"/><line x1="91.4" y1="1892.3" x2="104.4" y2="1892.3" stroke="#231f20" stroke-width="2.8"/><line x1="104.4" y1="1894.4" x2="104.4" y2="1907.4" stroke="#231f20" stroke-width="2.8"/><line x1="341.2" y1="1894.4" x2="341.2" y2="1907.4" stroke="#231f20" stroke-width="2.8"/><line x1="578.1" y1="1894.4" x2="578.1" y2="1907.4" stroke="#231f20" stroke-width="2.8"/><line x1="815" y1="1894.4" x2="815" y2="1907.4" stroke="#231f20" stroke-width="2.8"/><line x1="1051.8" y1="1894.4" x2="1051.8" y2="1907.4" stroke="#231f20" stroke-width="2.8"/><line x1="1288.7" y1="1894.4" x2="1288.7" y2="1907.4" stroke="#231f20" stroke-width="2.8"/><line x1="1525.5" y1="1894.4" x2="1525.5" y2="1907.4" stroke="#231f20" stroke-width="2.8"/><line x1="1762.4" y1="1894.4" x2="1762.4" y2="1907.4" stroke="#231f20" stroke-width="2.8"/><line x1="1999.2" y1="1894.4" x2="1999.2" y2="1907.4" stroke="#231f20" stroke-width="2.8"/><text x="1051.3" y="30.4" font-family="'DejaVu Sans', sans-serif" font-size="37.7" font-weight="normal" fill="#231f20" text-anchor="middle">Example session 1</text><text x="1051.3" y="668.9" font-family="'DejaVu Sans', sans-serif" font-size="37.7" font-weight="normal" fill="#231f20" text-anchor="middle">Example session 2</text><text x="1051.3" y="1307.4" font-family="'DejaVu Sans', sans-serif" font-size="37.7" font-weight="normal" fill="#231f20" text-anchor="middle">Example session 3</text><text transform="translate(0.8,34.1) scale(0.920,1)" font-family="'Liberation Sans', Arial, sans-serif" font-size="46.36" font-weight="bold" fill="#231f20">a</text><text transform="translate(28.5,30.8) scale(0.942,1)" font-family="'Liberation Sans', Arial, sans-serif" font-size="42.46" font-weight="bold" fill="#231f20">)</text><text transform="translate(52.1,92.8) scale(0.912,1)" font-family="'Liberation Sans', Arial, sans-serif" font-size="40.1" fill="#231f20">R</text><text transform="translate(57.3,287.6) scale(0.972,1)" font-family="'Liberation Sans', Arial, sans-serif" font-size="39.7" fill="#231f20">L</text><text transform="translate(28.7,236.9) rotate(-90)" font-family="'Liberation Sans', Arial, sans-serif" font-size="40.5" fill="#231f20" textLength="122.1" lengthAdjust="spacingAndGlyphs">choice</text><text transform="translate(30.8,568.6) rotate(-90)" font-family="'Liberation Sans', Arial, sans-serif" font-size="40.3" fill="#231f20" textLength="147.6" lengthAdjust="spacingAndGlyphs">p(state)</text><text x="910.4" y="355" font-family="'Liberation Sans', Arial, sans-serif" font-size="38.3" font-weight="normal" fill="#231f20" text-anchor="start">trial</text><text x="104.4" y="348.4" font-family="'DejaVu Sans', sans-serif" font-size="30.7" font-weight="normal" fill="#231f20" text-anchor="middle">0</text><text x="341.2" y="348.4" font-family="'DejaVu Sans', sans-serif" font-size="30.7" font-weight="normal" fill="#231f20" text-anchor="middle">50</text><text x="578.1" y="348.4" font-family="'DejaVu Sans', sans-serif" font-size="30.7" font-weight="normal" fill="#231f20" text-anchor="middle">100</text><text x="815" y="348.4" font-family="'DejaVu Sans', sans-serif" font-size="30.7" font-weight="normal" fill="#231f20" text-anchor="middle">150</text><text x="1051.8" y="348.4" font-family="'DejaVu Sans', sans-serif" font-size="30.7" font-weight="normal" fill="#231f20" text-anchor="middle">200</text><text x="1288.7" y="348.4" font-family="'DejaVu Sans', sans-serif" font-size="30.7" font-weight="normal" fill="#231f20" text-anchor="middle">250</text><text x="1525.5" y="348.4" font-family="'DejaVu Sans', sans-serif" font-size="30.7" font-weight="normal" fill="#231f20" text-anchor="middle">300</text><text x="1762.4" y="348.4" font-family="'DejaVu Sans', sans-serif" font-size="30.7" font-weight="normal" fill="#231f20" text-anchor="middle">350</text><text x="1999.2" y="348.4" font-family="'DejaVu Sans', sans-serif" font-size="30.7" font-weight="normal" fill="#231f20" text-anchor="middle">400</text><text x="66.3" y="388.7" font-family="'DejaVu Sans', sans-serif" font-size="37.5" font-weight="normal" fill="#231f20" text-anchor="middle">1</text><text x="66.1" y="629.8" font-family="'DejaVu Sans', sans-serif" font-size="37.5" font-weight="normal" fill="#231f20" text-anchor="middle">0</text><rect x="1741.9" y="185.8" width="242.9" height="97.8" rx="4.5" fill="#fff" fill-opacity="0.72" stroke="#d0d3d4" stroke-width="3.9"/><circle cx="1783.9" cy="210" r="5.75" fill="#727b80" fill-opacity="0.5"/><circle cx="1783.9" cy="254.7" r="5.75" fill="#eb8901" fill-opacity="0.5"/><text x="1837.6" y="220.9" font-family="'DejaVu Sans', sans-serif" font-size="30.6" font-weight="normal" fill="#231f20" text-anchor="start">Correct</text><text x="1836.4" y="264.3" font-family="'DejaVu Sans', sans-serif" font-size="30.6" font-weight="normal" fill="#231f20" text-anchor="start">Incorrect</text><rect x="1809" y="370.8" width="193" height="130.6" rx="4.5" fill="#f6f6f6" fill-opacity="0.9" stroke="#d0d3d4" stroke-width="3.7"/><clipPath id="legc"><rect x="1810.5" y="371.8" width="189.8" height="127.7"/></clipPath><polyline clip-path="url(#legc)" points="1790.8,543.4 1795,561.6 1800.6,575.6 1804.8,564.4 1809,568.6 1814.6,567.2 1818.8,568.6 1824.5,575.6 1828.7,589.1 1832.9,578.4 1837.1,542 1839.9,511.2 1842.7,488.8 1846.9,466.4 1852.5,444 1858.1,428.6 1863.7,418.8 1869.3,413.2 1876.3,408.2 1881.9,424.4 1886.1,444 1890.3,456.6 1894.5,459.4 1898.7,446.8 1904.3,434.2 1911.3,416 1916.9,410.4 1922.5,406.2 1930.9,403.4 1939.3,404.8 1947.7,404.2 1956.1,403.4 1963.1,402 1971.5,401.4 1977.1,418.8 1982.7,427.2 1989.7,435.6 1993.9,452.4 1998.1,472 2002,483.2" fill="none" stroke="#eac3b5" stroke-width="3.9" stroke-linejoin="round"/><line x1="1815.3" y1="387.8" x2="1861.9" y2="387.8" stroke="#3e5caa" stroke-width="4"/><text x="1875.9" y="395.3" font-family="'DejaVu Sans', sans-serif" font-size="21.4" font-weight="normal" fill="#231f20" text-anchor="start">Engaged-L</text><line x1="1815.3" y1="419" x2="1861.9" y2="419" stroke="#d5322f" stroke-width="4"/><text x="1875.9" y="426.5" font-family="'DejaVu Sans', sans-serif" font-size="21.4" font-weight="normal" fill="#231f20" text-anchor="start">Engaged-R</text><line x1="1815.3" y1="450.1" x2="1861.9" y2="450.1" stroke="#777bb3" stroke-width="4"/><text x="1875.9" y="457.6" font-family="'DejaVu Sans', sans-serif" font-size="21.4" font-weight="normal" fill="#231f20" text-anchor="start">Biased-L</text><line x1="1815.3" y1="481.3" x2="1861.9" y2="481.3" stroke="#cd8896" stroke-width="4"/><text x="1875.9" y="488.8" font-family="'DejaVu Sans', sans-serif" font-size="21.4" font-weight="normal" fill="#231f20" text-anchor="start">Biased-R</text><rect x="208.3" y="2208.7" width="24.9" height="232.4" fill="#007d41"/><rect x="239.1" y="2207.8" width="24.9" height="233.3" fill="#007d41"/><rect x="269.9" y="2166.8" width="24.9" height="274.3" fill="#007d41"/><rect x="300.7" y="2105.1" width="24.9" height="336" fill="#007d41"/><rect x="331.5" y="2100.8" width="24.9" height="340.3" fill="#007d41"/><rect x="362.3" y="2071.4" width="24.9" height="369.7" fill="#007d41"/><rect x="393.1" y="2085" width="24.9" height="356.1" fill="#007d41"/><rect x="423.9" y="2098.2" width="24.9" height="342.9" fill="#007d41"/><rect x="454.7" y="2136.9" width="24.9" height="304.2" fill="#007d41"/><rect x="485.5" y="2159.2" width="24.9" height="281.9" fill="#007d41"/><rect x="516.3" y="2174.1" width="24.9" height="267" fill="#007d41"/><rect x="547.1" y="2197" width="24.9" height="244.1" fill="#007d41"/><rect x="577.9" y="2197" width="24.9" height="244.1" fill="#007d41"/><rect x="608.7" y="2211.8" width="24.9" height="229.3" fill="#007d41"/><rect x="639.5" y="2237" width="24.9" height="204.1" fill="#007d41"/><rect x="670.3" y="2257.2" width="24.9" height="183.9" fill="#007d41"/><rect x="701.1" y="2257.5" width="24.9" height="183.6" fill="#007d41"/><rect x="731.9" y="2288.8" width="24.9" height="152.3" fill="#007d41"/><rect x="762.7" y="2290.2" width="24.9" height="150.9" fill="#007d41"/><rect x="793.5" y="2295.3" width="24.9" height="145.8" fill="#007d41"/><line x1="454.7" y1="2052.9" x2="454.7" y2="2441.1" stroke="#231f20" stroke-width="5.3" stroke-dasharray="19 9.07" stroke-dashoffset="23.72"/><line x1="362.3" y1="2052.9" x2="362.3" y2="2441.1" stroke="#231f20" stroke-width="5.3" stroke-dasharray="33.6 8.4 5.3 8.4" stroke-dashoffset="37.45"/><rect x="177.5" y="2052.9" width="646.8" height="388.2" fill="none" stroke="#231f20" stroke-width="2.8"/><line x1="177.5" y1="2441.1" x2="177.5" y2="2454.1" stroke="#231f20" stroke-width="2.8"/><text x="177.5" y="2493" font-family="'DejaVu Sans', sans-serif" font-size="34.2" font-weight="normal" fill="#231f20" text-anchor="middle">0</text><line x1="239.1" y1="2441.1" x2="239.1" y2="2454.1" stroke="#231f20" stroke-width="2.8"/><text x="239.1" y="2493" font-family="'DejaVu Sans', sans-serif" font-size="34.2" font-weight="normal" fill="#231f20" text-anchor="middle">2</text><line x1="300.7" y1="2441.1" x2="300.7" y2="2454.1" stroke="#231f20" stroke-width="2.8"/><text x="300.7" y="2493" font-family="'DejaVu Sans', sans-serif" font-size="34.2" font-weight="normal" fill="#231f20" text-anchor="middle">4</text><line x1="362.3" y1="2441.1" x2="362.3" y2="2454.1" stroke="#231f20" stroke-width="2.8"/><text x="362.3" y="2493" font-family="'DejaVu Sans', sans-serif" font-size="34.2" font-weight="normal" fill="#231f20" text-anchor="middle">6</text><line x1="423.9" y1="2441.1" x2="423.9" y2="2454.1" stroke="#231f20" stroke-width="2.8"/><text x="423.9" y="2493" font-family="'DejaVu Sans', sans-serif" font-size="34.2" font-weight="normal" fill="#231f20" text-anchor="middle">8</text><line x1="485.5" y1="2441.1" x2="485.5" y2="2454.1" stroke="#231f20" stroke-width="2.8"/><text x="485.5" y="2493" font-family="'DejaVu Sans', sans-serif" font-size="34.2" font-weight="normal" fill="#231f20" text-anchor="middle">10</text><line x1="547.1" y1="2441.1" x2="547.1" y2="2454.1" stroke="#231f20" stroke-width="2.8"/><text x="547.1" y="2493" font-family="'DejaVu Sans', sans-serif" font-size="34.2" font-weight="normal" fill="#231f20" text-anchor="middle">12</text><line x1="608.7" y1="2441.1" x2="608.7" y2="2454.1" stroke="#231f20" stroke-width="2.8"/><text x="608.7" y="2493" font-family="'DejaVu Sans', sans-serif" font-size="34.2" font-weight="normal" fill="#231f20" text-anchor="middle">14</text><line x1="670.3" y1="2441.1" x2="670.3" y2="2454.1" stroke="#231f20" stroke-width="2.8"/><text x="670.3" y="2493" font-family="'DejaVu Sans', sans-serif" font-size="34.2" font-weight="normal" fill="#231f20" text-anchor="middle">16</text><line x1="731.9" y1="2441.1" x2="731.9" y2="2454.1" stroke="#231f20" stroke-width="2.8"/><text x="731.9" y="2493" font-family="'DejaVu Sans', sans-serif" font-size="34.2" font-weight="normal" fill="#231f20" text-anchor="middle">18</text><line x1="793.5" y1="2441.1" x2="793.5" y2="2454.1" stroke="#231f20" stroke-width="2.8"/><text x="793.5" y="2493" font-family="'DejaVu Sans', sans-serif" font-size="34.2" font-weight="normal" fill="#231f20" text-anchor="middle">20</text><line x1="164.5" y1="2441.1" x2="177.5" y2="2441.1" stroke="#231f20" stroke-width="2.8"/><text x="150.3" y="2453.7" font-family="'DejaVu Sans', sans-serif" font-size="34.2" font-weight="normal" fill="#231f20" text-anchor="end">0.00</text><line x1="164.5" y1="2339.6" x2="177.5" y2="2339.6" stroke="#231f20" stroke-width="2.8"/><text x="150.3" y="2352.2" font-family="'DejaVu Sans', sans-serif" font-size="34.2" font-weight="normal" fill="#231f20" text-anchor="end">0.02</text><line x1="164.5" y1="2238.2" x2="177.5" y2="2238.2" stroke="#231f20" stroke-width="2.8"/><text x="150.3" y="2250.8" font-family="'DejaVu Sans', sans-serif" font-size="34.2" font-weight="normal" fill="#231f20" text-anchor="end">0.04</text><line x1="164.5" y1="2136.7" x2="177.5" y2="2136.7" stroke="#231f20" stroke-width="2.8"/><text x="150.3" y="2149.3" font-family="'DejaVu Sans', sans-serif" font-size="34.2" font-weight="normal" fill="#231f20" text-anchor="end">0.06</text><text x="498.9" y="2030.3" font-family="'DejaVu Sans', sans-serif" font-size="34.2" font-weight="normal" fill="#231f20" text-anchor="middle">Model with GLM-T</text><text x="500.9" y="2540" font-family="'DejaVu Sans', sans-serif" font-size="34.2" font-weight="normal" fill="#231f20" text-anchor="middle">Trial</text><text transform="translate(54.5,2247) rotate(-90)" font-family="'DejaVu Sans', sans-serif" font-size="34.2" fill="#231f20" text-anchor="middle">First switching prob.</text><text transform="translate(1.7,2016.2) scale(1.039,1)" font-family="'Liberation Sans', Arial, sans-serif" font-size="47.35" font-weight="bold" fill="#231f20">b</text><text transform="translate(32.7,2013.6) scale(0.913,1)" font-family="'Liberation Sans', Arial, sans-serif" font-size="42.46" font-weight="bold" fill="#231f20">)</text><rect x="548.1" y="2068" width="261.6" height="97.8" rx="5.5" fill="#fff" fill-opacity="0.8" stroke="#d0d3d4" stroke-width="3.6"/><line x1="560.1" y1="2092.3" x2="621.6" y2="2092.3" stroke="#231f20" stroke-width="5.3" stroke-dasharray="19.6 8.8"/><line x1="560.1" y1="2136.6" x2="621.6" y2="2136.6" stroke="#231f20" stroke-width="5.3" stroke-dasharray="34 8.6 5.6 7.2"/><text x="644.6" y="2102.9" font-family="'DejaVu Sans', sans-serif" font-size="30.5" font-weight="normal" fill="#231f20" text-anchor="start">median</text><text x="644.6" y="2147.4" font-family="'DejaVu Sans', sans-serif" font-size="30.5" font-weight="normal" fill="#231f20" text-anchor="start">maximum</text><rect x="1027.5" y="2155.8" width="80.2" height="293.7" fill="#365ca7"/><rect x="1127.6" y="2265.7" width="80.2" height="183.7" fill="#d01c32"/><rect x="1227.7" y="2197.5" width="80.2" height="251.9" fill="#7677b0"/><rect x="1327.8" y="2345.9" width="80.2" height="103.5" fill="#c78290"/><rect x="1008.5" y="2060.5" width="419" height="388.9" fill="none" stroke="#231f20" stroke-width="2.9"/><line x1="1067.6" y1="2449.4" x2="1067.6" y2="2462.4" stroke="#231f20" stroke-width="2.8"/><text x="1067.6" y="2501.5" font-family="'DejaVu Sans', sans-serif" font-size="34.2" font-weight="normal" fill="#231f20" text-anchor="middle">1</text><line x1="1167.7" y1="2449.4" x2="1167.7" y2="2462.4" stroke="#231f20" stroke-width="2.8"/><text x="1167.7" y="2501.5" font-family="'DejaVu Sans', sans-serif" font-size="34.2" font-weight="normal" fill="#231f20" text-anchor="middle">2</text><line x1="1267.8" y1="2449.4" x2="1267.8" y2="2462.4" stroke="#231f20" stroke-width="2.8"/><text x="1267.8" y="2501.5" font-family="'DejaVu Sans', sans-serif" font-size="34.2" font-weight="normal" fill="#231f20" text-anchor="middle">3</text><line x1="1367.9" y1="2449.4" x2="1367.9" y2="2462.4" stroke="#231f20" stroke-width="2.8"/><text x="1367.9" y="2501.5" font-family="'DejaVu Sans', sans-serif" font-size="34.2" font-weight="normal" fill="#231f20" text-anchor="middle">4</text><line x1="995.5" y1="2371.6" x2="1008.5" y2="2371.6" stroke="#231f20" stroke-width="2.8"/><text x="981.9" y="2384.2" font-family="'DejaVu Sans', sans-serif" font-size="34.2" font-weight="normal" fill="#231f20" text-anchor="end">10</text><line x1="995.5" y1="2293.8" x2="1008.5" y2="2293.8" stroke="#231f20" stroke-width="2.8"/><text x="981.9" y="2306.4" font-family="'DejaVu Sans', sans-serif" font-size="34.2" font-weight="normal" fill="#231f20" text-anchor="end">20</text><line x1="995.5" y1="2216.1" x2="1008.5" y2="2216.1" stroke="#231f20" stroke-width="2.8"/><text x="981.9" y="2228.7" font-family="'DejaVu Sans', sans-serif" font-size="34.2" font-weight="normal" fill="#231f20" text-anchor="end">30</text><line x1="995.5" y1="2138.3" x2="1008.5" y2="2138.3" stroke="#231f20" stroke-width="2.8"/><text x="981.9" y="2150.9" font-family="'DejaVu Sans', sans-serif" font-size="34.2" font-weight="normal" fill="#231f20" text-anchor="end">40</text><line x1="995.5" y1="2060.5" x2="1008.5" y2="2060.5" stroke="#231f20" stroke-width="2.8"/><text x="981.9" y="2073.1" font-family="'DejaVu Sans', sans-serif" font-size="34.2" font-weight="normal" fill="#231f20" text-anchor="end">50</text><text x="1218" y="2037.9" font-family="'DejaVu Sans', sans-serif" font-size="34.2" font-weight="normal" fill="#3a5ca8" text-anchor="middle">Left-Bias blocks</text><text x="1218" y="2548" font-family="'DejaVu Sans', sans-serif" font-size="34.2" font-weight="normal" fill="#231f20" text-anchor="middle">state #</text><rect x="1597.6" y="2291.6" width="80.2" height="157.8" fill="#365ca7"/><rect x="1697.7" y="2137.6" width="80.2" height="311.8" fill="#d01c32"/><rect x="1797.8" y="2337.5" width="80.2" height="111.9" fill="#7677b0"/><rect x="1897.9" y="2209.4" width="80.2" height="240" fill="#c78290"/><rect x="1578.6" y="2060.5" width="419" height="388.9" fill="none" stroke="#231f20" stroke-width="2.9"/><line x1="1637.7" y1="2449.4" x2="1637.7" y2="2462.4" stroke="#231f20" stroke-width="2.8"/><text x="1637.7" y="2501.5" font-family="'DejaVu Sans', sans-serif" font-size="34.2" font-weight="normal" fill="#231f20" text-anchor="middle">1</text><line x1="1737.8" y1="2449.4" x2="1737.8" y2="2462.4" stroke="#231f20" stroke-width="2.8"/><text x="1737.8" y="2501.5" font-family="'DejaVu Sans', sans-serif" font-size="34.2" font-weight="normal" fill="#231f20" text-anchor="middle">2</text><line x1="1837.9" y1="2449.4" x2="1837.9" y2="2462.4" stroke="#231f20" stroke-width="2.8"/><text x="1837.9" y="2501.5" font-family="'DejaVu Sans', sans-serif" font-size="34.2" font-weight="normal" fill="#231f20" text-anchor="middle">3</text><line x1="1938" y1="2449.4" x2="1938" y2="2462.4" stroke="#231f20" stroke-width="2.8"/><text x="1938" y="2501.5" font-family="'DejaVu Sans', sans-serif" font-size="34.2" font-weight="normal" fill="#231f20" text-anchor="middle">4</text><line x1="1565.6" y1="2371.6" x2="1578.6" y2="2371.6" stroke="#231f20" stroke-width="2.8"/><text x="1552" y="2384.2" font-family="'DejaVu Sans', sans-serif" font-size="34.2" font-weight="normal" fill="#231f20" text-anchor="end">10</text><line x1="1565.6" y1="2293.8" x2="1578.6" y2="2293.8" stroke="#231f20" stroke-width="2.8"/><text x="1552" y="2306.4" font-family="'DejaVu Sans', sans-serif" font-size="34.2" font-weight="normal" fill="#231f20" text-anchor="end">20</text><line x1="1565.6" y1="2216.1" x2="1578.6" y2="2216.1" stroke="#231f20" stroke-width="2.8"/><text x="1552" y="2228.7" font-family="'DejaVu Sans', sans-serif" font-size="34.2" font-weight="normal" fill="#231f20" text-anchor="end">30</text><line x1="1565.6" y1="2138.3" x2="1578.6" y2="2138.3" stroke="#231f20" stroke-width="2.8"/><text x="1552" y="2150.9" font-family="'DejaVu Sans', sans-serif" font-size="34.2" font-weight="normal" fill="#231f20" text-anchor="end">40</text><line x1="1565.6" y1="2060.5" x2="1578.6" y2="2060.5" stroke="#231f20" stroke-width="2.8"/><text x="1552" y="2073.1" font-family="'DejaVu Sans', sans-serif" font-size="34.2" font-weight="normal" fill="#231f20" text-anchor="end">50</text><text x="1788.1" y="2037.9" font-family="'DejaVu Sans', sans-serif" font-size="34.2" font-weight="normal" fill="#e8719f" text-anchor="middle">Right-Bias blocks</text><text x="1788.1" y="2548" font-family="'DejaVu Sans', sans-serif" font-size="34.2" font-weight="normal" fill="#231f20" text-anchor="middle">state #</text><text transform="translate(917.5,2255.4) rotate(-90)" font-family="'DejaVu Sans', sans-serif" font-size="34.2" fill="#231f20" text-anchor="middle">Occurrence (%)</text><text transform="translate(874.9,2016.4) scale(0.910,1)" font-family="'Liberation Sans', Arial, sans-serif" font-size="45.18" font-weight="bold" fill="#231f20">c</text><text transform="translate(898.9,2013.6) scale(0.896,1)" font-family="'Liberation Sans', Arial, sans-serif" font-size="42.46" font-weight="bold" fill="#231f20">)</text></svg></body></html>
